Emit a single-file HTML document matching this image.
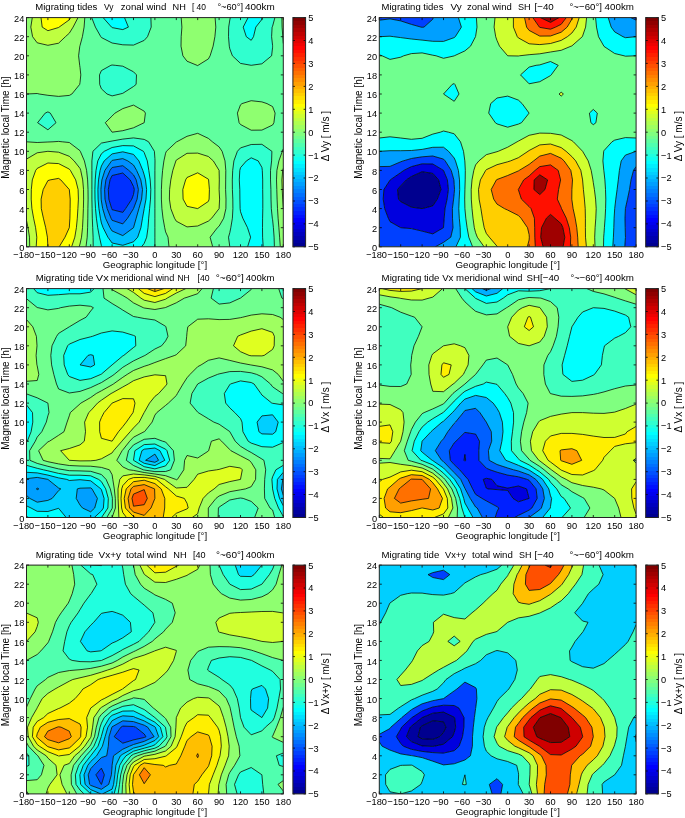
<!DOCTYPE html>
<html><head><meta charset="utf-8"><style>
html,body{margin:0;padding:0;background:#fff;}
svg{display:block;will-change:transform;}
</style></head><body>
<svg width="685" height="818" viewBox="0 0 685 818">
<defs><linearGradient id="jetg" x1="0" y1="0" x2="0" y2="1"><stop offset="0.0000" stop-color="#800000"/><stop offset="0.0156" stop-color="#800000"/><stop offset="0.0156" stop-color="#8f0000"/><stop offset="0.0312" stop-color="#8f0000"/><stop offset="0.0312" stop-color="#9f0000"/><stop offset="0.0469" stop-color="#9f0000"/><stop offset="0.0469" stop-color="#af0000"/><stop offset="0.0625" stop-color="#af0000"/><stop offset="0.0625" stop-color="#bf0000"/><stop offset="0.0781" stop-color="#bf0000"/><stop offset="0.0781" stop-color="#cf0000"/><stop offset="0.0938" stop-color="#cf0000"/><stop offset="0.0938" stop-color="#df0000"/><stop offset="0.1094" stop-color="#df0000"/><stop offset="0.1094" stop-color="#ef0000"/><stop offset="0.1250" stop-color="#ef0000"/><stop offset="0.1250" stop-color="#ff0000"/><stop offset="0.1406" stop-color="#ff0000"/><stop offset="0.1406" stop-color="#ff1000"/><stop offset="0.1562" stop-color="#ff1000"/><stop offset="0.1562" stop-color="#ff2000"/><stop offset="0.1719" stop-color="#ff2000"/><stop offset="0.1719" stop-color="#ff3000"/><stop offset="0.1875" stop-color="#ff3000"/><stop offset="0.1875" stop-color="#ff4000"/><stop offset="0.2031" stop-color="#ff4000"/><stop offset="0.2031" stop-color="#ff5000"/><stop offset="0.2188" stop-color="#ff5000"/><stop offset="0.2188" stop-color="#ff6000"/><stop offset="0.2344" stop-color="#ff6000"/><stop offset="0.2344" stop-color="#ff7000"/><stop offset="0.2500" stop-color="#ff7000"/><stop offset="0.2500" stop-color="#ff8000"/><stop offset="0.2656" stop-color="#ff8000"/><stop offset="0.2656" stop-color="#ff8f00"/><stop offset="0.2812" stop-color="#ff8f00"/><stop offset="0.2812" stop-color="#ff9f00"/><stop offset="0.2969" stop-color="#ff9f00"/><stop offset="0.2969" stop-color="#ffaf00"/><stop offset="0.3125" stop-color="#ffaf00"/><stop offset="0.3125" stop-color="#ffbf00"/><stop offset="0.3281" stop-color="#ffbf00"/><stop offset="0.3281" stop-color="#ffcf00"/><stop offset="0.3438" stop-color="#ffcf00"/><stop offset="0.3438" stop-color="#ffdf00"/><stop offset="0.3594" stop-color="#ffdf00"/><stop offset="0.3594" stop-color="#ffef00"/><stop offset="0.3750" stop-color="#ffef00"/><stop offset="0.3750" stop-color="#ffff00"/><stop offset="0.3906" stop-color="#ffff00"/><stop offset="0.3906" stop-color="#efff10"/><stop offset="0.4062" stop-color="#efff10"/><stop offset="0.4062" stop-color="#dfff20"/><stop offset="0.4219" stop-color="#dfff20"/><stop offset="0.4219" stop-color="#cfff30"/><stop offset="0.4375" stop-color="#cfff30"/><stop offset="0.4375" stop-color="#bfff40"/><stop offset="0.4531" stop-color="#bfff40"/><stop offset="0.4531" stop-color="#afff50"/><stop offset="0.4688" stop-color="#afff50"/><stop offset="0.4688" stop-color="#9fff60"/><stop offset="0.4844" stop-color="#9fff60"/><stop offset="0.4844" stop-color="#8fff70"/><stop offset="0.5000" stop-color="#8fff70"/><stop offset="0.5000" stop-color="#80ff80"/><stop offset="0.5156" stop-color="#80ff80"/><stop offset="0.5156" stop-color="#70ff8f"/><stop offset="0.5312" stop-color="#70ff8f"/><stop offset="0.5312" stop-color="#60ff9f"/><stop offset="0.5469" stop-color="#60ff9f"/><stop offset="0.5469" stop-color="#50ffaf"/><stop offset="0.5625" stop-color="#50ffaf"/><stop offset="0.5625" stop-color="#40ffbf"/><stop offset="0.5781" stop-color="#40ffbf"/><stop offset="0.5781" stop-color="#30ffcf"/><stop offset="0.5938" stop-color="#30ffcf"/><stop offset="0.5938" stop-color="#20ffdf"/><stop offset="0.6094" stop-color="#20ffdf"/><stop offset="0.6094" stop-color="#10ffef"/><stop offset="0.6250" stop-color="#10ffef"/><stop offset="0.6250" stop-color="#00ffff"/><stop offset="0.6406" stop-color="#00ffff"/><stop offset="0.6406" stop-color="#00efff"/><stop offset="0.6562" stop-color="#00efff"/><stop offset="0.6562" stop-color="#00dfff"/><stop offset="0.6719" stop-color="#00dfff"/><stop offset="0.6719" stop-color="#00cfff"/><stop offset="0.6875" stop-color="#00cfff"/><stop offset="0.6875" stop-color="#00bfff"/><stop offset="0.7031" stop-color="#00bfff"/><stop offset="0.7031" stop-color="#00afff"/><stop offset="0.7188" stop-color="#00afff"/><stop offset="0.7188" stop-color="#009fff"/><stop offset="0.7344" stop-color="#009fff"/><stop offset="0.7344" stop-color="#008fff"/><stop offset="0.7500" stop-color="#008fff"/><stop offset="0.7500" stop-color="#0080ff"/><stop offset="0.7656" stop-color="#0080ff"/><stop offset="0.7656" stop-color="#0070ff"/><stop offset="0.7812" stop-color="#0070ff"/><stop offset="0.7812" stop-color="#0060ff"/><stop offset="0.7969" stop-color="#0060ff"/><stop offset="0.7969" stop-color="#0050ff"/><stop offset="0.8125" stop-color="#0050ff"/><stop offset="0.8125" stop-color="#0040ff"/><stop offset="0.8281" stop-color="#0040ff"/><stop offset="0.8281" stop-color="#0030ff"/><stop offset="0.8438" stop-color="#0030ff"/><stop offset="0.8438" stop-color="#0020ff"/><stop offset="0.8594" stop-color="#0020ff"/><stop offset="0.8594" stop-color="#0010ff"/><stop offset="0.8750" stop-color="#0010ff"/><stop offset="0.8750" stop-color="#0000ff"/><stop offset="0.8906" stop-color="#0000ff"/><stop offset="0.8906" stop-color="#0000ef"/><stop offset="0.9062" stop-color="#0000ef"/><stop offset="0.9062" stop-color="#0000df"/><stop offset="0.9219" stop-color="#0000df"/><stop offset="0.9219" stop-color="#0000cf"/><stop offset="0.9375" stop-color="#0000cf"/><stop offset="0.9375" stop-color="#0000bf"/><stop offset="0.9531" stop-color="#0000bf"/><stop offset="0.9531" stop-color="#0000af"/><stop offset="0.9688" stop-color="#0000af"/><stop offset="0.9688" stop-color="#00009f"/><stop offset="0.9844" stop-color="#00009f"/><stop offset="0.9844" stop-color="#00008f"/><stop offset="1.0000" stop-color="#00008f"/></linearGradient></defs>
<clipPath id="cp0"><rect x="26.5" y="17.6" width="256.8" height="229.2"/></clipPath>
<g clip-path="url(#cp0)">
<rect x="26.5" y="17.6" width="256.8" height="229.2" fill="#60ff9f"/>
<path fill="#0030ff" d="M112.1 209.7L122.8 212.4L125.6 208.6L131.8 199.1L133.5 194.5L134.3 189.5L133.5 186.5L130.2 179.9L122.8 173L112.1 175.5L110 179.9L108.3 189.5L108.8 199.1L111.7 208.6Z"/>
<path fill="#0060ff" d="M112.1 220.3L122.8 223.9L127.6 218.2L133.5 208.6L133.5 208.6L137.1 199.1L138.4 189.5L136.2 179.9L133.5 174.9L128.8 170.4L122.8 165.7L112.1 167.5L110 170.4L105.9 179.9L104.6 189.5L105 199.1L107.2 208.6L111 218.2ZM111.7 208.6L108.8 199.1L108.3 189.5L110 179.9L112.1 175.5L122.8 173L130.2 179.9L133.5 186.5L134.3 189.5L133.5 194.5L131.8 199.1L125.6 208.6L122.8 212.4L112.1 209.7Z"/>
<path fill="#008fff" d="M112.1 231L122.8 235.6L133.5 227.7L133.5 227.7L136.2 218.2L138.9 208.6L141.6 199.1L142.5 189.5L140.8 179.9L136.6 170.4L133.5 165L127.8 160.9L122.8 158.6L112.1 160.4L111.6 160.9L104.9 170.4L101.9 179.9L101.4 184L100.9 189.5L101.2 199.1L101.4 201L102.7 208.6L105.5 218.2L110 227.7ZM111 218.2L107.2 208.6L105 199.1L104.6 189.5L105.9 179.9L110 170.4L112.1 167.5L122.8 165.7L128.8 170.4L133.5 174.9L136.2 179.9L138.4 189.5L137.1 199.1L133.5 208.6L133.5 208.6L127.6 218.2L122.8 223.9L112.1 220.3Z"/>
<path fill="#00bfff" d="M112.1 243L122.8 245.3L133.5 241.8L137.7 237.2L140.9 227.7L142.5 218.2L144.2 208.7L144.2 208.6L146 199.1L146.6 189.5L145.5 179.9L144.2 174.8L142.8 170.4L138.9 160.9L133.5 154.4L122.8 151.8L112.1 153.9L104.2 160.9L101.4 166L100.1 170.4L98.5 179.9L97.9 189.5L98.1 199.1L98.9 208.6L100.4 218.2L101.4 223L103.1 227.7L107.9 237.2ZM110 227.7L105.5 218.2L102.7 208.6L101.4 201L101.2 199.1L100.9 189.5L101.4 184L101.9 179.9L104.9 170.4L111.6 160.9L112.1 160.4L122.8 158.6L127.8 160.9L133.5 165L136.6 170.4L140.8 179.9L142.5 189.5L141.6 199.1L138.9 208.6L136.2 218.2L133.5 227.7L133.5 227.7L122.8 235.6L112.1 231Z"/>
<path fill="#00ffff" d="M101.4 245.7L102 246.8L112.1 246.8L122.8 246.8L133.5 246.8L141.5 246.8L144.2 243.4L146.7 237.2L148 227.7L148.7 218.2L149.6 208.6L150.5 199.1L150.8 189.5L150.2 179.9L148.8 170.4L147.3 160.9L144.2 152.6L143.4 151.3L133.5 145.9L122.8 145.6L112.1 147.5L104.3 151.3L101.4 153.8L97.8 160.9L96 170.4L95.2 179.9L94.9 189.5L95 199.1L95.5 208.6L96.4 218.2L97.7 227.7L99.5 237.2ZM107.9 237.2L103.1 227.7L101.4 223L100.4 218.2L98.9 208.6L98.1 199.1L97.9 189.5L98.5 179.9L100.1 170.4L101.4 166L104.2 160.9L112.1 153.9L122.8 151.8L133.5 154.4L138.9 160.9L142.8 170.4L144.2 174.8L145.5 179.9L146.6 189.5L146 199.1L144.2 208.6L144.2 208.7L142.5 218.2L140.9 227.7L137.7 237.2L133.5 241.8L122.8 245.3L112.1 243ZM251.2 246.8L261.9 246.8L263.2 246.8L262.6 237.2L262.5 227.7L262.6 218.2L262.8 208.6L262.8 199.1L262.7 189.5L262.7 179.9L262.3 170.4L261.9 167.4L258.2 160.9L251.2 157.8L246.4 160.9L240.5 167.7L239.8 170.4L239.3 179.9L239.8 189.5L239.9 199.1L240.1 208.6L240.5 211.7L242.8 218.2L247.5 227.7L250.6 237.2L247.6 246.8ZM251.2 40.3L253.5 36.7L255.8 27.1L261.9 19.4L262.6 17.6L261.9 17.6L251.2 17.6L248.1 17.6L243.2 27.1L246.3 36.7ZM112.1 27.6L122.8 29.6L128.4 27.1L124.5 17.6L122.8 17.6L112.1 17.6L103.1 17.6L111.5 27.1Z"/>
<path fill="#30ffcf" d="M101.4 246.8L102 246.8L101.4 245.7L99.5 237.2L97.7 227.7L96.4 218.2L95.5 208.6L95 199.1L94.9 189.5L95.2 179.9L96 170.4L97.8 160.9L101.4 153.8L104.3 151.3L112.1 147.5L122.8 145.6L133.5 145.9L143.4 151.3L144.2 152.6L147.3 160.9L148.8 170.4L150.2 179.9L150.8 189.5L150.5 199.1L149.6 208.6L148.7 218.2L148 227.7L146.7 237.2L144.2 243.4L141.5 246.8L144.2 246.8L154.9 246.8L154.9 246.8L154.9 237.2L154.9 227.7L154.9 227.7L154.9 218.2L154.9 208.6L154.9 208.6L154.9 199.1L154.9 189.5L154.9 189.5L154.9 179.9L154.9 170.4L154.9 170.4L155 160.9L154.9 158.4L154.4 151.3L148.6 141.8L144.2 139.4L133.5 137.9L122.8 139.1L112.1 141L107.9 141.8L101.4 143.1L92.9 151.3L91.9 160.9L91.9 170.4L91.9 179.9L91.9 189.5L91.9 199.1L92.1 208.6L92.3 218.2L92.7 227.7L93.1 237.2L93.2 246.8ZM229.8 246.8L240.5 246.8L247.6 246.8L250.6 237.2L247.5 227.7L242.8 218.2L240.5 211.7L240.1 208.6L239.9 199.1L239.8 189.5L239.3 179.9L239.8 170.4L240.5 167.7L246.4 160.9L251.2 157.8L258.2 160.9L261.9 167.4L262.3 170.4L262.7 179.9L262.7 189.5L262.8 199.1L262.8 208.6L262.6 218.2L262.5 227.7L262.6 237.2L263.2 246.8L272.6 246.8L274.4 246.8L274.1 237.2L273.4 227.7L272.6 219.7L272.3 218.2L271.3 208.6L271 199.1L270.9 189.5L270.5 179.9L270.5 170.4L271.6 160.9L271.9 151.3L261.9 144.3L251.2 144.5L240.5 147.9L237.4 151.3L233.9 160.9L232.7 170.4L232.3 179.9L232.4 189.5L232.8 199.1L232.9 208.6L232.4 218.2L230.8 227.7L229.8 232.7L228.5 237.2L229.8 246.8ZM47.9 129.8L56 122.7L50.3 113.1L47.9 111.9L45.2 113.1L37.6 122.7ZM112.1 95.9L120.1 94L122.8 93.3L133.5 86.5L136.1 84.4L136.5 74.9L133.5 71.8L122.8 66.2L115.2 65.3L112.1 65L110.9 65.3L101.4 70.6L99.5 74.9L99.7 84.4L101.4 88.8L107 94ZM240.5 63.4L251.2 65.3L261.9 63.8L271.6 55.8L272.6 47.2L272.6 46.2L272.6 45.7L271.6 36.7L272.1 27.1L272.6 26.2L274.9 17.6L272.6 17.6L262.6 17.6L261.9 19.4L255.8 27.1L253.5 36.7L251.2 40.3L246.3 36.7L243.2 27.1L248.1 17.6L240.5 17.6L230.3 17.6L229.8 20L228.7 27.1L228.5 36.7L229.3 46.2L229.8 48.8L232.4 55.8ZM101.4 37.5L112.1 43L122.8 44.8L133.5 45.1L144.2 40.4L147.5 36.7L151.2 27.1L150.9 17.6L144.2 17.6L133.5 17.6L124.5 17.6L128.4 27.1L122.8 29.6L112.1 27.6L111.5 27.1L103.1 17.6L101.4 17.6L91.7 17.6L95.4 27.1L100.8 36.7Z"/>
<path fill="#60ff9f" d="M90.7 246.8L93.2 246.8L93.1 237.2L92.7 227.7L92.3 218.2L92.1 208.6L91.9 199.1L91.9 189.5L91.9 179.9L91.9 170.4L91.9 160.9L92.9 151.3L101.4 143.1L107.9 141.8L112.1 141L122.8 139.1L133.5 137.9L144.2 139.4L148.6 141.8L154.4 151.3L154.9 158.4L155 160.9L154.9 170.4L154.9 170.4L154.9 179.9L154.9 189.5L154.9 189.5L154.9 199.1L154.9 208.6L154.9 208.6L154.9 218.2L154.9 227.7L154.9 227.7L154.9 237.2L154.9 246.8L165.6 246.8L169 246.8L168 237.2L165.6 231.9L164.7 227.7L163 218.2L161.9 208.6L161.4 199.1L161.4 189.5L161.8 179.9L162.6 170.4L163.9 160.9L165.6 153.2L166.4 151.3L176.3 142L176.8 141.8L187 136.3L197.7 133.3L208.4 138.4L212.4 141.8L219.1 146.9L222.1 151.3L225 160.9L225.8 170.4L225.7 179.9L225.6 189.5L226 199.1L225.9 208.6L223.7 218.2L219.1 226.2L217.4 227.7L210.1 237.2L212.7 246.8L219.1 246.8L229.8 246.8L228.5 237.2L229.8 232.7L230.8 227.7L232.4 218.2L232.9 208.6L232.8 199.1L232.4 189.5L232.3 179.9L232.7 170.4L233.9 160.9L237.4 151.3L240.5 147.9L251.2 144.5L261.9 144.3L271.9 151.3L271.6 160.9L270.5 170.4L270.5 179.9L270.9 189.5L271 199.1L271.3 208.6L272.3 218.2L272.6 219.7L273.4 227.7L274.1 237.2L274.4 246.8L280.3 246.8L279.6 237.2L278.9 227.7L278.1 218.2L277.5 208.6L277.1 199.1L276.8 189.5L276.5 179.9L276.9 170.4L278.9 160.9L282.3 151.3L283.3 148.8L283.3 141.8L283.3 132.2L283.3 122.7L283.3 113.1L283.3 103.6L283.3 94L283.3 84.4L283.3 74.9L283.3 65.3L283.3 55.8L283.3 46.2L283.3 43.5L282.8 36.7L282.1 27.1L281.9 17.6L274.9 17.6L272.6 26.2L272.1 27.1L271.6 36.7L272.6 45.7L272.6 46.2L272.6 47.2L271.6 55.8L261.9 63.8L251.2 65.3L240.5 63.4L232.4 55.8L229.8 48.8L229.3 46.2L228.5 36.7L228.7 27.1L229.8 20L230.3 17.6L229.8 17.6L219.1 17.6L215.1 17.6L215.8 27.1L214.9 36.7L213.1 46.2L210.1 55.8L208.4 58.9L198.1 65.3L197.7 65.6L197 65.3L187 61.2L182.9 55.8L181 46.2L181.2 36.7L181.9 27.1L181.2 17.6L176.3 17.6L165.6 17.6L154.9 17.6L150.9 17.6L151.2 27.1L147.5 36.7L144.2 40.4L133.5 45.1L122.8 44.8L112.1 43L101.4 37.5L100.8 36.7L95.4 27.1L91.7 17.6L90.7 17.6L84.8 17.6L84.1 27.1L82.4 36.7L80 45.6L79.8 46.3L78.6 55.8L79.7 65.3L80 67.4L80.8 74.9L80 82.6L79.7 84.4L71.9 94L69.3 95.4L58.6 96.4L47.9 95.3L39.2 94L37.2 93.5L26.5 94L26.5 94L26.5 103.6L26.5 113.1L26.5 122.7L26.5 132.2L26.5 141.8L26.5 141.8L37.2 142.5L47.9 142L53 141.8L58.6 141.4L62.2 141.8L69.3 142.5L80 150.7L80.3 151.3L84.4 160.9L86.6 170.4L87.6 179.9L88 189.5L88.1 199.1L87.9 208.6L87.8 218.2L87.6 227.7L87.2 237.2L86 246.8ZM112.1 132.2L105.3 122.7L112.1 116L115 113.1L122.8 108.6L133.5 105.1L144.2 111.2L145.4 113.1L144.2 122.7L144.2 122.7L133.5 127.8L122.8 130.7L112.1 132.2L112.1 132.2ZM37.6 122.7L45.2 113.1L47.9 111.9L50.3 113.1L56 122.7L47.9 129.8ZM239.1 122.7L237.4 113.1L240.5 104.8L242 103.5L251.2 100.7L261.9 101.9L267 103.6L272.6 106.6L275.1 113.1L273.9 122.7L272.6 125L261.9 130.1L251.2 130.2L240.5 124.5ZM107 94L101.4 88.8L99.7 84.4L99.5 74.9L101.4 70.6L110.9 65.3L112.1 65L115.2 65.3L122.8 66.2L133.5 71.8L136.5 74.9L136.1 84.4L133.5 86.5L122.8 93.3L120.1 94L112.1 95.9Z"/>
<path fill="#8fff70" d="M29.5 237.2L28 227.7L26.5 220.5L26.5 227.7L26.5 237.2L26.5 246.8L29.7 246.8ZM80 246.8L86 246.8L87.2 237.2L87.6 227.7L87.8 218.2L87.9 208.6L88.1 199.1L88 189.5L87.6 179.9L86.6 170.4L84.4 160.9L80.3 151.3L80 150.7L69.3 142.5L62.2 141.8L58.6 141.4L53 141.8L47.9 142L37.2 142.5L26.5 141.8L26.5 151.3L26.5 159.1L37.2 152.8L47.9 151.3L58.6 152.2L69.3 156.3L74.1 160.9L80 168.4L80.7 170.4L82.7 179.9L83.5 189.5L83.6 199.1L83.4 208.6L83 218.2L82.5 227.7L81.5 237.2L80 244L79.2 246.8ZM176.3 246.8L187 246.8L197.7 246.8L208.4 246.8L212.7 246.8L210.1 237.2L217.4 227.7L219.1 226.2L223.7 218.2L225.9 208.6L226 199.1L225.6 189.5L225.7 179.9L225.8 170.4L225 160.9L222.1 151.3L219.1 146.9L212.4 141.8L208.4 138.4L197.7 133.3L187 136.3L176.8 141.8L176.3 142L166.4 151.3L165.6 153.2L163.9 160.9L162.6 170.4L161.8 179.9L161.4 189.5L161.4 199.1L161.9 208.6L163 218.2L164.7 227.7L165.6 231.9L168 237.2L169 246.8ZM174.5 218.2L170.8 208.6L169.4 199.1L169.6 189.5L170.8 179.9L172.8 170.4L175.9 160.9L176.3 160.1L187 153.3L197.7 153.1L208.4 156.5L213.3 160.9L219.1 170.4L219.1 170.4L219.3 179.9L219.1 189.5L219.6 199.1L219.1 208.6L219.1 208.6L211.7 218.2L208.4 221.1L197.7 226L187 226.9L176.3 221.2ZM283.3 246.8L283.3 237.2L283.3 227.7L283.3 218.2L283.3 208.6L283.3 208.6L282.7 199.1L282.2 189.5L281.9 179.9L282.7 170.4L283.3 168.3L283.3 160.9L283.3 151.3L283.3 148.8L282.3 151.3L278.9 160.9L276.9 170.4L276.5 179.9L276.8 189.5L277.1 199.1L277.5 208.6L278.1 218.2L278.9 227.7L279.6 237.2L280.3 246.8ZM112.1 132.2L112.1 132.2L122.8 130.7L133.5 127.8L144.2 122.7L144.2 122.7L145.4 113.1L144.2 111.2L133.5 105.1L122.8 108.6L115 113.1L112.1 116L105.3 122.7L112.1 132.2ZM240.5 124.5L251.2 130.2L261.9 130.1L272.6 125L273.9 122.7L275.1 113.1L272.6 106.6L267 103.6L261.9 101.9L251.2 100.7L242 103.6L240.5 104.8L237.4 113.1L239.1 122.7ZM47.9 95.3L58.6 96.4L69.3 95.4L71.9 94L79.7 84.4L80 82.6L80.8 74.9L80 67.4L79.7 65.3L78.6 55.8L79.8 46.2L80 45.6L82.4 36.7L84.1 27.1L84.8 17.6L80 17.6L78 17.6L73.1 27.1L69.3 33.2L65.4 36.7L58.6 43.2L47.9 45.3L37.2 42.8L32.6 36.7L30.8 27.1L32.3 17.6L26.5 17.6L26.5 27.1L26.5 36.7L26.5 46.2L26.5 55.8L26.5 65.3L26.5 74.9L26.5 84.4L26.5 94L37.2 93.5L39.2 94ZM197.7 65.6L198.1 65.3L208.4 58.9L210.1 55.8L213.1 46.2L214.9 36.7L215.8 27.1L215.1 17.6L208.4 17.6L197.7 17.6L187 17.6L181.2 17.6L181.9 27.1L181.2 36.7L181 46.2L182.9 55.8L187 61.2L197 65.3ZM283.3 43.5L283.3 36.7L283.3 27.1L283.3 17.6L281.9 17.6L282.1 27.1L282.8 36.7Z"/>
<path fill="#bfff40" d="M36.8 237.2L35.6 227.7L33.6 218.2L31.9 208.6L31.2 199.1L31.3 189.5L32.3 179.9L35.7 170.4L37.2 168.4L47.9 163L58.6 163.6L69.3 169.1L70.4 170.4L75.7 179.9L78.1 189.5L78.4 199.1L77.9 208.6L77.3 218.2L76.4 227.7L74.8 237.2L71.6 246.8L79.2 246.8L80 244L81.5 237.2L82.5 227.7L83 218.2L83.4 208.6L83.6 199.1L83.5 189.5L82.7 179.9L80.7 170.4L80 168.4L74.1 160.9L69.3 156.3L58.6 152.2L47.9 151.3L37.2 152.8L26.5 159.1L26.5 160.9L26.5 170.4L26.5 179.9L26.5 189.5L26.5 199.1L26.5 208.6L26.5 218.2L26.5 220.5L28 227.7L29.5 237.2L29.7 246.8L36.2 246.8ZM176.3 221.2L187 226.9L197.7 226L208.4 221.1L211.7 218.2L219.1 208.6L219.1 208.6L219.6 199.1L219.1 189.5L219.3 179.9L219.1 170.4L219.1 170.4L213.3 160.9L208.4 156.5L197.7 153.1L187 153.3L176.3 160.1L175.9 160.9L172.8 170.4L170.8 179.9L169.6 189.5L169.4 199.1L170.8 208.6L174.5 218.2ZM197.7 208.6L187 206.3L183.1 199.1L182.8 189.5L185.6 179.9L187 177.5L197.7 172.8L208.4 179.2L208.6 179.9L209.4 189.5L209.1 199.1L208.4 201.4L197.7 208.6L197.7 208.6ZM283.3 208.6L283.3 208.6L283.3 199.1L283.3 189.5L283.3 179.9L283.3 170.4L283.3 168.3L282.7 170.4L281.9 179.9L282.2 189.5L282.7 199.1L283.3 208.6ZM37.2 42.8L47.9 45.3L58.6 43.2L65.4 36.7L69.3 33.2L73.1 27.1L78 17.6L70.7 17.6L69.3 19.8L59 27.1L58.6 27.5L47.9 30.7L42.2 27.1L41 17.6L37.2 17.6L32.3 17.6L30.8 27.1L32.6 36.7Z"/>
<path fill="#ffff00" d="M37.2 246.8L47.9 246.8L47.4 237.2L45.7 227.7L43.4 218.2L41.3 208.6L41.1 199.1L43.2 189.5L47.9 180.6L50.1 179.9L58.6 178.4L60.8 179.9L69.3 189.5L69.3 189.5L70.2 199.1L70.1 208.6L69.9 218.2L69.3 227.7L69.3 227.7L65 237.2L59.2 246.8L69.3 246.8L71.6 246.8L74.8 237.2L76.4 227.7L77.3 218.2L77.9 208.6L78.4 199.1L78.1 189.5L75.7 179.9L70.4 170.4L69.3 169.1L58.6 163.6L47.9 163L37.2 168.4L35.7 170.4L32.3 179.9L31.3 189.5L31.2 199.1L31.9 208.6L33.6 218.2L35.6 227.7L36.8 237.2L36.2 246.8ZM197.7 208.6L197.7 208.6L208.4 201.4L209.1 199.1L209.4 189.5L208.6 179.9L208.4 179.2L197.7 172.8L187 177.5L185.6 179.9L182.8 189.5L183.1 199.1L187 206.3L197.7 208.6ZM47.9 30.7L58.6 27.5L59 27.2L69.3 19.8L70.7 17.6L69.3 17.6L58.6 17.6L47.9 17.6L41 17.6L42.2 27.1Z"/>
<path fill="#ffcf00" d="M47.9 246.8L58.6 246.8L59.2 246.8L65 237.2L69.3 227.7L69.3 227.7L69.9 218.2L70.1 208.6L70.2 199.1L69.3 189.5L69.3 189.5L60.8 179.9L58.6 178.4L50.1 179.9L47.9 180.6L43.2 189.5L41.1 199.1L41.3 208.6L43.4 218.2L45.7 227.7L47.4 237.2L47.9 246.8Z"/>
<path fill="none" stroke="#000" stroke-width="0.75" stroke-linejoin="round" d="M112.1 209.7L111.7 208.6L108.8 199.1L108.3 189.5L110 179.9L112.1 175.5L122.8 173L130.2 179.9L133.5 186.5L134.3 189.5L133.5 194.5L131.8 199.1L125.6 208.6L122.8 212.4L112.1 209.7M112.1 220.3L111 218.2L107.2 208.6L105 199.1L104.6 189.5L105.9 179.9L110 170.4L112.1 167.5L122.8 165.7L128.8 170.4L133.5 174.9L136.2 179.9L138.4 189.5L137.1 199.1L133.5 208.6L133.5 208.6L127.6 218.2L122.8 223.9ZM112.1 231L110 227.7L105.5 218.2L102.7 208.6L101.4 201L101.2 199.1L100.9 189.5L101.4 184L101.9 179.9L104.9 170.4L111.6 160.9L112.1 160.4L122.8 158.6L127.8 160.9L133.5 165L136.6 170.4L140.8 179.9L142.5 189.5L141.6 199.1L138.9 208.6L136.2 218.2L133.5 227.7L133.5 227.7L122.8 235.6L112.1 231M112.1 243L107.9 237.2L103.1 227.7L101.4 223L100.4 218.2L98.9 208.6L98.1 199.1L97.9 189.5L98.5 179.9L100.1 170.4L101.4 166L104.2 160.9L112.1 153.9L122.8 151.8L133.5 154.4L138.9 160.9L142.8 170.4L144.2 174.8L145.5 179.9L146.6 189.5L146 199.1L144.2 208.6L144.2 208.7L142.5 218.2L140.9 227.7L137.7 237.2L133.5 241.8L122.8 245.3L112.1 243M102 246.8L101.4 245.7L99.5 237.2L97.7 227.7L96.4 218.2L95.5 208.6L95 199.1L94.9 189.5L95.2 179.9L96 170.4L97.8 160.9L101.4 153.8L104.3 151.3L112.1 147.5L122.8 145.6L133.5 145.9L143.4 151.3L144.2 152.6L147.3 160.9L148.8 170.4L150.2 179.9L150.8 189.5L150.5 199.1L149.6 208.6L148.7 218.2L148 227.7L146.7 237.2L144.2 243.4L141.5 246.8M247.6 246.8L250.6 237.2L247.5 227.7L242.8 218.2L240.5 211.7L240.1 208.6L239.9 199.1L239.8 189.5L239.3 179.9L239.8 170.4L240.5 167.7L246.4 160.9L251.2 157.8L258.2 160.9L261.9 167.4L262.3 170.4L262.7 179.9L262.7 189.5L262.8 199.1L262.8 208.6L262.6 218.2L262.5 227.7L262.6 237.2L263.2 246.8M124.5 17.6L128.4 27.1L122.8 29.6L112.1 27.6L111.5 27.1L103.1 17.6M262.6 17.6L261.9 19.4L255.8 27.1L253.5 36.7L251.2 40.3L246.3 36.7L243.2 27.1L248.1 17.6M93.2 246.8L93.1 237.2L92.7 227.7L92.3 218.2L92.1 208.6L91.9 199.1L91.9 189.5L91.9 179.9L91.9 170.4L91.9 160.9L92.9 151.3L101.4 143.1L107.9 141.8L112.1 141L122.8 139.1L133.5 137.9L144.2 139.4L148.6 141.8L154.4 151.3L154.9 158.4L155 160.9L154.9 170.4L154.9 170.4L154.9 179.9L154.9 189.5L154.9 189.5L154.9 199.1L154.9 208.6L154.9 208.6L154.9 218.2L154.9 227.7L154.9 227.7L154.9 237.2L154.9 246.8M229.8 246.8L228.5 237.2L229.8 232.7L230.8 227.7L232.4 218.2L232.9 208.6L232.8 199.1L232.4 189.5L232.3 179.9L232.7 170.4L233.9 160.9L237.4 151.3L240.5 147.9L251.2 144.5L261.9 144.3L271.9 151.3L271.6 160.9L270.5 170.4L270.5 179.9L270.9 189.5L271 199.1L271.3 208.6L272.3 218.2L272.6 219.7L273.4 227.7L274.1 237.2L274.4 246.8M150.9 17.6L151.2 27.1L147.5 36.7L144.2 40.4L133.5 45.1L122.8 44.8L112.1 43L101.4 37.5L100.8 36.7L95.4 27.1L91.7 17.6M274.9 17.6L272.6 26.2L272.1 27.1L271.6 36.7L272.6 45.7L272.6 46.2L272.6 47.2L271.6 55.8L261.9 63.8L251.2 65.3L240.5 63.4L232.4 55.8L229.8 48.8L229.3 46.2L228.5 36.7L228.7 27.1L229.8 20L230.3 17.6M47.9 129.8L37.6 122.7L45.2 113.1L47.9 111.9L50.3 113.1L56 122.7ZM112.1 95.9L107 94L101.4 88.8L99.7 84.4L99.5 74.9L101.4 70.6L110.9 65.3L112.1 65L115.2 65.3L122.8 66.2L133.5 71.8L136.5 74.9L136.1 84.4L133.5 86.5L122.8 93.3L120.1 94ZM86 246.8L87.2 237.2L87.6 227.7L87.8 218.2L87.9 208.6L88.1 199.1L88 189.5L87.6 179.9L86.6 170.4L84.4 160.9L80.3 151.3L80 150.7L69.3 142.5L62.2 141.8L58.6 141.4L53 141.8L47.9 142L37.2 142.5L26.5 141.8M212.7 246.8L210.1 237.2L217.4 227.7L219.1 226.2L223.7 218.2L225.9 208.6L226 199.1L225.6 189.5L225.7 179.9L225.8 170.4L225 160.9L222.1 151.3L219.1 146.9L212.4 141.8L208.4 138.4L197.7 133.3L187 136.3L176.8 141.8L176.3 142L166.4 151.3L165.6 153.2L163.9 160.9L162.6 170.4L161.8 179.9L161.4 189.5L161.4 199.1L161.9 208.6L163 218.2L164.7 227.7L165.6 231.9L168 237.2L169 246.8M283.3 148.8L282.3 151.3L278.9 160.9L276.9 170.4L276.5 179.9L276.8 189.5L277.1 199.1L277.5 208.6L278.1 218.2L278.9 227.7L279.6 237.2L280.3 246.8M26.5 94L37.2 93.5L39.2 94L47.9 95.3L58.6 96.4L69.3 95.4L71.9 94L79.7 84.4L80 82.6L80.8 74.9L80 67.4L79.7 65.3L78.6 55.8L79.8 46.2L80 45.6L82.4 36.7L84.1 27.1L84.8 17.6M181.2 17.6L181.9 27.1L181.2 36.7L181 46.2L182.9 55.8L187 61.2L197 65.3L197.7 65.6L198.1 65.3L208.4 58.9L210.1 55.8L213.1 46.2L214.9 36.7L215.8 27.1L215.1 17.6M281.9 17.6L282.1 27.1L282.8 36.7L283.3 43.5M112.1 132.2L112.1 132.2L122.8 130.7L133.5 127.8L144.2 122.7L144.2 122.7L145.4 113.1L144.2 111.2L133.5 105.1L122.8 108.6L115 113.1L112.1 116L105.3 122.7L112.1 132.2ZM240.5 124.5L251.2 130.2L261.9 130.1L272.6 125L273.9 122.7L275.1 113.1L272.6 106.6L267 103.6L261.9 101.9L251.2 100.7L242 103.6L240.5 104.8L237.4 113.1L239.1 122.7ZM79.2 246.8L80 244L81.5 237.2L82.5 227.7L83 218.2L83.4 208.6L83.6 199.1L83.5 189.5L82.7 179.9L80.7 170.4L80 168.4L74.1 160.9L69.3 156.3L58.6 152.2L47.9 151.3L37.2 152.8L26.5 159.1M26.5 220.5L28 227.7L29.5 237.2L29.7 246.8M283.3 168.3L282.7 170.4L281.9 179.9L282.2 189.5L282.7 199.1L283.3 208.6L283.3 208.6M32.3 17.6L30.8 27.1L32.6 36.7L37.2 42.8L47.9 45.3L58.6 43.2L65.4 36.7L69.3 33.2L73.1 27.1L78 17.6M176.3 221.2L187 226.9L197.7 226L208.4 221.1L211.7 218.2L219.1 208.6L219.1 208.6L219.6 199.1L219.1 189.5L219.3 179.9L219.1 170.4L219.1 170.4L213.3 160.9L208.4 156.5L197.7 153.1L187 153.3L176.3 160.1L175.9 160.9L172.8 170.4L170.8 179.9L169.6 189.5L169.4 199.1L170.8 208.6L174.5 218.2ZM71.6 246.8L74.8 237.2L76.4 227.7L77.3 218.2L77.9 208.6L78.4 199.1L78.1 189.5L75.7 179.9L70.4 170.4L69.3 169.1L58.6 163.6L47.9 163L37.2 168.4L35.7 170.4L32.3 179.9L31.3 189.5L31.2 199.1L31.9 208.6L33.6 218.2L35.6 227.7L36.8 237.2L36.2 246.8M41 17.6L42.2 27.1L47.9 30.7L58.6 27.5L59 27.2L69.3 19.8L70.7 17.6M197.7 208.6L197.7 208.6L208.4 201.4L209.1 199.1L209.4 189.5L208.6 179.9L208.4 179.2L197.7 172.8L187 177.5L185.6 179.9L182.8 189.5L183.1 199.1L187 206.3L197.7 208.6ZM59.2 246.8L65 237.2L69.3 227.7L69.3 227.7L69.9 218.2L70.1 208.6L70.2 199.1L69.3 189.5L69.3 189.5L60.8 179.9L58.6 178.4L50.1 179.9L47.9 180.6L43.2 189.5L41.1 199.1L41.3 208.6L43.4 218.2L45.7 227.7L47.4 237.2L47.9 246.8"/>
</g>
<path fill="none" stroke="#000" stroke-width="0.8" d="M26.5 17.6v2.5M26.5 246.8v-2.5M26.5 246.8h2.5M283.3 246.8h-2.5M47.9 17.6v2.5M47.9 246.8v-2.5M26.5 227.7h2.5M283.3 227.7h-2.5M69.3 17.6v2.5M69.3 246.8v-2.5M26.5 208.6h2.5M283.3 208.6h-2.5M90.7 17.6v2.5M90.7 246.8v-2.5M26.5 189.5h2.5M283.3 189.5h-2.5M112.1 17.6v2.5M112.1 246.8v-2.5M26.5 170.4h2.5M283.3 170.4h-2.5M133.5 17.6v2.5M133.5 246.8v-2.5M26.5 151.3h2.5M283.3 151.3h-2.5M154.9 17.6v2.5M154.9 246.8v-2.5M26.5 132.2h2.5M283.3 132.2h-2.5M176.3 17.6v2.5M176.3 246.8v-2.5M26.5 113.1h2.5M283.3 113.1h-2.5M197.7 17.6v2.5M197.7 246.8v-2.5M26.5 94h2.5M283.3 94h-2.5M219.1 17.6v2.5M219.1 246.8v-2.5M26.5 74.9h2.5M283.3 74.9h-2.5M240.5 17.6v2.5M240.5 246.8v-2.5M26.5 55.8h2.5M283.3 55.8h-2.5M261.9 17.6v2.5M261.9 246.8v-2.5M26.5 36.7h2.5M283.3 36.7h-2.5M283.3 17.6v2.5M283.3 246.8v-2.5M26.5 17.6h2.5M283.3 17.6h-2.5"/>
<rect x="26.5" y="17.6" width="256.8" height="229.2" fill="none" stroke="#222" stroke-width="1"/>
<g font-family="Liberation Sans, sans-serif" font-size="9.75" fill="#000"><text transform="translate(24.3 250.9) scale(0.95 1)" text-anchor="end">0</text><text transform="translate(24.3 231.8) scale(0.95 1)" text-anchor="end">2</text><text transform="translate(24.3 212.7) scale(0.95 1)" text-anchor="end">4</text><text transform="translate(24.3 193.6) scale(0.95 1)" text-anchor="end">6</text><text transform="translate(24.3 174.5) scale(0.95 1)" text-anchor="end">8</text><text transform="translate(24.3 155.4) scale(0.95 1)" text-anchor="end">10</text><text transform="translate(24.3 136.3) scale(0.95 1)" text-anchor="end">12</text><text transform="translate(24.3 117.2) scale(0.95 1)" text-anchor="end">14</text><text transform="translate(24.3 98.1) scale(0.95 1)" text-anchor="end">16</text><text transform="translate(24.3 79) scale(0.95 1)" text-anchor="end">18</text><text transform="translate(24.3 59.9) scale(0.95 1)" text-anchor="end">20</text><text transform="translate(24.3 40.8) scale(0.95 1)" text-anchor="end">22</text><text transform="translate(24.3 21.7) scale(0.95 1)" text-anchor="end">24</text><text transform="translate(23.8 258.3) scale(0.95 1)" text-anchor="middle">−180</text><text transform="translate(45.2 258.3) scale(0.95 1)" text-anchor="middle">−150</text><text transform="translate(66.6 258.3) scale(0.95 1)" text-anchor="middle">−120</text><text transform="translate(88 258.3) scale(0.95 1)" text-anchor="middle">−90</text><text transform="translate(109.4 258.3) scale(0.95 1)" text-anchor="middle">−60</text><text transform="translate(130.8 258.3) scale(0.95 1)" text-anchor="middle">−30</text><text transform="translate(154.9 258.3) scale(0.95 1)" text-anchor="middle">0</text><text transform="translate(176.3 258.3) scale(0.95 1)" text-anchor="middle">30</text><text transform="translate(197.7 258.3) scale(0.95 1)" text-anchor="middle">60</text><text transform="translate(219.1 258.3) scale(0.95 1)" text-anchor="middle">90</text><text transform="translate(240.5 258.3) scale(0.95 1)" text-anchor="middle">120</text><text transform="translate(261.9 258.3) scale(0.95 1)" text-anchor="middle">150</text><text transform="translate(283.3 258.3) scale(0.95 1)" text-anchor="middle">180</text></g>
<text font-family="Liberation Sans, sans-serif" font-size="9.75" fill="#000" x="102.7" y="268" textLength="104.4" lengthAdjust="spacingAndGlyphs">Geographic longitude [°]</text>
<text font-family="Liberation Sans, sans-serif" font-size="10" fill="#000" transform="translate(9.1 127.6) rotate(-90)" text-anchor="middle">Magnetic local Time [h]</text>
<g font-family="Liberation Sans, sans-serif" font-size="9.7" fill="#000"><text x="35.3" y="10.3" textLength="62.1" lengthAdjust="spacingAndGlyphs">Migrating tides</text><text x="104" y="10.3" textLength="9.5" lengthAdjust="spacingAndGlyphs">Vy</text><text x="120.7" y="10.3" textLength="45.6" lengthAdjust="spacingAndGlyphs">zonal wind</text><text x="172.5" y="10.3" textLength="13.3" lengthAdjust="spacingAndGlyphs">NH</text><text x="191.9" y="10.3" textLength="14.1" lengthAdjust="spacingAndGlyphs">[ 40</text><text x="217.4" y="10.3" textLength="25.6" lengthAdjust="spacingAndGlyphs">°~60°]</text><text x="245" y="10.3" textLength="29.7" lengthAdjust="spacingAndGlyphs">400km</text></g>
<rect x="292.9" y="17.6" width="12.7" height="229.2" fill="url(#jetg)"/>
<path fill="none" stroke="#000" stroke-width="0.8" d="M292.9 246.8h2M305.6 246.8h-2M292.9 223.9h2M305.6 223.9h-2M292.9 201h2M305.6 201h-2M292.9 178h2M305.6 178h-2M292.9 155.1h2M305.6 155.1h-2M292.9 132.2h2M305.6 132.2h-2M292.9 109.3h2M305.6 109.3h-2M292.9 86.4h2M305.6 86.4h-2M292.9 63.4h2M305.6 63.4h-2M292.9 40.5h2M305.6 40.5h-2M292.9 17.6h2M305.6 17.6h-2"/>
<rect x="292.9" y="17.6" width="12.7" height="229.2" fill="none" stroke="#222" stroke-width="1"/>
<g font-family="Liberation Sans, sans-serif" font-size="9.75" fill="#000"><text transform="translate(308.2 250.2) scale(0.95 1)">−5</text><text transform="translate(308.2 227.3) scale(0.95 1)">−4</text><text transform="translate(308.2 204.4) scale(0.95 1)">−3</text><text transform="translate(308.2 181.4) scale(0.95 1)">−2</text><text transform="translate(308.2 158.5) scale(0.95 1)">−1</text><text transform="translate(308.2 135.6) scale(0.95 1)">0</text><text transform="translate(308.2 112.7) scale(0.95 1)">1</text><text transform="translate(308.2 89.8) scale(0.95 1)">2</text><text transform="translate(308.2 66.8) scale(0.95 1)">3</text><text transform="translate(308.2 43.9) scale(0.95 1)">4</text><text transform="translate(308.2 21) scale(0.95 1)">5</text></g>
<text font-family="Liberation Sans, sans-serif" font-size="10" fill="#000" transform="translate(329.3 136.1) rotate(-90)" text-anchor="middle">Δ Vy [ m/s ]</text>
<clipPath id="cp1"><rect x="379.3" y="17.6" width="256.8" height="229.2"/></clipPath>
<g clip-path="url(#cp1)">
<rect x="379.3" y="17.6" width="256.8" height="229.2" fill="#70ff8f"/>
<path fill="#00008f" d="M422.1 208.6L422.1 208.6L432.8 205.9L437.3 199.1L441 189.5L438.6 179.9L432.8 173.4L422.1 171.7L411.4 176.5L406.3 179.9L400.7 185.9L397.5 189.5L398.5 199.1L400.7 201.7L411.4 207.2L422.1 208.6Z"/>
<path fill="#0000df" d="M400.7 227.7L411.4 228.6L422.1 231.1L432.8 233.9L443.5 227.7L443.5 227.7L444.2 218.2L445 208.6L447.1 199.1L448.4 189.5L447.4 179.9L443.5 170.4L443.5 170.4L432.8 164L422.1 163.8L411.4 166.6L403.9 170.4L400.7 172.6L390.2 179.9L390 180.1L383.9 189.5L383.2 199.1L384.7 208.6L388.3 218.2L390 221.7L400.7 227.7ZM422.1 208.6L411.4 207.2L400.7 201.7L398.5 199.1L397.5 189.5L400.7 185.9L406.3 179.9L411.4 176.5L422.1 171.7L432.8 173.4L438.6 179.9L441 189.5L437.3 199.1L432.8 205.9L422.1 208.6L422.1 208.6Z"/>
<path fill="#0040ff" d="M390 246.8L400.7 246.8L411.4 246.8L422.1 246.8L432.8 246.8L435.3 246.8L443.5 242.4L450.8 237.2L453 227.7L452.5 218.2L452.4 208.6L453.6 199.1L454.2 193.5L454.5 189.5L454.2 184.3L453.9 179.9L451.2 170.4L445.2 160.9L443.5 159.1L432.8 156L422.1 156.8L411.4 158.5L403.2 160.9L400.7 161.8L390 166.4L379.3 166.6L379.3 170.4L379.3 179.9L379.3 189.5L379.3 199.1L379.3 208.6L379.3 218.2L379.3 227.7L379.3 237.2L379.3 246.8ZM400.7 227.7L390 221.7L388.3 218.2L384.7 208.6L383.2 199.1L383.9 189.5L390 180.1L390.2 179.9L400.7 172.6L403.9 170.4L411.4 166.6L422.1 163.8L432.8 164L443.5 170.4L443.5 170.4L447.4 179.9L448.4 189.5L447.1 199.1L445 208.6L444.2 218.2L443.5 227.7L443.5 227.7L432.8 233.9L422.1 231.1L411.4 228.6L400.7 227.7ZM625.4 246.8L636.1 246.8L636.1 237.2L636.1 227.7L636.1 218.2L636.1 208.6L636.1 199.1L636.1 189.5L636.1 179.9L636.1 170.4L636.1 166.5L633.5 170.4L631 179.9L629.5 189.5L627.5 199.1L625.4 208.6L625.4 208.6L625 218.2L625.2 227.7L625.4 236L625.5 237.2L625.4 237.7L624.8 246.8ZM422.1 27.3L424 27.1L432.8 19.2L433.2 17.6L432.8 17.6L422.1 17.6L411.4 17.6L400.7 17.6L390 17.6L379.3 17.6L379.3 20.2L390 18.9L400.7 20.9L411.4 24.4L421 27.1ZM636.1 20.1L636.1 17.6L630.8 17.6Z"/>
<path fill="#009fff" d="M443.5 246.8L454.2 246.8L455.9 246.8L460.4 237.2L460.2 227.7L459.3 218.2L458.8 208.6L459.2 199.1L459.7 189.5L459.5 179.9L458.4 170.4L455.5 160.9L454.2 158L448.6 151.3L443.5 147.2L432.8 147.3L422.1 149.4L411.4 150.5L400.7 150.7L390 150.7L379.3 151.3L379.3 151.3L379.3 160.9L379.3 166.6L390 166.4L400.7 161.8L403.2 160.9L411.4 158.5L422.1 156.8L432.8 156L443.5 159.1L445.2 160.9L451.2 170.4L453.9 179.9L454.2 184.3L454.5 189.5L454.2 193.5L453.6 199.1L452.4 208.6L452.5 218.2L453 227.7L450.8 237.2L443.5 242.4L435.3 246.8ZM614.7 246.8L624.8 246.8L625.4 237.7L625.5 237.2L625.4 236L625.2 227.7L625 218.2L625.4 208.6L625.4 208.6L627.5 199.1L629.5 189.5L631 179.9L633.5 170.4L636.1 166.5L636.1 160.9L636.1 151.3L625.4 155.1L621.2 160.9L619.4 170.4L618.3 179.9L617.1 189.5L615.8 199.1L614.7 208.6L614.7 208.6L614.1 218.2L613.8 227.7L613.4 237.2L612.8 246.8ZM379.3 36.7L390 36.2L393.7 36.7L400.7 37.6L411.4 39L422.1 40.1L432.8 41.3L443.5 41.4L454.2 37.6L455.3 36.7L461.4 27.1L458.4 17.6L454.2 17.6L443.5 17.6L433.2 17.6L432.8 19.2L424 27.1L422.1 27.3L421 27.1L411.4 24.4L400.7 20.9L390 18.9L379.3 20.2L379.3 27.1L379.3 36.7L379.3 36.7ZM625.4 37.7L636.1 36.7L636.1 36.7L636.1 27.1L636.1 20.1L630.8 17.6L625.4 17.6L614.7 17.6L608.2 17.6L611.2 27.1L614.7 31.9L623 36.7Z"/>
<path fill="#00ffff" d="M464.9 246.8L472.6 246.8L468.8 237.2L467.1 227.7L465.8 218.2L464.9 208.6L464.9 208.6L464.7 199.1L464.9 189.5L464.9 189.5L465.2 179.9L465.3 170.4L464.9 162L464.8 160.9L463.5 151.3L460.5 141.8L454.2 133.8L448.5 132.2L443.5 131L440.3 132.2L432.8 134.1L422.1 138.3L411.4 139.3L400.7 138L390 136.8L379.3 138L379.3 141.8L379.3 151.3L379.3 151.3L379.3 151.3L390 150.7L400.7 150.7L411.4 150.5L422.1 149.4L432.8 147.3L443.5 147.2L448.6 151.3L454.2 158L455.5 160.9L458.4 170.4L459.5 179.9L459.7 189.5L459.2 199.1L458.8 208.6L459.3 218.2L460.2 227.7L460.4 237.2L455.9 246.8ZM604 246.8L612.8 246.8L613.4 237.2L613.8 227.7L614.1 218.2L614.7 208.6L614.7 208.6L615.8 199.1L617.1 189.5L618.3 179.9L619.4 170.4L621.2 160.9L625.4 155.1L636.1 151.3L636.1 151.3L636.1 141.8L636.1 138L625.4 137.6L614.7 140.1L612 141.8L604 150.6L603.7 151.3L602.9 160.9L603.8 170.4L604 171.9L604.9 179.9L605.5 189.5L605.8 199.1L605.6 208.6L605.1 218.2L604.4 227.7L604 233.3L603.7 237.2L603.5 246.8ZM497 123.9L507.7 127.2L518.4 124.1L521.5 122.7L529.1 113.1L529.1 113.1L529.1 113.1L522.1 103.6L518.4 100.1L507.7 96.1L497 98L490.7 103.6L488.7 113.1L495.3 122.7ZM593.3 124.7L595.9 122.7L597.3 113.1L593.3 109.4L589.4 113.1L590.9 122.7ZM443.5 94L454.2 101.3L459 94L454.9 84.4L454.2 83.6L452.2 84.4L443.5 94L443.5 94ZM529.1 83.8L539.8 81.7L550.5 75.6L551.2 74.9L558.2 65.3L550.5 61.5L539.8 64.9L536.1 65.3L529.1 67.1L520.5 74.9ZM390 59.4L400.7 57.2L403.7 55.8L411.4 53.6L422.1 52.9L432.8 55.2L436.1 55.8L443.5 58.3L454.2 55.9L454.3 55.8L464.9 50.9L470.5 46.2L475.5 36.7L475.6 36.3L477 27.1L476.4 17.6L475.6 17.6L464.9 17.6L458.4 17.6L461.4 27.1L455.3 36.7L454.2 37.6L443.5 41.4L432.8 41.3L422.1 40.1L411.4 39L400.7 37.6L393.7 36.7L390 36.2L379.3 36.7L379.3 36.7L379.3 46.2L379.3 54.8L382.1 55.8ZM625.4 56.2L636.1 55.8L636.1 55.8L636.1 46.2L636.1 36.7L625.4 37.7L623 36.7L614.7 31.9L611.2 27.1L608.2 17.6L604 17.6L595.6 17.6L596.5 27.1L598.5 36.7L603.9 46.2L604 46.4L614.7 53.5L624.1 55.8Z"/>
<path fill="#70ff8f" d="M475.6 246.8L484.1 246.8L477.3 237.2L475.6 232.7L474.3 227.7L473 218.2L472 208.6L471.3 199.1L471.2 189.5L472 179.9L473.8 170.4L475.6 164.9L478.9 160.9L486.3 154.7L497 151.7L498.2 151.3L507.7 147.2L517.1 141.8L518.4 141.1L529.1 135.3L539.8 133.1L550.5 133.3L561.2 135L571.9 140.6L573.4 141.8L582.6 151.3L582.6 151.3L588.2 160.9L591.2 170.4L592.9 179.9L593.3 182.7L594.4 189.5L595.6 199.1L596.2 208.6L595.8 218.2L595.1 227.7L594.7 237.2L595 246.8L603.5 246.8L603.7 237.2L604 233.3L604.4 227.7L605.1 218.2L605.6 208.6L605.8 199.1L605.5 189.5L604.9 179.9L604 171.9L603.8 170.4L602.9 160.9L603.7 151.3L604 150.6L612 141.8L614.7 140.1L625.4 137.6L636.1 138L636.1 132.2L636.1 122.7L636.1 113.1L636.1 103.6L636.1 94L636.1 84.4L636.1 74.9L636.1 65.3L636.1 55.8L625.4 56.2L624.1 55.8L614.7 53.5L604 46.4L603.9 46.2L598.5 36.7L596.5 27.1L595.6 17.6L593.3 17.6L586.6 17.6L585.6 27.1L582.6 36L582.3 36.7L571.9 45.9L571 46.2L561.2 50.3L550.5 52L539.8 53.8L529.1 54.7L519.4 55.8L518.4 56L507.7 55.8L507.7 55.8L499.5 46.2L497 40.5L495.7 36.7L494.1 27.1L495 17.6L486.3 17.6L476.4 17.6L477 27.1L475.6 36.3L475.5 36.7L470.5 46.2L464.9 50.9L454.3 55.8L454.2 55.9L443.5 58.3L436.1 55.8L432.8 55.2L422.1 52.9L411.4 53.6L403.7 55.8L400.7 57.2L390 59.4L382.1 55.8L379.3 54.8L379.3 55.8L379.3 65.3L379.3 74.9L379.3 84.4L379.3 94L379.3 103.6L379.3 113.1L379.3 122.7L379.3 132.2L379.3 138L390 136.8L400.7 138L411.4 139.3L422.1 138.3L432.8 134.1L440.3 132.2L443.5 131L448.5 132.2L454.2 133.8L460.5 141.8L463.5 151.3L464.8 160.8L464.9 162L465.3 170.4L465.2 179.9L464.9 189.5L464.9 189.5L464.7 199.1L464.9 208.6L464.9 208.6L465.8 218.2L467.1 227.7L468.8 237.2L472.6 246.8ZM495.3 122.7L488.7 113.1L490.7 103.6L497 98L507.7 96.1L518.4 100.1L522.1 103.6L529.1 113.1L529.1 113.1L529.1 113.1L521.5 122.7L518.4 124.1L507.7 127.2L497 123.9ZM590.9 122.7L589.4 113.1L593.3 109.4L597.3 113.1L595.9 122.7L593.3 124.7ZM443.5 94L443.5 94L452.2 84.4L454.2 83.6L454.9 84.4L459 94L454.2 101.3L443.5 94ZM559 94L561.2 92.2L563.4 94L561.2 96.1ZM520.5 74.9L529.1 67.1L536.1 65.3L539.8 64.9L550.5 61.5L558.2 65.3L551.2 74.9L550.5 75.6L539.8 81.7L529.1 83.8Z"/>
<path fill="#cfff30" d="M486.3 246.8L497 246.8L497.6 246.8L497 246.2L489.3 237.2L486.3 233.4L484.2 227.7L482.4 218.2L480.9 208.6L479.1 199.1L478.5 189.5L480.4 179.9L485.7 170.4L486.3 169.7L497 164.7L507.7 161.8L510.5 160.9L518.4 157.7L528 151.3L529.1 150.5L539.8 144.9L550.5 144L561.2 147.6L566.1 151.3L571.9 156.6L575.7 160.9L580.8 170.4L582.6 179.9L582.6 179.9L583.4 189.5L584.4 199.1L585.2 208.6L585.4 218.2L585.4 227.7L585.5 237.2L586.4 246.8L593.3 246.8L595 246.8L594.7 237.2L595.1 227.7L595.8 218.2L596.2 208.6L595.6 199.1L594.4 189.5L593.3 182.7L592.9 179.9L591.2 170.4L588.2 160.9L582.6 151.3L582.6 151.3L573.4 141.8L571.9 140.6L561.2 135L550.5 133.3L539.8 133.1L529.1 135.3L518.4 141.1L517.1 141.8L507.7 147.2L498.2 151.3L497 151.7L486.3 154.7L478.9 160.9L475.6 164.9L473.8 170.4L472 179.9L471.2 189.5L471.3 199.1L472 208.6L473 218.2L474.3 227.7L475.6 232.7L477.3 237.2L484.1 246.8ZM561.2 96.1L563.4 94L561.2 92.2L559 94ZM518.4 56L519.4 55.8L529.1 54.7L539.8 53.8L550.5 52L561.2 50.3L571 46.2L571.9 45.9L582.3 36.7L582.6 36L585.6 27.1L586.6 17.6L582.6 17.6L579.2 17.6L576.2 27.1L571.9 33L567.4 36.7L561.2 40.4L550.5 43.5L539.8 44.6L529.1 43.8L518.4 37.9L517.3 36.7L513.4 27.1L513.4 17.6L507.7 17.6L497 17.6L495 17.6L494.1 27.1L495.7 36.7L497 40.5L499.5 46.2L507.7 55.8L507.7 55.8Z"/>
<path fill="#ffcf00" d="M497 246.2L497.6 246.8L507.7 246.8L518.4 246.8L527.3 246.8L529.1 240L529.3 237.2L529.1 234.5L527.5 227.7L521 218.2L518.4 215.5L507.7 210.1L504.4 208.6L497 204.1L493.7 199.1L491.2 189.5L496.4 179.9L497 179.5L507.7 175.5L518.4 170.9L519.2 170.4L529.1 164.4L533.6 160.9L539.8 156.1L550.5 153.4L561.2 158.2L564.1 160.9L570.8 170.4L571.9 176.4L572.5 179.9L571.9 189.5L571.9 189.5L571.8 199.1L571.9 199.9L573.1 208.6L575.2 218.2L576.8 227.7L577.7 237.2L578.2 246.8L582.6 246.8L586.4 246.8L585.5 237.2L585.4 227.7L585.4 218.2L585.2 208.6L584.4 199.1L583.4 189.5L582.6 180L582.6 179.9L580.8 170.4L575.7 160.9L571.9 156.6L566.1 151.3L561.2 147.6L550.5 144L539.8 144.9L529.1 150.5L528 151.3L518.4 157.7L510.5 160.9L507.7 161.8L497 164.7L486.3 169.7L485.7 170.4L480.4 179.9L478.5 189.5L479.1 199.1L480.9 208.6L482.4 218.2L484.2 227.7L486.3 233.4L489.3 237.2ZM518.4 37.9L529.1 43.8L539.8 44.6L550.5 43.5L561.2 40.4L567.4 36.7L571.9 33L576.2 27.1L579.2 17.6L572.6 17.6L571.9 19.1L567.2 27.1L561.2 32.2L550.5 36L539.8 36.1L529.1 30.4L526.6 27.1L524.5 17.6L518.4 17.6L513.4 17.6L513.4 27.1L517.3 36.7Z"/>
<path fill="#ff7000" d="M529.1 246.8L535.3 246.8L534.8 237.2L534.7 227.7L534.4 218.2L531 208.6L529.1 206.6L521.4 199.1L518.4 189.8L518.3 189.5L518.4 189.4L523.7 179.9L529.1 176L535.1 170.4L539.8 166.6L550.5 164.9L558.2 170.4L560.6 179.9L558.6 189.5L557.3 199.1L561.2 207.5L561.5 208.6L566.3 218.2L569.3 227.7L570.7 237.2L570.4 246.8L571.9 246.8L578.2 246.8L577.7 237.2L576.8 227.7L575.2 218.2L573.1 208.6L571.9 199.9L571.8 199.1L571.9 189.5L571.9 189.5L572.5 179.9L571.9 176.4L570.8 170.4L564.1 160.9L561.2 158.2L550.5 153.4L539.8 156.1L533.6 160.9L529.1 164.4L519.2 170.4L518.4 170.9L507.7 175.5L497 179.5L496.4 179.9L491.2 189.5L493.7 199.1L497 204.1L504.4 208.6L507.7 210.1L518.4 215.5L521 218.2L527.5 227.7L529.1 234.5L529.3 237.2L529.1 240L527.3 246.8ZM529.1 30.4L539.8 36.1L550.5 36L561.2 32.2L567.2 27.1L571.9 19.1L572.6 17.6L571.9 17.6L566.3 17.6L561.2 24.3L555.6 27.1L550.5 29.2L539.8 27.4L539.4 27.1L532.8 17.6L529.1 17.6L524.5 17.6L526.6 27.1Z"/>
<path fill="#ff1000" d="M539.8 246.8L543.1 246.8L540.7 237.2L541.5 227.7L546.4 218.2L550.5 214.4L554.9 218.2L561.2 223.8L562.9 227.7L564.8 237.2L563.1 246.8L570.4 246.8L570.7 237.2L569.3 227.7L566.3 218.2L561.5 208.6L561.2 207.5L557.3 199.1L558.6 189.5L560.6 179.9L558.2 170.4L550.5 164.9L539.8 166.6L535.1 170.4L529.1 176L523.7 179.9L518.4 189.4L518.3 189.5L518.4 189.8L521.4 199.1L529.1 206.6L531 208.6L534.4 218.2L534.7 227.7L534.8 237.2L535.3 246.8ZM533.9 189.5L534.2 179.9L539.8 174.8L547.6 179.9L545 189.5L539.8 194.6ZM539.8 27.4L550.5 29.2L555.6 27.1L561.2 24.3L566.3 17.6L561.2 17.6L559.1 17.6L550.5 22.4L540.3 17.6L539.8 17.6L532.8 17.6L539.4 27.1Z"/>
<path fill="#9f0000" d="M550.5 246.8L561.2 246.8L563.1 246.8L564.8 237.2L562.9 227.7L561.2 223.8L554.9 218.2L550.5 214.4L546.4 218.2L541.5 227.7L540.7 237.2L543.1 246.8ZM539.8 194.6L545 189.5L547.6 179.9L539.8 174.8L534.2 179.9L533.9 189.5ZM550.5 22.4L559.1 17.6L550.5 17.6L540.3 17.6Z"/>
<path fill="none" stroke="#000" stroke-width="0.75" stroke-linejoin="round" d="M422.1 208.6L422.1 208.6L411.4 207.2L400.7 201.7L398.5 199.1L397.5 189.5L400.7 185.9L406.3 179.9L411.4 176.5L422.1 171.7L432.8 173.4L438.6 179.9L441 189.5L437.3 199.1L432.8 205.9L422.1 208.6ZM400.7 227.7L400.7 227.7L390 221.7L388.3 218.2L384.7 208.6L383.2 199.1L383.9 189.5L390 180.1L390.2 179.9L400.7 172.6L403.9 170.4L411.4 166.6L422.1 163.8L432.8 164L443.5 170.4L443.5 170.4L447.4 179.9L448.4 189.5L447.1 199.1L445 208.6L444.2 218.2L443.5 227.7L443.5 227.7L432.8 233.9L422.1 231.1L411.4 228.6ZM624.8 246.8L625.4 237.7L625.5 237.2L625.4 236L625.2 227.7L625 218.2L625.4 208.6L625.4 208.6L627.5 199.1L629.5 189.5L631 179.9L633.5 170.4L636.1 166.5M379.3 166.6L390 166.4L400.7 161.8L403.2 160.9L411.4 158.5L422.1 156.8L432.8 156L443.5 159.1L445.2 160.9L451.2 170.4L453.9 179.9L454.2 184.3L454.5 189.5L454.2 193.5L453.6 199.1L452.4 208.6L452.5 218.2L453 227.7L450.8 237.2L443.5 242.4L435.3 246.8M433.2 17.6L432.8 19.2L424 27.1L422.1 27.3L421 27.1L411.4 24.4L400.7 20.9L390 18.9L379.3 20.2M636.1 20.1L630.8 17.6M612.8 246.8L613.4 237.2L613.8 227.7L614.1 218.2L614.7 208.6L614.7 208.6L615.8 199.1L617.1 189.5L618.3 179.9L619.4 170.4L621.2 160.9L625.4 155.1L636.1 151.3M379.3 151.3L379.3 151.3L390 150.7L400.7 150.7L411.4 150.5L422.1 149.4L432.8 147.3L443.5 147.2L448.6 151.3L454.2 158L455.5 160.9L458.4 170.4L459.5 179.9L459.7 189.5L459.2 199.1L458.8 208.6L459.3 218.2L460.2 227.7L460.4 237.2L455.9 246.8M636.1 36.7L625.4 37.7L623 36.7L614.7 31.9L611.2 27.1L608.2 17.6M458.4 17.6L461.4 27.1L455.3 36.7L454.2 37.6L443.5 41.4L432.8 41.3L422.1 40.1L411.4 39L400.7 37.6L393.7 36.7L390 36.2L379.3 36.7L379.3 36.7M603.5 246.8L603.7 237.2L604 233.3L604.4 227.7L605.1 218.2L605.6 208.6L605.8 199.1L605.5 189.5L604.9 179.9L604 171.9L603.8 170.4L602.9 160.9L603.7 151.3L604 150.6L612 141.8L614.7 140.1L625.4 137.6L636.1 138M379.3 138L390 136.8L400.7 138L411.4 139.3L422.1 138.3L432.8 134.1L440.3 132.2L443.5 131L448.5 132.2L454.2 133.8L460.5 141.8L463.5 151.3L464.8 160.8L464.9 162L465.3 170.4L465.2 179.9L464.9 189.5L464.9 189.5L464.7 199.1L464.9 208.6L464.9 208.6L465.8 218.2L467.1 227.7L468.8 237.2L472.6 246.8M636.1 55.8L625.4 56.2L624.1 55.8L614.7 53.5L604 46.4L603.9 46.2L598.5 36.7L596.5 27.1L595.6 17.6M476.4 17.6L477 27.1L475.6 36.3L475.5 36.7L470.5 46.2L464.9 50.9L454.3 55.8L454.2 55.9L443.5 58.3L436.1 55.8L432.8 55.2L422.1 52.9L411.4 53.6L403.7 55.8L400.7 57.2L390 59.4L382.1 55.8L379.3 54.8M497 123.9L495.3 122.7L488.7 113.1L490.7 103.6L497 98L507.7 96.1L518.4 100.1L522.1 103.6L529.1 113.1L529.1 113.1L529.1 113.1L521.5 122.7L518.4 124.1L507.7 127.2ZM593.3 124.7L590.9 122.7L589.4 113.1L593.3 109.4L597.3 113.1L595.9 122.7L593.3 124.7M443.5 94L443.5 94L443.5 94L452.2 84.4L454.2 83.6L454.9 84.4L459 94L454.2 101.3ZM529.1 83.8L520.5 74.9L529.1 67.1L536.1 65.3L539.8 64.9L550.5 61.5L558.2 65.3L551.2 74.9L550.5 75.6L539.8 81.7ZM595 246.8L594.7 237.2L595.1 227.7L595.8 218.2L596.2 208.6L595.6 199.1L594.4 189.5L593.3 182.7L592.9 179.9L591.2 170.4L588.2 160.9L582.6 151.3L582.6 151.3L573.4 141.8L571.9 140.6L561.2 135L550.5 133.3L539.8 133.1L529.1 135.3L518.4 141.1L517.1 141.8L507.7 147.2L498.2 151.3L497 151.7L486.3 154.7L478.9 160.9L475.6 164.9L473.8 170.4L472 179.9L471.2 189.5L471.3 199.1L472 208.6L473 218.2L474.3 227.7L475.6 232.7L477.3 237.2L484.1 246.8M495 17.6L494.1 27.1L495.7 36.7L497 40.5L499.5 46.2L507.7 55.8L507.7 55.8L518.4 56L519.4 55.8L529.1 54.7L539.8 53.8L550.5 52L561.2 50.3L571 46.2L571.9 45.9L582.3 36.7L582.6 36L585.6 27.1L586.6 17.6M561.2 96.1L563.4 94L561.2 92.2L559 94ZM586.4 246.8L585.5 237.2L585.4 227.7L585.4 218.2L585.2 208.6L584.4 199.1L583.4 189.5L582.6 180L582.6 179.9L580.8 170.4L575.7 160.9L571.9 156.6L566.1 151.3L561.2 147.6L550.5 144L539.8 144.9L529.1 150.5L528 151.3L518.4 157.7L510.5 160.9L507.7 161.8L497 164.7L486.3 169.7L485.7 170.4L480.4 179.9L478.5 189.5L479.1 199.1L480.9 208.6L482.4 218.2L484.2 227.7L486.3 233.4L489.3 237.2L497 246.2L497.6 246.8M513.4 17.6L513.4 27.1L517.3 36.7L518.4 37.9L529.1 43.8L539.8 44.6L550.5 43.5L561.2 40.4L567.4 36.7L571.9 33L576.2 27.1L579.2 17.6M578.2 246.8L577.7 237.2L576.8 227.7L575.2 218.2L573.1 208.6L571.9 199.9L571.8 199.1L571.9 189.5L571.9 189.5L572.5 179.9L571.9 176.4L570.8 170.4L564.1 160.9L561.2 158.2L550.5 153.4L539.8 156.1L533.6 160.9L529.1 164.4L519.2 170.4L518.4 170.9L507.7 175.5L497 179.5L496.4 179.9L491.2 189.5L493.7 199.1L497 204.1L504.4 208.6L507.7 210.1L518.4 215.5L521 218.2L527.5 227.7L529.1 234.5L529.3 237.2L529.1 240L527.3 246.8M524.5 17.6L526.6 27.1L529.1 30.4L539.8 36.1L550.5 36L561.2 32.2L567.2 27.1L571.9 19.1L572.6 17.6M570.4 246.8L570.7 237.2L569.3 227.7L566.3 218.2L561.5 208.6L561.2 207.5L557.3 199.1L558.6 189.5L560.6 179.9L558.2 170.4L550.5 164.9L539.8 166.6L535.1 170.4L529.1 176L523.7 179.9L518.4 189.4L518.3 189.5L518.4 189.8L521.4 199.1L529.1 206.6L531 208.6L534.4 218.2L534.7 227.7L534.8 237.2L535.3 246.8M532.8 17.6L539.4 27.1L539.8 27.4L550.5 29.2L555.6 27.1L561.2 24.3L566.3 17.6M563.1 246.8L564.8 237.2L562.9 227.7L561.2 223.8L554.9 218.2L550.5 214.4L546.4 218.2L541.5 227.7L540.7 237.2L543.1 246.8M540.3 17.6L550.5 22.4L559.1 17.6M539.8 194.6L545 189.5L547.6 179.9L539.8 174.8L534.2 179.9L533.9 189.5Z"/>
</g>
<path fill="none" stroke="#000" stroke-width="0.8" d="M379.3 17.6v2.5M379.3 246.8v-2.5M379.3 246.8h2.5M636.1 246.8h-2.5M400.7 17.6v2.5M400.7 246.8v-2.5M379.3 227.7h2.5M636.1 227.7h-2.5M422.1 17.6v2.5M422.1 246.8v-2.5M379.3 208.6h2.5M636.1 208.6h-2.5M443.5 17.6v2.5M443.5 246.8v-2.5M379.3 189.5h2.5M636.1 189.5h-2.5M464.9 17.6v2.5M464.9 246.8v-2.5M379.3 170.4h2.5M636.1 170.4h-2.5M486.3 17.6v2.5M486.3 246.8v-2.5M379.3 151.3h2.5M636.1 151.3h-2.5M507.7 17.6v2.5M507.7 246.8v-2.5M379.3 132.2h2.5M636.1 132.2h-2.5M529.1 17.6v2.5M529.1 246.8v-2.5M379.3 113.1h2.5M636.1 113.1h-2.5M550.5 17.6v2.5M550.5 246.8v-2.5M379.3 94h2.5M636.1 94h-2.5M571.9 17.6v2.5M571.9 246.8v-2.5M379.3 74.9h2.5M636.1 74.9h-2.5M593.3 17.6v2.5M593.3 246.8v-2.5M379.3 55.8h2.5M636.1 55.8h-2.5M614.7 17.6v2.5M614.7 246.8v-2.5M379.3 36.7h2.5M636.1 36.7h-2.5M636.1 17.6v2.5M636.1 246.8v-2.5M379.3 17.6h2.5M636.1 17.6h-2.5"/>
<rect x="379.3" y="17.6" width="256.8" height="229.2" fill="none" stroke="#222" stroke-width="1"/>
<g font-family="Liberation Sans, sans-serif" font-size="9.75" fill="#000"><text transform="translate(377.1 250.9) scale(0.95 1)" text-anchor="end">0</text><text transform="translate(377.1 231.8) scale(0.95 1)" text-anchor="end">2</text><text transform="translate(377.1 212.7) scale(0.95 1)" text-anchor="end">4</text><text transform="translate(377.1 193.6) scale(0.95 1)" text-anchor="end">6</text><text transform="translate(377.1 174.5) scale(0.95 1)" text-anchor="end">8</text><text transform="translate(377.1 155.4) scale(0.95 1)" text-anchor="end">10</text><text transform="translate(377.1 136.3) scale(0.95 1)" text-anchor="end">12</text><text transform="translate(377.1 117.2) scale(0.95 1)" text-anchor="end">14</text><text transform="translate(377.1 98.1) scale(0.95 1)" text-anchor="end">16</text><text transform="translate(377.1 79) scale(0.95 1)" text-anchor="end">18</text><text transform="translate(377.1 59.9) scale(0.95 1)" text-anchor="end">20</text><text transform="translate(377.1 40.8) scale(0.95 1)" text-anchor="end">22</text><text transform="translate(377.1 21.7) scale(0.95 1)" text-anchor="end">24</text><text transform="translate(376.6 258.3) scale(0.95 1)" text-anchor="middle">−180</text><text transform="translate(398 258.3) scale(0.95 1)" text-anchor="middle">−150</text><text transform="translate(419.4 258.3) scale(0.95 1)" text-anchor="middle">−120</text><text transform="translate(440.8 258.3) scale(0.95 1)" text-anchor="middle">−90</text><text transform="translate(462.2 258.3) scale(0.95 1)" text-anchor="middle">−60</text><text transform="translate(483.6 258.3) scale(0.95 1)" text-anchor="middle">−30</text><text transform="translate(507.7 258.3) scale(0.95 1)" text-anchor="middle">0</text><text transform="translate(529.1 258.3) scale(0.95 1)" text-anchor="middle">30</text><text transform="translate(550.5 258.3) scale(0.95 1)" text-anchor="middle">60</text><text transform="translate(571.9 258.3) scale(0.95 1)" text-anchor="middle">90</text><text transform="translate(593.3 258.3) scale(0.95 1)" text-anchor="middle">120</text><text transform="translate(614.7 258.3) scale(0.95 1)" text-anchor="middle">150</text><text transform="translate(636.1 258.3) scale(0.95 1)" text-anchor="middle">180</text></g>
<text font-family="Liberation Sans, sans-serif" font-size="9.75" fill="#000" x="455.5" y="268" textLength="104.4" lengthAdjust="spacingAndGlyphs">Geographic longitude [°]</text>
<text font-family="Liberation Sans, sans-serif" font-size="10" fill="#000" transform="translate(361.9 127.6) rotate(-90)" text-anchor="middle">Magnetic local Time [h]</text>
<g font-family="Liberation Sans, sans-serif" font-size="9.7" fill="#000"><text x="381.6" y="10.3" textLength="61.8" lengthAdjust="spacingAndGlyphs">Migrating tides</text><text x="450.5" y="10.3" textLength="11.2" lengthAdjust="spacingAndGlyphs">Vy</text><text x="466.9" y="10.3" textLength="44.9" lengthAdjust="spacingAndGlyphs">zonal wind</text><text x="518" y="10.3" textLength="12.7" lengthAdjust="spacingAndGlyphs">SH</text><text x="534.5" y="10.3" textLength="19.3" lengthAdjust="spacingAndGlyphs">[−40</text><text x="569.5" y="10.3" textLength="32.5" lengthAdjust="spacingAndGlyphs">°~−60°]</text><text x="604.6" y="10.3" textLength="29.3" lengthAdjust="spacingAndGlyphs">400km</text></g>
<rect x="645.7" y="17.6" width="12.7" height="229.2" fill="url(#jetg)"/>
<path fill="none" stroke="#000" stroke-width="0.8" d="M645.7 246.8h2M658.4 246.8h-2M645.7 223.9h2M658.4 223.9h-2M645.7 201h2M658.4 201h-2M645.7 178h2M658.4 178h-2M645.7 155.1h2M658.4 155.1h-2M645.7 132.2h2M658.4 132.2h-2M645.7 109.3h2M658.4 109.3h-2M645.7 86.4h2M658.4 86.4h-2M645.7 63.4h2M658.4 63.4h-2M645.7 40.5h2M658.4 40.5h-2M645.7 17.6h2M658.4 17.6h-2"/>
<rect x="645.7" y="17.6" width="12.7" height="229.2" fill="none" stroke="#222" stroke-width="1"/>
<g font-family="Liberation Sans, sans-serif" font-size="9.75" fill="#000"><text transform="translate(661 250.2) scale(0.95 1)">−5</text><text transform="translate(661 227.3) scale(0.95 1)">−4</text><text transform="translate(661 204.4) scale(0.95 1)">−3</text><text transform="translate(661 181.4) scale(0.95 1)">−2</text><text transform="translate(661 158.5) scale(0.95 1)">−1</text><text transform="translate(661 135.6) scale(0.95 1)">0</text><text transform="translate(661 112.7) scale(0.95 1)">1</text><text transform="translate(661 89.8) scale(0.95 1)">2</text><text transform="translate(661 66.8) scale(0.95 1)">3</text><text transform="translate(661 43.9) scale(0.95 1)">4</text><text transform="translate(661 21) scale(0.95 1)">5</text></g>
<text font-family="Liberation Sans, sans-serif" font-size="10" fill="#000" transform="translate(682.1 136.1) rotate(-90)" text-anchor="middle">Δ Vy [ m/s ]</text>
<clipPath id="cp2"><rect x="26.5" y="288.6" width="256.8" height="228.9"/></clipPath>
<g clip-path="url(#cp2)">
<rect x="26.5" y="288.6" width="256.8" height="228.9" fill="#70ff8f"/>
<path fill="#0070ff" d="M37.2 489.7L38.8 488.9L37.2 488.1L36.3 488.9Z"/>
<path fill="#009fff" d="M90.7 511.8L94.7 508L97.4 498.4L92 488.9L90.7 487.9L80 488.2L77.3 488.9L76.2 498.4L80 505L82.5 508ZM37.2 502.2L47.9 500.4L52.2 498.4L58.6 490.6L60.8 488.9L58.6 488L47.9 479.4L47.9 479.4L37.2 477.4L26.5 478.7L26.5 479.4L26.5 488.9L26.5 495.4L29.8 498.4ZM36.3 488.9L37.2 488.1L38.8 488.9L37.2 489.7ZM283.3 495.4L283.3 488.9L283.3 479.4L283.3 478.7L282.8 479.4L281.4 488.9ZM154.9 462.3L158.6 460.3L154.9 454.1L145.6 460.3Z"/>
<path fill="#00cfff" d="M37.2 511.3L47.9 511.5L58.6 508.3L66.2 517.5L69.3 517.5L80 517.5L90.7 517.5L94.3 517.5L101.4 510.9L103.4 508L104.1 498.4L101.4 489.6L100.9 488.9L90.7 480.8L80 479.7L69.3 480.5L66.8 479.4L58.6 477.9L47.9 475.1L37.2 472.9L26.5 472.3L26.5 478.7L37.2 477.4L47.9 479.4L47.9 479.4L58.6 488L60.8 488.9L58.6 490.6L52.2 498.4L47.9 500.4L37.2 502.2L29.8 498.4L26.5 495.4L26.5 498.4L26.5 505.8L31 508ZM82.5 508L80 505L76.2 498.4L77.3 488.9L80 488.2L90.7 487.9L92 488.9L97.4 498.4L94.7 508L90.7 511.8ZM283.3 505.8L283.3 498.4L283.3 495.4L281.4 488.9L282.8 479.4L283.3 478.7L283.3 472.3L277.4 479.4L277 488.9L279.5 498.4ZM144.2 463.3L154.9 465.6L164.8 460.3L159.9 450.7L154.9 448L144.2 449.2L141.9 450.7L139.1 460.3ZM145.6 460.3L154.9 454.1L158.6 460.3L154.9 462.3ZM261.9 433.9L272.6 434.2L275.7 431.7L278.2 422.1L272.6 414.8L261.9 415.9L257.1 422.1L258.9 431.7ZM90.7 367L94.6 364.9L93.2 355.4L90.7 354.7L88 355.4L80.1 364.9Z"/>
<path fill="#00ffff" d="M37.2 517.5L47.9 517.5L58.6 517.5L66.2 517.5L58.6 508.3L47.9 511.5L37.2 511.3L31 508L26.5 505.8L26.5 508L26.5 516.4L28.7 517.5ZM101.4 517.5L101.5 517.5L107.9 508L108.3 498.4L105.7 488.9L101.4 481.6L98.6 479.4L90.7 475.8L80 475.2L69.3 475.2L58.6 473.4L47.9 470.8L43.4 469.8L37.2 468.3L26.5 465.3L26.5 469.8L26.5 472.3L37.2 472.9L47.9 475.1L58.6 477.9L66.8 479.4L69.3 480.5L80 479.7L90.7 480.8L100.9 488.9L101.4 489.6L104.1 498.4L103.4 508L101.4 510.9L94.3 517.5ZM283.3 516.4L283.3 508L283.3 505.8L279.5 498.4L277 488.9L277.4 479.4L283.3 472.3L283.3 469.8L283.3 465.3L275.9 469.8L272.6 476.8L271.9 479.4L272.6 488.9L272.6 489L274.7 498.4L278.5 508ZM133.5 460.3L144.2 466.7L154.9 468.9L165.6 465.9L169.7 460.3L167 450.7L165.6 449.2L154.9 444L144.2 444.6L134.9 450.7L133.5 460.3L133.5 460.3ZM139.1 460.3L141.9 450.7L144.2 449.2L154.9 448L159.9 450.7L164.8 460.3L154.9 465.6L144.2 463.3ZM27.3 441.2L31.1 431.7L32.8 422.1L32.5 412.6L26.5 404.9L26.5 412.6L26.5 422.1L26.5 431.7L26.5 441.2L26.5 442.5ZM251.2 443.1L261.9 446.7L272.6 447.2L283.3 442.5L283.3 441.2L283.3 431.7L283.3 422.1L283.3 412.6L283.3 404.9L272.6 403.3L271.8 403.1L261.9 395L260.9 393.5L254.1 384L251.2 382.5L240.5 380.9L230.4 384L229.8 384.6L224.3 393.5L225.7 403.1L229.8 407.9L234.8 412.6L240.5 418.6L242 422.1L242.9 431.7L248.2 441.2ZM258.9 431.7L257.1 422.1L261.9 415.9L272.6 414.8L278.2 422.1L275.7 431.7L272.6 434.2L261.9 433.9ZM69.3 376.5L80 380.4L90.7 378.7L100.8 374.4L101.4 374.1L112.1 364.9L112.1 364.9L122.8 355.9L123.8 355.4L133.5 347.5L135.8 345.8L135.4 336.3L133.5 335.4L122.8 332.1L112.1 330.9L101.4 333L92.5 336.3L90.7 336.8L80 339.5L69.3 344.1L67.6 345.8L63.7 355.4L64.2 364.9L67.7 374.4ZM80.1 364.9L88 355.4L90.7 354.7L93.2 355.4L94.6 364.9L90.7 367ZM37.2 292.7L47.9 295.3L58.6 294.7L69.3 293.8L80 293.8L90.7 292.1L94.2 288.6L90.7 288.6L80 288.6L69.3 288.6L58.6 288.6L47.9 288.6L37.2 288.6L33.6 288.6Z"/>
<path fill="#40ffbf" d="M26.5 516.4L26.5 517.5L28.7 517.5ZM112.1 508.5L112.3 508L112.4 498.4L112.1 496.5L110.3 488.9L106.1 479.4L101.4 474.5L90.7 471.3L80 470.9L69.3 470.7L64.1 469.8L58.6 468.9L47.9 466.3L37.2 463.4L29.9 460.3L29.6 450.7L35.3 441.2L37.2 437.1L41.8 431.7L46.3 422.1L47.9 415.8L49 412.6L47.9 403.1L47.9 403.1L37.2 397.8L26.5 393.9L26.5 403.1L26.5 404.9L32.5 412.6L32.8 422.1L31.1 431.7L27.3 441.2L26.5 442.5L26.5 450.7L26.5 460.3L26.5 465.3L37.2 468.3L43.4 469.8L47.9 470.8L58.6 473.4L69.3 475.2L80 475.2L90.7 475.8L98.6 479.4L101.4 481.6L105.7 488.9L108.3 498.4L107.9 508L101.5 517.5L106.8 517.5ZM219.1 517.5L229.8 517.5L240.5 517.5L251.2 517.5L254.6 517.5L258.2 508L251.2 501.4L243.2 498.4L240.5 498L237.8 498.4L229.8 500L219.1 507.1L218.4 508L218.1 517.5ZM272.6 510L274.7 517.5L283.3 517.5L283.3 516.4L278.5 508L274.7 498.4L272.6 489L272.6 488.9L271.9 479.4L272.6 476.8L275.9 469.8L283.3 465.3L283.3 460.3L283.3 450.7L283.3 442.5L272.6 447.2L261.9 446.7L251.2 443.1L248.2 441.2L242.9 431.7L242 422.1L240.5 418.6L234.8 412.6L229.8 407.9L225.7 403.1L224.3 393.5L229.8 384.6L230.4 384L240.5 380.9L251.2 382.5L254.1 384L260.9 393.5L261.9 395L271.8 403.1L272.6 403.3L283.3 404.9L283.3 403.1L283.3 393.9L282.4 393.5L272.6 386.8L270.5 384L261.9 376.8L256.7 374.4L251.2 372.8L240.5 371.4L229.8 371.6L219.1 373.9L217.5 374.4L208.4 378.1L197.7 384L197.7 384L191.9 393.5L190.1 403.1L197.7 412.2L198.2 412.6L208.4 418.8L213.8 422.1L219.1 424.2L229.8 431.6L229.8 431.7L235.2 441.2L240.5 446.3L247.8 450.7L251.2 452.5L261.9 459L263.9 460.3L265.7 469.8L264.7 479.4L264.4 488.9L264.7 498.4L270 508ZM144.2 470L154.9 471.6L165.6 471.5L170.7 469.8L174.4 460.3L173.4 450.7L165.6 442L162.6 441.2L154.9 438.3L144.2 439.3L140.6 441.2L133.5 444.9L128.5 450.7L126.3 460.3L133.5 465.5L143.3 469.8ZM133.5 460.3L133.5 460.3L134.9 450.7L144.2 444.6L154.9 444L165.6 449.2L167 450.7L169.7 460.3L165.6 465.9L154.9 468.9L144.2 466.7L133.5 460.3ZM58.6 389L69.3 393L80 391.4L90.7 387.6L98.3 384L101.4 382.6L112.1 375.9L114.2 374.4L122.8 367.3L126.8 364.9L133.5 360.9L144.2 355.8L145.1 355.4L154.9 349L161.6 345.8L165.6 340.9L168 336.3L165.9 326.8L165.6 326.3L154.9 320L144.2 318.5L137.4 317.2L133.5 316.5L122.8 310.1L119.1 307.7L112.1 303.5L104 298.1L103 288.6L101.4 288.6L94.2 288.6L90.7 292.1L80 293.8L69.3 293.8L58.6 294.7L47.9 295.3L37.2 292.7L33.6 288.6L26.5 288.6L26.5 298.1L26.5 298.7L37.2 307.5L38.1 307.7L47.9 309.9L58.6 308.4L60.5 307.7L69.3 306.1L80 305.2L90.7 306.3L93.4 307.7L90.7 311L86.1 317.2L80 320.4L69.3 326.8L69.3 326.8L58.6 333.4L56.6 336.3L52 345.8L50.8 355.4L51.6 364.9L53.8 374.4L56.5 384ZM67.7 374.4L64.2 364.9L63.7 355.4L67.6 345.8L69.3 344.1L80 339.5L90.7 336.8L92.5 336.3L101.4 333L112.1 330.9L122.8 332.1L133.5 335.4L135.4 336.3L135.8 345.8L133.5 347.5L123.8 355.4L122.8 355.9L112.1 364.9L112.1 364.9L101.4 374.1L100.8 374.4L90.7 378.7L80 380.4L69.3 376.5ZM219.1 304.1L229.8 302.9L240.3 298.1L240.5 298.1L251.2 289.5L251.6 288.6L251.2 288.6L240.5 288.6L229.8 288.6L219.1 288.6L213.4 288.6L211.1 298.1ZM283.3 298.7L283.3 298.1L283.3 288.6L278.7 288.6L281.9 298.1Z"/>
<path fill="#70ff8f" d="M112.1 517.5L112.1 517.5L115.4 508L115.3 498.4L114.3 488.9L112.8 479.4L112.1 474.7L109.4 469.8L101.4 467.4L90.7 466.2L80 466L69.3 465.5L58.6 463.9L47.9 461.7L43.1 460.3L38.6 450.7L47.9 441.9L49.5 441.2L58.6 435.3L64 431.7L67.1 422.1L69.3 415.8L70.3 412.6L80 403.9L80.9 403.1L90.7 397.5L96.3 393.5L101.4 390.8L112.1 384.8L113.4 384L122.8 377.3L127.2 374.4L133.5 370.5L144.2 366.3L148.7 364.9L154.9 362.5L165.6 358.6L174.8 355.4L176.3 354.7L185.7 345.8L186.7 336.3L187 332.4L187.8 326.8L197.7 319.2L208.4 318.8L219.1 319.6L229.8 319.4L240.5 317.7L242.7 317.2L251.2 315.1L261.9 313.8L272.6 314.5L280.1 317.2L283.3 319.6L283.3 317.2L283.3 307.7L283.3 298.7L281.9 298.1L278.7 288.6L272.6 288.6L261.9 288.6L251.6 288.6L251.2 289.5L240.5 298.1L240.3 298.1L229.8 302.9L219.1 304.1L211.1 298.1L213.4 288.6L208.4 288.6L202.1 288.6L197.7 293.7L187 297.3L184.4 298.1L176.3 302.8L165.6 307.5L164.8 307.7L154.9 309.5L144.2 308L143.3 307.7L133.5 302.9L127.2 298.1L122.8 295.5L112.1 289.7L111.3 288.6L103 288.6L104 298.1L112.1 303.5L119.1 307.7L122.8 310.1L133.5 316.5L137.4 317.2L144.2 318.5L154.9 320L165.6 326.3L165.9 326.8L168 336.3L165.6 340.9L161.6 345.8L154.9 349L145.1 355.4L144.2 355.8L133.5 360.9L126.8 364.9L122.8 367.3L114.2 374.4L112.1 375.9L101.4 382.6L98.3 384L90.7 387.6L80 391.4L69.3 393L58.6 389L56.5 384L53.8 374.4L51.6 364.9L50.8 355.4L52 345.8L56.6 336.3L58.6 333.4L69.3 326.8L69.3 326.8L80 320.4L86.1 317.2L90.7 311L93.4 307.7L90.7 306.3L80 305.2L69.3 306.1L60.5 307.7L58.6 308.4L47.9 309.9L38.1 307.7L37.2 307.5L26.5 298.7L26.5 307.7L26.5 317.2L26.5 319.6L32.8 326.8L36.4 336.3L37 345.8L36.1 355.4L36.9 364.9L37.2 365.8L38.8 374.4L37.2 380.5L26.5 381.3L26.5 384L26.5 393.5L26.5 393.9L37.2 397.8L47.9 403.1L47.9 403.1L49 412.6L47.9 415.8L46.3 422.1L41.8 431.7L37.2 437.1L35.3 441.2L29.6 450.7L29.9 460.3L37.2 463.4L47.9 466.3L58.6 468.9L64.1 469.8L69.3 470.7L80 470.9L90.7 471.3L101.4 474.5L106.1 479.4L110.3 488.9L112.1 496.5L112.4 498.4L112.3 508L112.1 508.5L106.8 517.5ZM208.4 517.5L218.1 517.5L218.4 508L219.1 507.1L229.8 500L237.8 498.4L240.5 498L243.2 498.4L251.2 501.4L258.2 508L254.6 517.5L261.9 517.5L272.6 517.5L274.7 517.5L272.6 510L270 508L264.7 498.4L264.4 488.9L264.7 479.4L265.7 469.8L263.9 460.3L261.9 459L251.2 452.5L247.8 450.7L240.5 446.3L235.2 441.2L229.8 431.7L229.8 431.6L219.1 424.2L213.8 422.1L208.4 418.8L198.2 412.6L197.7 412.2L190.1 403.1L191.9 393.5L197.7 384L197.7 384L208.4 378.1L217.5 374.4L219.1 373.9L229.8 371.6L240.5 371.4L251.2 372.8L256.7 374.4L261.9 376.8L270.5 384L272.6 386.8L282.4 393.5L283.3 393.9L283.3 393.5L283.3 384L283.3 381.3L278.2 374.4L272.6 369.9L261.9 366.8L251.2 365L250.6 364.9L240.5 363L229.8 360.4L219.1 357.9L208.4 360.3L201.1 364.9L197.7 366.7L190 374.4L187 377.8L183 384L177.4 393.5L176.3 395.5L168.4 403.1L165.6 405.4L156.8 412.6L154.9 415.1L152.1 422.1L144.5 431.7L144.2 431.7L133.5 437.2L129.7 441.2L122.8 449.9L122.1 450.7L116.8 460.3L122.8 466.9L128.9 469.8L133.5 470.4L144.2 472.5L154.9 474L165.6 475.7L175.7 479.4L176.3 479.8L177.4 479.4L183.8 469.8L184.6 460.3L187 455.5L197.7 458L208.4 451L208.6 450.7L211.4 441.2L219.1 438.8L221.6 441.2L229.8 449.6L230.9 450.7L240.5 455.8L249.1 460.3L251.2 462.3L255.8 469.8L255.6 479.4L251.2 486.7L245.5 488.9L240.5 489.8L229.8 491.7L219.1 496L216 498.4L208.4 507.9L208.3 508L208.3 517.5ZM143.3 469.8L133.5 465.5L126.3 460.3L128.5 450.7L133.5 444.9L140.6 441.2L144.2 439.3L154.9 438.3L162.6 441.2L165.6 442L173.4 450.7L174.4 460.3L170.7 469.8L165.6 471.5L154.9 471.6L144.2 470Z"/>
<path fill="#9fff60" d="M118.5 508L118.1 498.4L118 488.9L119.8 479.4L122.8 475.9L133.5 474L144.2 474.9L154.9 476.4L164.5 479.4L165.6 480.3L176.3 488L187 487.3L194.1 479.4L197.7 474.2L208.4 471L216.7 469.8L219.1 469.4L229.8 466.3L240.5 468L242.3 469.8L240.5 479.3L240.5 479.4L229.8 481.6L219.1 484.5L214.1 488.9L208.4 492.9L203.1 498.4L199.1 508L197.7 513.7L192.2 517.5L197.7 517.5L208.3 517.5L208.3 508L208.4 507.9L216 498.4L219.1 496L229.8 491.7L240.5 489.8L245.5 488.9L251.2 486.7L255.6 479.4L255.8 469.8L251.2 462.3L249.1 460.3L240.5 455.8L230.9 450.7L229.8 449.6L221.6 441.2L219.1 438.8L211.4 441.2L208.6 450.7L208.4 451L197.7 458L187 455.5L184.6 460.3L183.8 469.8L177.4 479.4L176.3 479.8L175.7 479.4L165.6 475.7L154.9 474L144.2 472.5L133.5 470.4L128.9 469.8L122.8 466.9L116.8 460.3L122.1 450.7L122.8 449.9L129.7 441.2L133.5 437.2L144.2 431.7L144.5 431.7L152.1 422.1L154.9 415.1L156.8 412.6L165.6 405.4L168.4 403.1L176.3 395.5L177.4 393.5L183 384L187 377.8L190 374.4L197.7 366.7L201.1 364.9L208.4 360.3L219.1 357.9L229.8 360.4L240.5 363L250.6 364.9L251.2 365L261.9 366.8L272.6 369.9L278.2 374.4L283.3 381.3L283.3 374.4L283.3 364.9L283.3 355.4L283.3 345.8L283.3 336.3L283.3 326.8L283.3 319.6L280.1 317.2L272.6 314.5L261.9 313.8L251.2 315.1L242.7 317.2L240.5 317.7L229.8 319.4L219.1 319.6L208.4 318.8L197.7 319.2L187.8 326.8L187 332.4L186.7 336.3L185.7 345.8L176.3 354.7L174.8 355.4L165.6 358.6L154.9 362.5L148.7 364.9L144.2 366.3L133.5 370.5L127.2 374.4L122.8 377.3L113.4 384L112.1 384.8L101.4 390.8L96.3 393.5L90.7 397.5L80.9 403.1L80 403.9L70.3 412.6L69.3 415.8L67.1 422.1L64 431.7L58.6 435.3L49.5 441.2L47.9 441.9L38.6 450.7L43.1 460.3L47.9 461.7L58.6 463.9L69.3 465.5L80 466L90.7 466.2L101.4 467.4L109.4 469.8L112.1 474.7L112.8 479.4L114.3 488.9L115.3 498.4L115.4 508L112.1 517.5L118.9 517.5ZM69.3 460.3L69.3 460.3L60.6 450.7L69.3 448.5L80 444.9L84.3 441.2L85.5 431.7L84.6 422.1L88.7 412.6L90.7 410.7L97.5 403.1L101.4 400.2L111.1 393.5L112.1 393L122.8 387L128.2 384L133.5 380.7L144.2 376.9L154.9 374.8L165.6 375.7L167 384L165.6 385.8L158.7 393.5L154.9 396.4L149.5 403.1L144.2 412.5L144.1 412.6L139.2 422.1L133.5 427.9L130.2 431.7L122.8 440.1L121.9 441.2L113.6 450.7L112.1 452.9L101.4 458.8L95.9 460.3L90.7 460.8L80 460.9ZM249.1 355.4L240.5 351.7L233.5 345.8L237.7 336.3L240.5 335L251.2 331.1L261.9 328.7L272.6 332.4L274.4 336.3L274.2 345.8L272.6 349.4L264.2 355.4L261.9 355.9L251.2 355.8ZM37.2 380.5L38.8 374.4L37.2 365.8L36.9 364.9L36.1 355.4L37 345.8L36.4 336.3L32.8 326.8L26.5 319.6L26.5 326.8L26.5 336.3L26.5 345.8L26.5 355.4L26.5 364.9L26.5 374.4L26.5 381.3ZM144.2 308L154.9 309.5L164.8 307.7L165.6 307.5L176.3 302.8L184.4 298.1L187 297.3L197.7 293.7L202.1 288.6L197.7 288.6L187 288.6L185.8 288.6L176.3 293L167.2 298.1L165.6 299.2L154.9 302.5L144.2 300.2L140.9 298.1L133.5 292.4L127.1 288.6L122.8 288.6L112.1 288.6L111.3 288.6L112.1 289.7L122.8 295.5L127.2 298.1L133.5 302.9L143.3 307.7Z"/>
<path fill="#dfff20" d="M122.8 517.5L126.5 517.5L122.8 512.6L121.6 508L121 498.4L121.7 488.9L122.8 485.6L128.5 479.4L133.5 477.6L144.2 477.4L154.9 478.9L156.5 479.4L165.6 486.8L168.4 488.9L176.3 496L184.3 498.4L187 503.2L188.2 508L187 508.9L176.3 513.3L171.7 517.5L176.3 517.5L187 517.5L192.2 517.5L197.7 513.7L199.1 508L203.1 498.4L208.4 492.9L214.1 488.9L219.1 484.5L229.8 481.6L240.5 479.4L240.5 479.3L242.3 469.8L240.5 468L229.8 466.3L219.1 469.4L216.7 469.8L208.4 471L197.7 474.2L194.1 479.4L187 487.3L176.3 488L165.6 480.3L164.5 479.4L154.9 476.4L144.2 474.9L133.5 474L122.8 475.9L119.8 479.4L118 488.9L118.1 498.4L118.5 508L118.9 517.5ZM80 460.9L90.7 460.8L95.9 460.3L101.4 458.8L112.1 452.9L113.6 450.7L121.9 441.2L122.8 440.1L130.2 431.7L133.5 427.9L139.2 422.1L144.1 412.6L144.2 412.5L149.5 403.1L154.9 396.4L158.7 393.5L165.6 385.8L167 384L165.6 375.7L154.9 374.8L144.2 376.9L133.5 380.7L128.2 384L122.8 387L112.1 393L111.1 393.5L101.4 400.2L97.5 403.1L90.7 410.7L88.7 412.6L84.6 422.1L85.5 431.7L84.3 441.2L80 444.9L69.3 448.5L60.6 450.7L69.3 460.3L69.3 460.3ZM99.7 431.7L99.6 422.1L101.4 417.6L104 412.6L112.1 403.1L112.1 403.1L122.8 398.6L133.5 398.8L135 403.1L133.5 410.7L133 412.6L126.3 422.1L122.8 426.6L118.5 431.7L112.1 441.2L101.4 438.3ZM251.2 355.8L261.9 355.9L264.2 355.4L272.6 349.4L274.2 345.8L274.4 336.3L272.6 332.4L261.9 328.7L251.2 331.1L240.5 335L237.7 336.3L233.5 345.8L240.5 351.7L249.1 355.4ZM144.2 300.2L154.9 302.5L165.6 299.2L167.2 298.1L176.3 293L185.8 288.6L176.3 288.6L172.9 288.6L165.6 293.4L154.9 296.6L144.2 293.4L138.3 288.6L133.5 288.6L127.1 288.6L133.5 292.4L140.9 298.1Z"/>
<path fill="#ffef00" d="M122.8 512.6L126.5 517.5L133.5 517.5L135.7 517.5L133.5 516.6L125.4 508L124.2 498.4L126.2 488.9L133.5 481.7L144.2 480.2L154.9 483.6L161.2 488.9L164.8 498.4L164.7 508L163.2 517.5L165.6 517.5L171.7 517.5L176.3 513.3L187 508.9L188.2 508L187 503.2L184.3 498.4L176.3 496L168.4 488.9L165.6 486.8L156.5 479.4L154.9 478.9L144.2 477.4L133.5 477.6L128.5 479.4L122.8 485.6L121.7 488.9L121 498.4L121.6 508ZM101.4 438.3L112.1 441.2L118.5 431.7L122.8 426.6L126.3 422.1L133 412.6L133.5 410.7L135 403.1L133.5 398.8L122.8 398.6L112.1 403.1L112.1 403.1L104 412.6L101.4 417.6L99.6 422.1L99.7 431.7ZM144.2 293.4L154.9 296.6L165.6 293.4L172.9 288.6L165.6 288.6L163.8 288.6L154.9 291.6L147.4 288.6L144.2 288.6L138.3 288.6Z"/>
<path fill="#ffbf00" d="M133.5 516.6L135.7 517.5L144.2 517.5L154.9 517.5L163.2 517.5L164.7 508L164.8 498.4L161.2 488.9L154.9 483.6L144.2 480.2L133.5 481.7L126.2 488.9L124.2 498.4L125.4 508ZM129.6 508L128.1 498.4L131 488.9L133.5 486.4L144.2 484.6L154.6 488.9L154.9 498.4L154.9 498.4L154.9 498.4L151 508L144.2 515.4L133.5 512.1ZM154.9 291.6L163.8 288.6L154.9 288.6L147.4 288.6Z"/>
<path fill="#ff8f00" d="M133.5 512.1L144.2 515.4L151 508L154.9 498.4L154.9 498.4L154.9 498.4L154.6 488.9L144.2 484.6L133.5 486.4L131 488.9L128.1 498.4L129.6 508ZM132 498.4L133.5 494.1L144.2 489.6L147.3 498.4L144.2 504.7L133.5 506.2Z"/>
<path fill="#ff5000" d="M133.5 506.2L144.2 504.7L147.3 498.4L144.2 489.6L133.5 494.1L132 498.4Z"/>
<path fill="none" stroke="#000" stroke-width="0.75" stroke-linejoin="round" d="M37.2 489.7L36.3 488.9L37.2 488.1L38.8 488.9ZM283.3 495.4L281.4 488.9L282.8 479.4L283.3 478.7M26.5 478.7L37.2 477.4L47.9 479.4L47.9 479.4L58.6 488L60.8 488.9L58.6 490.6L52.2 498.4L47.9 500.4L37.2 502.2L29.8 498.4L26.5 495.4M90.7 511.8L82.5 508L80 505L76.2 498.4L77.3 488.9L80 488.2L90.7 487.9L92 488.9L97.4 498.4L94.7 508ZM154.9 462.3L145.6 460.3L154.9 454.1L158.6 460.3ZM66.2 517.5L58.6 508.3L47.9 511.5L37.2 511.3L31 508L26.5 505.8M283.3 505.8L279.5 498.4L277 488.9L277.4 479.4L283.3 472.3M26.5 472.3L37.2 472.9L47.9 475.1L58.6 477.9L66.8 479.4L69.3 480.5L80 479.7L90.7 480.8L100.9 488.9L101.4 489.6L104.1 498.4L103.4 508L101.4 510.9L94.3 517.5M144.2 463.3L139.1 460.3L141.9 450.7L144.2 449.2L154.9 448L159.9 450.7L164.8 460.3L154.9 465.6ZM261.9 433.9L258.9 431.7L257.1 422.1L261.9 415.9L272.6 414.8L278.2 422.1L275.7 431.7L272.6 434.2ZM90.7 367L80.1 364.9L88 355.4L90.7 354.7L93.2 355.4L94.6 364.9L90.7 367M28.7 517.5L26.5 516.4M283.3 516.4L278.5 508L274.7 498.4L272.6 489L272.6 488.9L271.9 479.4L272.6 476.8L275.9 469.8L283.3 465.3M26.5 465.3L37.2 468.3L43.4 469.8L47.9 470.8L58.6 473.4L69.3 475.2L80 475.2L90.7 475.8L98.6 479.4L101.4 481.6L105.7 488.9L108.3 498.4L107.9 508L101.5 517.5M283.3 442.5L272.6 447.2L261.9 446.7L251.2 443.1L248.2 441.2L242.9 431.7L242 422.1L240.5 418.6L234.8 412.6L229.8 407.9L225.7 403.1L224.3 393.5L229.8 384.6L230.4 384L240.5 380.9L251.2 382.5L254.1 384L260.9 393.5L261.9 395L271.8 403.1L272.6 403.3L283.3 404.9M26.5 404.9L32.5 412.6L32.8 422.1L31.1 431.7L27.3 441.2L26.5 442.5M94.2 288.6L90.7 292.1L80 293.8L69.3 293.8L58.6 294.7L47.9 295.3L37.2 292.7L33.6 288.6M133.5 460.3L133.5 460.3L133.5 460.3L134.9 450.7L144.2 444.6L154.9 444L165.6 449.2L167 450.7L169.7 460.3L165.6 465.9L154.9 468.9L144.2 466.7ZM69.3 376.5L67.7 374.4L64.2 364.9L63.7 355.4L67.6 345.8L69.3 344.1L80 339.5L90.7 336.8L92.5 336.3L101.4 333L112.1 330.9L122.8 332.1L133.5 335.4L135.4 336.3L135.8 345.8L133.5 347.5L123.8 355.4L122.8 355.9L112.1 364.9L112.1 364.9L101.4 374.1L100.8 374.4L90.7 378.7L80 380.4L69.3 376.5M218.1 517.5L218.4 508L219.1 507.1L229.8 500L237.8 498.4L240.5 498L243.2 498.4L251.2 501.4L258.2 508L254.6 517.5M274.7 517.5L272.6 510L270 508L264.7 498.4L264.4 488.9L264.7 479.4L265.7 469.8L263.9 460.3L261.9 459L251.2 452.5L247.8 450.7L240.5 446.3L235.2 441.2L229.8 431.7L229.8 431.6L219.1 424.2L213.8 422.1L208.4 418.8L198.2 412.6L197.7 412.2L190.1 403.1L191.9 393.5L197.7 384L197.7 384L208.4 378.1L217.5 374.4L219.1 373.9L229.8 371.6L240.5 371.4L251.2 372.8L256.7 374.4L261.9 376.8L270.5 384L272.6 386.8L282.4 393.5L283.3 393.9M26.5 393.9L37.2 397.8L47.9 403.1L47.9 403.1L49 412.6L47.9 415.8L46.3 422.1L41.8 431.7L37.2 437.1L35.3 441.2L29.6 450.7L29.9 460.3L37.2 463.4L47.9 466.3L58.6 468.9L64.1 469.8L69.3 470.7L80 470.9L90.7 471.3L101.4 474.5L106.1 479.4L110.3 488.9L112.1 496.5L112.4 498.4L112.3 508L112.1 508.5L106.8 517.5M283.3 298.7L281.9 298.1L278.7 288.6M103 288.6L104 298.1L112.1 303.5L119.1 307.7L122.8 310.1L133.5 316.5L137.4 317.2L144.2 318.5L154.9 320L165.6 326.3L165.9 326.8L168 336.3L165.6 340.9L161.6 345.8L154.9 349L145.1 355.4L144.2 355.8L133.5 360.9L126.8 364.9L122.8 367.3L114.2 374.4L112.1 375.9L101.4 382.6L98.3 384L90.7 387.6L80 391.4L69.3 393L58.6 389L56.5 384L53.8 374.4L51.6 364.9L50.8 355.4L52 345.8L56.6 336.3L58.6 333.4L69.3 326.8L69.3 326.8L80 320.4L86.1 317.2L90.7 311L93.4 307.7L90.7 306.3L80 305.2L69.3 306.1L60.5 307.7L58.6 308.4L47.9 309.9L38.1 307.7L37.2 307.5L26.5 298.7M251.6 288.6L251.2 289.5L240.5 298.1L240.3 298.1L229.8 302.9L219.1 304.1L211.1 298.1L213.4 288.6M144.2 470L143.3 469.8L133.5 465.5L126.3 460.3L128.5 450.7L133.5 444.9L140.6 441.2L144.2 439.3L154.9 438.3L162.6 441.2L165.6 442L173.4 450.7L174.4 460.3L170.7 469.8L165.6 471.5L154.9 471.6ZM208.3 517.5L208.3 508L208.4 507.9L216 498.4L219.1 496L229.8 491.7L240.5 489.8L245.5 488.9L251.2 486.7L255.6 479.4L255.8 469.8L251.2 462.3L249.1 460.3L240.5 455.8L230.9 450.7L229.8 449.6L221.6 441.2L219.1 438.8L211.4 441.2L208.6 450.7L208.4 451L197.7 458L187 455.5L184.6 460.3L183.8 469.8L177.4 479.4L176.3 479.8L175.7 479.4L165.6 475.7L154.9 474L144.2 472.5L133.5 470.4L128.9 469.8L122.8 466.9L116.8 460.3L122.1 450.7L122.8 449.9L129.7 441.2L133.5 437.2L144.2 431.7L144.5 431.7L152.1 422.1L154.9 415.1L156.8 412.6L165.6 405.4L168.4 403.1L176.3 395.5L177.4 393.5L183 384L187 377.8L190 374.4L197.7 366.7L201.1 364.9L208.4 360.3L219.1 357.9L229.8 360.4L240.5 363L250.6 364.9L251.2 365L261.9 366.8L272.6 369.9L278.2 374.4L283.3 381.3M26.5 381.3L37.2 380.5L38.8 374.4L37.2 365.8L36.9 364.9L36.1 355.4L37 345.8L36.4 336.3L32.8 326.8L26.5 319.6M283.3 319.6L280.1 317.2L272.6 314.5L261.9 313.8L251.2 315.1L242.7 317.2L240.5 317.7L229.8 319.4L219.1 319.6L208.4 318.8L197.7 319.2L187.8 326.8L187 332.4L186.7 336.3L185.7 345.8L176.3 354.7L174.8 355.4L165.6 358.6L154.9 362.5L148.7 364.9L144.2 366.3L133.5 370.5L127.2 374.4L122.8 377.3L113.4 384L112.1 384.8L101.4 390.8L96.3 393.5L90.7 397.5L80.9 403.1L80 403.9L70.3 412.6L69.3 415.8L67.1 422.1L64 431.7L58.6 435.3L49.5 441.2L47.9 441.9L38.6 450.7L43.1 460.3L47.9 461.7L58.6 463.9L69.3 465.5L80 466L90.7 466.2L101.4 467.4L109.4 469.8L112.1 474.7L112.8 479.4L114.3 488.9L115.3 498.4L115.4 508L112.1 517.5M111.3 288.6L112.1 289.7L122.8 295.5L127.2 298.1L133.5 302.9L143.3 307.7L144.2 308L154.9 309.5L164.8 307.7L165.6 307.5L176.3 302.8L184.4 298.1L187 297.3L197.7 293.7L202.1 288.6M192.2 517.5L197.7 513.7L199.1 508L203.1 498.4L208.4 492.9L214.1 488.9L219.1 484.5L229.8 481.6L240.5 479.4L240.5 479.3L242.3 469.8L240.5 468L229.8 466.3L219.1 469.4L216.7 469.8L208.4 471L197.7 474.2L194.1 479.4L187 487.3L176.3 488L165.6 480.3L164.5 479.4L154.9 476.4L144.2 474.9L133.5 474L122.8 475.9L119.8 479.4L118 488.9L118.1 498.4L118.5 508L118.9 517.5M127.1 288.6L133.5 292.4L140.9 298.1L144.2 300.2L154.9 302.5L165.6 299.2L167.2 298.1L176.3 293L185.8 288.6M80 460.9L90.7 460.8L95.9 460.3L101.4 458.8L112.1 452.9L113.6 450.7L121.9 441.2L122.8 440.1L130.2 431.7L133.5 427.9L139.2 422.1L144.1 412.6L144.2 412.5L149.5 403.1L154.9 396.4L158.7 393.5L165.6 385.8L167 384L165.6 375.7L154.9 374.8L144.2 376.9L133.5 380.7L128.2 384L122.8 387L112.1 393L111.1 393.5L101.4 400.2L97.5 403.1L90.7 410.7L88.7 412.6L84.6 422.1L85.5 431.7L84.3 441.2L80 444.9L69.3 448.5L60.6 450.7L69.3 460.3L69.3 460.3ZM251.2 355.8L261.9 355.9L264.2 355.4L272.6 349.4L274.2 345.8L274.4 336.3L272.6 332.4L261.9 328.7L251.2 331.1L240.5 335L237.7 336.3L233.5 345.8L240.5 351.7L249.1 355.4ZM171.7 517.5L176.3 513.3L187 508.9L188.2 508L187 503.2L184.3 498.4L176.3 496L168.4 488.9L165.6 486.8L156.5 479.4L154.9 478.9L144.2 477.4L133.5 477.6L128.5 479.4L122.8 485.6L121.7 488.9L121 498.4L121.6 508L122.8 512.6L126.5 517.5M138.3 288.6L144.2 293.4L154.9 296.6L165.6 293.4L172.9 288.6M101.4 438.3L112.1 441.2L118.5 431.7L122.8 426.6L126.3 422.1L133 412.6L133.5 410.7L135 403.1L133.5 398.8L122.8 398.6L112.1 403.1L112.1 403.1L104 412.6L101.4 417.6L99.6 422.1L99.7 431.7ZM163.2 517.5L164.7 508L164.8 498.4L161.2 488.9L154.9 483.6L144.2 480.2L133.5 481.7L126.2 488.9L124.2 498.4L125.4 508L133.5 516.6L135.7 517.5M147.4 288.6L154.9 291.6L163.8 288.6M133.5 512.1L144.2 515.4L151 508L154.9 498.4L154.9 498.4L154.9 498.4L154.6 488.9L144.2 484.6L133.5 486.4L131 488.9L128.1 498.4L129.6 508ZM133.5 506.2L144.2 504.7L147.3 498.4L144.2 489.6L133.5 494.1L132 498.4Z"/>
</g>
<path fill="none" stroke="#000" stroke-width="0.8" d="M26.5 288.6v2.5M26.5 517.5v-2.5M26.5 517.5h2.5M283.3 517.5h-2.5M47.9 288.6v2.5M47.9 517.5v-2.5M26.5 498.4h2.5M283.3 498.4h-2.5M69.3 288.6v2.5M69.3 517.5v-2.5M26.5 479.4h2.5M283.3 479.4h-2.5M90.7 288.6v2.5M90.7 517.5v-2.5M26.5 460.3h2.5M283.3 460.3h-2.5M112.1 288.6v2.5M112.1 517.5v-2.5M26.5 441.2h2.5M283.3 441.2h-2.5M133.5 288.6v2.5M133.5 517.5v-2.5M26.5 422.1h2.5M283.3 422.1h-2.5M154.9 288.6v2.5M154.9 517.5v-2.5M26.5 403.1h2.5M283.3 403.1h-2.5M176.3 288.6v2.5M176.3 517.5v-2.5M26.5 384h2.5M283.3 384h-2.5M197.7 288.6v2.5M197.7 517.5v-2.5M26.5 364.9h2.5M283.3 364.9h-2.5M219.1 288.6v2.5M219.1 517.5v-2.5M26.5 345.8h2.5M283.3 345.8h-2.5M240.5 288.6v2.5M240.5 517.5v-2.5M26.5 326.8h2.5M283.3 326.8h-2.5M261.9 288.6v2.5M261.9 517.5v-2.5M26.5 307.7h2.5M283.3 307.7h-2.5M283.3 288.6v2.5M283.3 517.5v-2.5M26.5 288.6h2.5M283.3 288.6h-2.5"/>
<rect x="26.5" y="288.6" width="256.8" height="228.9" fill="none" stroke="#222" stroke-width="1"/>
<g font-family="Liberation Sans, sans-serif" font-size="9.75" fill="#000"><text transform="translate(24.3 521.6) scale(0.95 1)" text-anchor="end">0</text><text transform="translate(24.3 502.5) scale(0.95 1)" text-anchor="end">2</text><text transform="translate(24.3 483.5) scale(0.95 1)" text-anchor="end">4</text><text transform="translate(24.3 464.4) scale(0.95 1)" text-anchor="end">6</text><text transform="translate(24.3 445.3) scale(0.95 1)" text-anchor="end">8</text><text transform="translate(24.3 426.2) scale(0.95 1)" text-anchor="end">10</text><text transform="translate(24.3 407.2) scale(0.95 1)" text-anchor="end">12</text><text transform="translate(24.3 388.1) scale(0.95 1)" text-anchor="end">14</text><text transform="translate(24.3 369) scale(0.95 1)" text-anchor="end">16</text><text transform="translate(24.3 349.9) scale(0.95 1)" text-anchor="end">18</text><text transform="translate(24.3 330.9) scale(0.95 1)" text-anchor="end">20</text><text transform="translate(24.3 311.8) scale(0.95 1)" text-anchor="end">22</text><text transform="translate(24.3 292.7) scale(0.95 1)" text-anchor="end">24</text><text transform="translate(23.8 529) scale(0.95 1)" text-anchor="middle">−180</text><text transform="translate(45.2 529) scale(0.95 1)" text-anchor="middle">−150</text><text transform="translate(66.6 529) scale(0.95 1)" text-anchor="middle">−120</text><text transform="translate(88 529) scale(0.95 1)" text-anchor="middle">−90</text><text transform="translate(109.4 529) scale(0.95 1)" text-anchor="middle">−60</text><text transform="translate(130.8 529) scale(0.95 1)" text-anchor="middle">−30</text><text transform="translate(154.9 529) scale(0.95 1)" text-anchor="middle">0</text><text transform="translate(176.3 529) scale(0.95 1)" text-anchor="middle">30</text><text transform="translate(197.7 529) scale(0.95 1)" text-anchor="middle">60</text><text transform="translate(219.1 529) scale(0.95 1)" text-anchor="middle">90</text><text transform="translate(240.5 529) scale(0.95 1)" text-anchor="middle">120</text><text transform="translate(261.9 529) scale(0.95 1)" text-anchor="middle">150</text><text transform="translate(283.3 529) scale(0.95 1)" text-anchor="middle">180</text></g>
<text font-family="Liberation Sans, sans-serif" font-size="9.75" fill="#000" x="102.7" y="538.7" textLength="104.4" lengthAdjust="spacingAndGlyphs">Geographic longitude [°]</text>
<text font-family="Liberation Sans, sans-serif" font-size="10" fill="#000" transform="translate(9.1 398.6) rotate(-90)" text-anchor="middle">Magnetic local Time [h]</text>
<g font-family="Liberation Sans, sans-serif" font-size="9.7" fill="#000"><text x="35.7" y="281.3" textLength="57.7" lengthAdjust="spacingAndGlyphs">Migrating tide</text><text x="95.8" y="281.3" textLength="12.9" lengthAdjust="spacingAndGlyphs">Vx</text><text x="110.7" y="281.3" textLength="63.6" lengthAdjust="spacingAndGlyphs">meridional wind</text><text x="177.4" y="281.3" textLength="12.2" lengthAdjust="spacingAndGlyphs">NH</text><text x="197.5" y="281.3" textLength="12" lengthAdjust="spacingAndGlyphs">[40</text><text x="215.8" y="281.3" textLength="28" lengthAdjust="spacingAndGlyphs">°~60°]</text><text x="245.8" y="281.3" textLength="28.6" lengthAdjust="spacingAndGlyphs">400km</text></g>
<rect x="292.9" y="288.6" width="12.7" height="228.9" fill="url(#jetg)"/>
<path fill="none" stroke="#000" stroke-width="0.8" d="M292.9 517.5h2M305.6 517.5h-2M292.9 494.6h2M305.6 494.6h-2M292.9 471.7h2M305.6 471.7h-2M292.9 448.8h2M305.6 448.8h-2M292.9 425.9h2M305.6 425.9h-2M292.9 403.1h2M305.6 403.1h-2M292.9 380.2h2M305.6 380.2h-2M292.9 357.3h2M305.6 357.3h-2M292.9 334.4h2M305.6 334.4h-2M292.9 311.5h2M305.6 311.5h-2M292.9 288.6h2M305.6 288.6h-2"/>
<rect x="292.9" y="288.6" width="12.7" height="228.9" fill="none" stroke="#222" stroke-width="1"/>
<g font-family="Liberation Sans, sans-serif" font-size="9.75" fill="#000"><text transform="translate(308.2 520.9) scale(0.95 1)">−5</text><text transform="translate(308.2 498) scale(0.95 1)">−4</text><text transform="translate(308.2 475.1) scale(0.95 1)">−3</text><text transform="translate(308.2 452.2) scale(0.95 1)">−2</text><text transform="translate(308.2 429.3) scale(0.95 1)">−1</text><text transform="translate(308.2 406.4) scale(0.95 1)">0</text><text transform="translate(308.2 383.6) scale(0.95 1)">1</text><text transform="translate(308.2 360.7) scale(0.95 1)">2</text><text transform="translate(308.2 337.8) scale(0.95 1)">3</text><text transform="translate(308.2 314.9) scale(0.95 1)">4</text><text transform="translate(308.2 292) scale(0.95 1)">5</text></g>
<text font-family="Liberation Sans, sans-serif" font-size="10" fill="#000" transform="translate(329.3 407.1) rotate(-90)" text-anchor="middle">Δ Vx [ m/s ]</text>
<clipPath id="cp3"><rect x="379.3" y="288.6" width="256.8" height="228.9"/></clipPath>
<g clip-path="url(#cp3)">
<rect x="379.3" y="288.6" width="256.8" height="228.9" fill="#80ff80"/>
<path fill="#0000df" d="M518.4 501.8L529.1 498.4L529.1 498.4L529.1 498.4L526.6 488.9L518.4 486L507.7 488.1L497 485.8L491.9 479.4L486.3 478.3L483.2 479.4L486.3 488.2L488 488.9L497 489.6L507.7 490.4L513 498.4ZM464.9 461.2L465.7 460.3L464.9 454.4L464 460.3Z"/>
<path fill="#0020ff" d="M497 517.5L507.7 517.5L514.5 517.5L518.4 515.4L529.1 510.1L531.9 508L537.2 498.4L536.1 488.9L529.1 480.3L527.2 479.4L518.4 476.8L507.7 475.1L497 472.2L490 469.8L486.3 468.2L478.9 460.3L478.8 450.7L479.5 441.2L475.6 434.1L464.9 432.4L456 441.2L454.2 442.9L449.3 450.7L450.3 460.3L454.2 464.6L459.7 469.8L464.9 475.9L468 479.4L472.6 488.9L475.6 494.4L482 498.4L486.3 500.9L497 506.6L498.9 508L497 511.7L495.2 517.5ZM513 498.4L507.7 490.4L497 489.6L488 488.9L486.3 488.2L483.2 479.4L486.3 478.3L491.9 479.4L497 485.8L507.7 488.1L518.4 486L526.6 488.9L529.1 498.4L529.1 498.4L529.1 498.4L518.4 501.8ZM464 460.3L464.9 454.4L465.7 460.3L464.9 461.2Z"/>
<path fill="#0060ff" d="M486.3 517.5L495.2 517.5L497 511.7L498.9 508L497 506.6L486.3 500.9L482 498.4L475.6 494.4L472.6 488.9L468 479.4L464.9 475.9L459.7 469.8L454.2 464.6L450.3 460.3L449.3 450.7L454.2 442.9L456 441.2L464.9 432.4L475.6 434.1L479.5 441.2L478.8 450.7L478.9 460.3L486.3 468.2L490 469.8L497 472.2L507.7 475.1L518.4 476.8L527.2 479.4L529.1 480.3L536.1 488.9L537.2 498.4L531.9 508L529.1 510.1L518.4 515.4L514.5 517.5L518.4 517.5L529.1 517.5L529.1 517.5L539.8 509.7L541.4 508L544.4 498.4L542.8 488.9L539.8 484.3L535.8 479.4L529.1 474.9L518.4 471L513.6 469.8L507.7 468L497 464.5L489.2 460.3L488.4 450.7L491.7 441.2L491.3 431.7L486.3 422.1L486.3 422.1L479.9 412.6L475.6 408.3L464.9 410.5L463.3 412.6L455.5 422.1L454.2 423.4L447.8 431.7L443.5 438.8L441.2 441.2L435.3 450.7L441.6 460.3L443.5 461.6L451.4 469.8L454.2 472.6L460.7 479.4L464.9 488.3L465.2 488.9L470.2 498.4L475.6 507L477.2 508L482.4 517.5ZM486.3 290.3L490.8 288.6L486.3 288.6L482.3 288.6Z"/>
<path fill="#00afff" d="M475.6 517.5L482.4 517.5L477.2 508L475.6 507L470.2 498.4L465.2 488.9L464.9 488.3L460.7 479.4L454.2 472.6L451.4 469.8L443.5 461.6L441.6 460.3L435.3 450.7L441.2 441.2L443.5 438.8L447.8 431.7L454.2 423.4L455.5 422.1L463.3 412.6L464.9 410.5L475.6 408.3L479.9 412.6L486.3 422.1L486.3 422.1L491.3 431.7L491.7 441.2L488.4 450.7L489.2 460.3L497 464.5L507.7 468L513.6 469.8L518.4 471L529.1 474.9L535.8 479.4L539.8 484.3L542.8 488.9L544.4 498.4L541.4 508L539.8 509.7L529.1 517.5L539.8 517.5L542.6 517.5L550.3 508L550.5 506.4L551.6 498.4L550.5 495.9L548.8 488.9L542.6 479.4L539.8 477L529.1 470L528.6 469.8L518.4 465.3L507.7 461L505.8 460.3L499.8 450.7L501.9 441.2L503 431.7L502.4 422.1L499.4 412.6L497 408.4L493.2 403.1L486.3 397.5L475.6 395.4L464.9 399.1L460.7 403.1L454.2 410.7L452.4 412.6L443.5 421.2L442 422.1L432.8 430L431 431.7L422.1 441.2L422.1 441.2L420.7 450.7L422.1 452.1L432.1 460.3L432.8 460.6L443.5 468L445.3 469.8L454.2 478.9L454.6 479.4L460.6 488.9L463.7 498.4L464.9 503L467.7 508L473 517.5ZM475.6 291.8L486.3 296L497 293.3L502.8 288.6L497 288.6L490.8 288.6L486.3 290.3L482.3 288.6L475.6 288.6L472 288.6Z"/>
<path fill="#00ffff" d="M464.9 517.5L464.9 517.5L473 517.5L467.7 508L464.9 503L463.7 498.4L460.6 488.9L454.6 479.4L454.2 478.9L445.3 469.8L443.5 468L432.8 460.6L432.1 460.3L422.1 452.1L420.7 450.7L422.1 441.2L422.1 441.2L431 431.7L432.8 430L442 422.1L443.5 421.2L452.4 412.6L454.2 410.7L460.7 403.1L464.9 399.1L475.6 395.4L486.3 397.5L493.2 403.1L497 408.4L499.4 412.6L502.4 422.1L503 431.7L501.9 441.2L499.8 450.7L505.8 460.3L507.7 461L518.4 465.3L528.6 469.8L529.1 470L539.8 477L542.6 479.4L548.8 488.9L550.5 495.9L551.6 498.4L550.5 506.4L550.3 508L542.6 517.5L550.5 517.5L561.2 517.5L562 517.5L570.5 508L564.1 498.4L561.2 496.4L556.7 488.9L550.5 482.2L548.7 479.4L539.8 471.9L536.6 469.8L529.1 464.9L519.8 460.3L518.4 458.7L511.5 450.7L511.3 441.2L512.5 431.7L513.6 422.1L513.5 412.6L510.8 403.1L507.7 397.7L504.7 393.5L497 384.4L495.5 384L486.3 382.1L483.3 384L475.6 386.3L464.9 391.3L462.2 393.5L454.2 401.1L452.4 403.1L443.5 412.3L443 412.6L432.8 418.7L427.7 422.1L422.1 427.1L419 431.7L414.3 441.2L412.1 450.7L420.9 460.3L422.1 460.6L432.8 464.9L439.4 469.8L443.5 473.2L449.7 479.4L454.2 485.9L456.1 488.9L459.7 498.4L461.9 508ZM571.9 381.4L582.6 380.2L593.3 375.2L594.5 374.4L601.4 364.9L602.4 355.4L604 347.8L604.5 345.8L614.7 338.1L618.7 336.3L625.4 332.7L630.8 326.8L628.6 317.2L625.4 315L614.7 311.1L604 308.4L593.3 307.7L593.3 307.7L593.3 307.7L582.6 312L578 317.2L571.9 326.8L571.9 326.8L569.5 336.3L567.2 345.8L564.6 355.4L562.1 364.9L562.9 374.4ZM475.6 298.4L486.3 303.4L497 302L503.3 298.1L507.7 294.8L518.4 290.8L529.1 291.2L539.8 290.7L550.5 288.6L550.5 288.6L550.5 288.6L539.8 288.6L529.1 288.6L518.4 288.6L507.7 288.6L502.8 288.6L497 293.3L486.3 296L475.6 291.8L472 288.6L464.9 288.6L475.4 298.1Z"/>
<path fill="#40ffbf" d="M464.9 517.5L464.9 517.5L464.9 517.5L461.9 508L459.7 498.4L456.1 488.9L454.2 485.9L449.7 479.4L443.5 473.2L439.4 469.8L432.8 464.9L422.1 460.6L420.9 460.3L412.1 450.7L414.3 441.2L419 431.7L422.1 427.1L427.7 422.1L432.8 418.7L443 412.6L443.5 412.3L452.4 403.1L454.2 401.1L462.2 393.5L464.9 391.3L475.6 386.3L483.3 384L486.3 382.1L495.5 384L497 384.4L504.7 393.5L507.7 397.7L510.8 403.1L513.5 412.6L513.6 422.1L512.5 431.7L511.3 441.2L511.5 450.7L518.4 458.7L519.8 460.3L529.1 464.9L536.6 469.8L539.8 471.9L548.7 479.4L550.5 482.2L556.7 488.9L561.2 496.4L564.1 498.4L570.5 508L562 517.5L571.9 517.5L582.6 517.5L584.1 517.5L589.9 508L584.2 498.4L582.6 497.5L571.9 491.7L568.2 488.9L561.2 484.8L556.1 479.4L550.5 475.2L544.1 469.8L539.8 466.5L530 460.3L529.1 459.2L521.6 450.7L520.4 441.2L521.6 431.7L523.8 422.1L526.6 412.6L528.1 403.1L523.1 393.5L518.4 387.9L516.1 384L512.5 374.4L507.7 364.9L507.7 364.9L497 358L486.3 360.1L482.9 364.9L475.6 374.4L475.6 374.4L464.9 384L464.9 384L454.2 392.4L452.9 393.5L444.3 403.1L443.5 403.9L432.8 408.9L424.1 412.6L422.1 413.7L415.4 422.1L411.4 429.6L410.7 431.7L407.3 441.2L404.3 450.7L408.2 460.3L411.4 461.2L422.1 464.3L432.8 469.2L433.6 469.8L443.5 477.9L444.9 479.4L451.8 488.9L454.2 494.7L455.7 498.4L457.5 508L457.2 517.5ZM550.5 393.6L561.2 396.2L571.9 396.4L582.6 395.9L593.3 394.4L597.7 393.5L604 391.9L614.7 388.7L625.4 386L636.1 385L636.1 384L636.1 374.4L636.1 364.9L636.1 355.4L636.1 345.8L636.1 336.3L636.1 326.8L636.1 317.2L636.1 307.7L636.1 304.2L625.4 300.9L616.9 298.1L614.7 297.3L604 293.9L593.3 291.4L586.9 288.6L582.6 288.6L571.9 288.6L561.2 288.6L550.5 288.6L550.5 288.6L539.8 290.7L529.1 291.2L518.4 290.8L507.7 294.8L503.3 298.1L497 302L486.3 303.4L475.6 298.4L475.4 298.1L464.9 288.6L464.9 288.6L455.7 288.6L461.8 298.1L464.9 301.8L471.3 307.7L475.6 311.3L486.3 314.9L497 313.9L506.6 307.7L507.7 307.1L518.4 299.8L525.4 298.1L529.1 297.5L539.8 298L540.9 298.1L550.5 301.6L557.2 307.7L558.8 317.2L558.1 326.8L556.4 336.3L553.1 345.8L550.5 351.7L547.8 355.4L543.9 364.9L543.8 374.4L545.4 384L550.3 393.5ZM562.9 374.4L562.1 364.9L564.6 355.4L567.2 345.8L569.5 336.3L571.9 326.8L571.9 326.8L578 317.2L582.6 312L593.3 307.7L593.3 307.7L593.3 307.7L604 308.4L614.7 311.1L625.4 315L628.6 317.2L630.8 326.8L625.4 332.7L618.7 336.3L614.7 338.1L604.5 345.8L604 347.8L602.4 355.4L601.4 364.9L594.5 374.4L593.3 375.2L582.6 380.2L571.9 381.4ZM390 386.4L400.7 386.5L406.7 384L411.2 374.4L410.7 364.9L411.4 359.7L411.7 355.4L414 345.8L418.4 336.3L422.1 326.8L414.6 317.2L411.4 316.1L400.7 312.2L391.7 307.7L390 307.2L379.3 304.2L379.3 307.7L379.3 317.2L379.3 326.8L379.3 336.3L379.3 345.8L379.3 355.4L379.3 364.9L379.3 374.4L379.3 384L379.3 385Z"/>
<path fill="#80ff80" d="M454.2 517.5L457.2 517.5L457.5 508L455.7 498.4L454.2 494.7L451.8 488.9L444.9 479.4L443.5 477.9L433.6 469.8L432.8 469.2L422.1 464.3L411.4 461.2L408.2 460.3L404.3 450.7L407.3 441.2L410.7 431.7L411.4 429.6L415.4 422.1L422.1 413.7L424.1 412.6L432.8 408.9L443.5 403.9L444.3 403.1L452.9 393.5L454.2 392.4L464.9 384L464.9 384L475.6 374.4L475.6 374.4L482.9 364.9L486.3 360.1L497 358L507.7 364.9L507.7 364.9L512.5 374.4L516.1 384L518.4 387.9L523.1 393.5L528.1 403.1L526.6 412.6L523.8 422.1L521.6 431.7L520.4 441.2L521.6 450.7L529.1 459.2L530 460.3L539.8 466.5L544.1 469.8L550.5 475.2L556.1 479.4L561.2 484.8L568.2 488.9L571.9 491.7L582.6 497.5L584.2 498.4L589.9 508L584.1 517.5L593.3 517.5L604 517.5L614.7 517.5L621 517.5L618.7 508L614.7 498.4L614.7 498.4L604 490L601.1 488.9L593.3 487.2L582.6 485.5L571.9 482.7L566.2 479.4L561.2 476.9L551.4 469.8L550.5 469.1L539.8 460.9L538.8 460.3L531.5 450.7L530.4 441.2L532.7 431.7L538.5 422.1L539.8 420.7L550.5 416.4L561.2 414.1L571.9 412.6L582.6 412.6L593.3 413.2L604 413.4L611 412.6L614.7 412.1L625.4 408.5L636.1 404.1L636.1 403.1L636.1 393.5L636.1 385L625.4 386L614.7 388.7L604 391.9L597.7 393.5L593.3 394.4L582.6 395.9L571.9 396.4L561.2 396.2L550.5 393.6L550.3 393.5L545.4 384L543.8 374.4L543.9 364.9L547.8 355.4L550.5 351.7L553.1 345.8L556.4 336.3L558.1 326.8L558.8 317.2L557.2 307.7L550.5 301.6L540.9 298.1L539.8 298L529.1 297.5L525.4 298.1L518.4 299.8L507.7 307.1L506.6 307.7L497 313.9L486.3 314.9L475.6 311.3L471.3 307.7L464.9 301.8L461.8 298.1L455.7 288.6L454.2 288.6L443.5 288.6L442.6 288.6L432.8 297.1L429.1 298.1L422.1 300.1L411.4 300L400.7 298.4L399.5 298.1L390 296.8L379.3 294.8L379.3 298.1L379.3 304.2L390 307.2L391.7 307.7L400.7 312.2L411.4 316.1L414.6 317.2L422.1 326.8L418.4 336.3L414 345.8L411.7 355.4L411.4 359.7L410.7 364.9L411.2 374.4L406.7 384L400.7 386.5L390 386.4L379.3 385L379.3 393.5L379.3 403.1L379.3 404.1L390 404.5L400.7 409.7L403 412.6L404.1 422.1L403 431.7L400.7 441.2L400.7 441.2L395 450.7L390 458.8L379.3 458.4L379.3 460.3L379.3 463.2L390 462.5L400.7 464.3L411.4 465.7L422.1 468L426.1 469.8L432.8 473.2L440.2 479.4L443.5 483.4L447.6 488.9L451.5 498.4L452.9 508L448.3 517.5ZM430.7 384L429 374.4L428.8 364.9L431.8 355.4L432.8 353.8L443.5 345.8L443.5 345.8L454.2 343.8L460.5 345.8L464.9 347.7L468.9 355.4L468.1 364.9L464.9 371.3L463.4 374.4L454.2 383.3L453.1 384L443.5 391.7L432.8 391.3ZM529.1 345.8L518.4 343.4L509.6 336.3L507.7 326.8L511.7 317.2L518.4 310.1L522.4 307.7L529.1 305.3L539.8 307.5L540 307.7L546.6 317.2L547.3 326.8L544.2 336.3L539.8 342L529.1 345.8L529.1 345.8ZM636.1 463.2L636.1 460.3L636.1 458.4L633.3 460.3ZM625.4 300.9L636.1 304.2L636.1 298.1L636.1 294.8L625.4 289L624.7 288.6L614.7 288.6L604 288.6L593.3 288.6L586.9 288.6L593.3 291.4L604 293.9L614.7 297.3L616.9 298.1Z"/>
<path fill="#cfff30" d="M379.3 514.2L379.3 517.5L383.6 517.5ZM443.5 517.5L448.3 517.5L452.9 508L451.5 498.4L447.6 488.9L443.5 483.4L440.2 479.4L432.8 473.2L426.1 469.8L422.1 468L411.4 465.7L400.7 464.3L390 462.5L379.3 463.2L379.3 469.8L379.3 479.4L379.3 481.8L382.6 479.4L390 477.1L400.7 471.9L411.4 470.2L422.1 471.7L432.8 477.2L435.4 479.4L443.3 488.9L443.5 489.2L447.3 498.4L447.8 508L443.5 513.9L434.4 517.5ZM625.4 517.5L636.1 517.5L636.1 514.2L633.9 508L631.8 498.4L631.6 488.9L636.1 481.8L636.1 479.4L636.1 469.8L636.1 463.2L633.3 460.3L636.1 458.4L636.1 450.7L636.1 442.6L625.4 443.8L614.7 446.4L610.4 450.7L604 457.3L602.7 460.3L594.9 469.8L593.3 470.7L582.6 475L571.9 474.5L561.2 470.1L560.8 469.8L550.5 462L548.1 460.3L542.7 450.7L545.4 441.2L550.5 436L561.2 433.4L571.9 433.4L582.6 434.4L593.3 436.1L604 437.5L614.7 437.4L625.4 434L627.1 431.7L636.1 426.4L636.1 422.1L636.1 412.6L636.1 404.1L625.4 408.5L614.7 412.1L611 412.6L604 413.4L593.3 413.2L582.6 412.6L571.9 412.6L561.2 414.1L550.5 416.4L539.8 420.7L538.5 422.1L532.7 431.7L530.4 441.2L531.5 450.7L538.8 460.3L539.8 460.9L550.5 469.1L551.4 469.8L561.2 476.9L566.2 479.4L571.9 482.7L582.6 485.5L593.3 487.2L601.1 488.9L604 490L614.7 498.4L614.7 498.4L618.7 508L621 517.5ZM390 458.8L395 450.7L400.7 441.2L400.7 441.2L403 431.7L404.1 422.1L403 412.6L400.7 409.7L390 404.5L379.3 404.1L379.3 412.6L379.3 422.1L379.3 426.4L390 424.9L392.8 431.7L391.4 441.2L390 443.3L379.3 442.6L379.3 450.7L379.3 458.4ZM432.8 391.3L443.5 391.7L453.1 384L454.2 383.3L463.4 374.4L464.9 371.3L468.1 364.9L468.9 355.4L464.9 347.7L460.5 345.8L454.2 343.8L443.5 345.8L443.5 345.8L432.8 353.8L431.8 355.4L428.8 364.9L429 374.4L430.7 384ZM441 374.4L441.9 364.9L443.5 362.8L451.2 364.9L449 374.4L443.5 377.3ZM529.1 345.8L529.1 345.8L539.8 342L544.2 336.3L547.3 326.8L546.6 317.2L540 307.7L539.8 307.5L529.1 305.3L522.4 307.7L518.4 310.1L511.7 317.2L507.7 326.8L509.6 336.3L518.4 343.4L529.1 345.8ZM524.3 326.8L527.9 317.2L529.1 316.5L530.5 317.2L533.5 326.8L529.1 330.5ZM400.7 298.4L411.4 300L422.1 300.1L429.1 298.1L432.8 297.1L442.6 288.6L432.8 288.6L422.1 288.6L422.1 288.6L411.4 291.1L400.7 291.4L390 290.4L382.1 288.6L379.3 288.6L379.3 294.8L390 296.8L399.5 298.1ZM625.4 289L636.1 294.8L636.1 288.6L625.4 288.6L624.7 288.6Z"/>
<path fill="#ffef00" d="M390 517.5L400.7 517.5L411.4 517.5L422.1 517.5L432.8 517.5L434.4 517.5L443.5 513.9L447.8 508L447.3 498.4L443.5 489.2L443.3 488.9L435.4 479.4L432.8 477.2L422.1 471.7L411.4 470.2L400.7 471.9L390 477.1L382.6 479.4L379.3 481.8L379.3 488.9L379.3 498.4L379.3 508L379.3 514.2L383.6 517.5ZM385.6 508L384.1 498.4L387.6 488.9L390 486.9L398.5 479.4L400.7 478.1L411.4 474.7L422.1 475.5L429.4 479.4L432.8 482.8L437.5 488.9L442.5 498.4L439.2 508L432.8 510L422.5 508L422.1 507.9L421.7 508L411.4 510.6L400.7 512.7L390 511.8ZM636.1 514.2L636.1 508L636.1 498.4L636.1 488.9L636.1 481.8L631.6 488.9L631.8 498.4L633.9 508ZM561.2 470.1L571.9 474.5L582.6 475L593.3 470.7L594.9 469.8L602.7 460.3L604 457.3L610.4 450.7L614.7 446.4L625.4 443.8L636.1 442.6L636.1 441.2L636.1 431.7L636.1 426.4L627.1 431.7L625.4 434L614.7 437.4L604 437.5L593.3 436.1L582.6 434.4L571.9 433.4L561.2 433.4L550.5 436L545.4 441.2L542.7 450.7L548.1 460.3L550.5 462L560.8 469.8ZM560.7 460.3L560 450.7L561.2 449.9L571.9 448.7L576.9 450.7L581.7 460.3L571.9 464.3L561.2 460.7ZM390 443.3L391.4 441.2L392.8 431.7L390 424.9L379.3 426.4L379.3 431.7L379.3 441.2L379.3 442.6ZM443.5 377.3L449 374.4L451.2 364.9L443.5 362.8L441.9 364.9L441 374.4ZM529.1 330.5L533.5 326.8L530.5 317.2L529.1 316.5L527.9 317.2L524.3 326.8ZM390 290.4L400.7 291.4L411.4 291.1L422.1 288.6L422.1 288.6L422.1 288.6L411.4 288.6L400.7 288.6L390 288.6L382.1 288.6Z"/>
<path fill="#ff9f00" d="M390 511.8L400.7 512.7L411.4 510.6L421.7 508L422.1 507.9L422.5 508L432.8 510L439.2 508L442.5 498.4L437.5 488.9L432.8 482.8L429.4 479.4L422.1 475.5L411.4 474.7L400.7 478.1L398.5 479.4L390 486.9L387.6 488.9L384.1 498.4L385.6 508ZM394.4 498.4L399.1 488.9L400.7 487.5L410.7 479.4L411.4 479.1L422.1 479.4L422.1 479.4L430.6 488.9L428.5 498.4L422.1 499.3L411.4 500.9L400.7 503.1ZM561.2 460.7L571.9 464.3L581.7 460.3L576.9 450.7L571.9 448.7L561.2 449.9L560 450.7L560.7 460.3Z"/>
<path fill="#ff7000" d="M400.7 503.1L411.4 500.9L422.1 499.3L428.5 498.4L430.6 488.9L422.1 479.4L422.1 479.4L411.4 479.1L410.7 479.4L400.7 487.5L399.1 488.9L394.4 498.4Z"/>
<path fill="none" stroke="#000" stroke-width="0.75" stroke-linejoin="round" d="M518.4 501.8L513 498.4L507.7 490.4L497 489.6L488 488.9L486.3 488.2L483.2 479.4L486.3 478.3L491.9 479.4L497 485.8L507.7 488.1L518.4 486L526.6 488.9L529.1 498.4L529.1 498.4L529.1 498.4L518.4 501.8M464.9 461.2L464 460.3L464.9 454.4L465.7 460.3ZM495.2 517.5L497 511.7L498.9 508L497 506.6L486.3 500.9L482 498.4L475.6 494.4L472.6 488.9L468 479.4L464.9 475.9L459.7 469.8L454.2 464.6L450.3 460.3L449.3 450.7L454.2 442.9L456 441.2L464.9 432.4L475.6 434.1L479.5 441.2L478.8 450.7L478.9 460.3L486.3 468.2L490 469.8L497 472.2L507.7 475.1L518.4 476.8L527.2 479.4L529.1 480.3L536.1 488.9L537.2 498.4L531.9 508L529.1 510.1L518.4 515.4L514.5 517.5M482.4 517.5L477.2 508L475.6 507L470.2 498.4L465.2 488.9L464.9 488.3L460.7 479.4L454.2 472.6L451.4 469.8L443.5 461.6L441.6 460.3L435.3 450.7L441.2 441.2L443.5 438.8L447.8 431.7L454.2 423.4L455.5 422.1L463.3 412.6L464.9 410.5L475.6 408.3L479.9 412.6L486.3 422.1L486.3 422.1L491.3 431.7L491.7 441.2L488.4 450.7L489.2 460.3L497 464.5L507.7 468L513.6 469.8L518.4 471L529.1 474.9L535.8 479.4L539.8 484.3L542.8 488.9L544.4 498.4L541.4 508L539.8 509.7L529.1 517.5M490.8 288.6L486.3 290.3L482.3 288.6M473 517.5L467.7 508L464.9 503L463.7 498.4L460.6 488.9L454.6 479.4L454.2 478.9L445.3 469.8L443.5 468L432.8 460.6L432.1 460.3L422.1 452.1L420.7 450.7L422.1 441.2L422.1 441.2L431 431.7L432.8 430L442 422.1L443.5 421.2L452.4 412.6L454.2 410.7L460.7 403.1L464.9 399.1L475.6 395.4L486.3 397.5L493.2 403.1L497 408.4L499.4 412.6L502.4 422.1L503 431.7L501.9 441.2L499.8 450.7L505.8 460.3L507.7 461L518.4 465.3L528.6 469.8L529.1 470L539.8 477L542.6 479.4L548.8 488.9L550.5 495.9L551.6 498.4L550.5 506.4L550.3 508L542.6 517.5M502.8 288.6L497 293.3L486.3 296L475.6 291.8L472 288.6M464.9 517.5L464.9 517.5L461.9 508L459.7 498.4L456.1 488.9L454.2 485.9L449.7 479.4L443.5 473.2L439.4 469.8L432.8 464.9L422.1 460.6L420.9 460.3L412.1 450.7L414.3 441.2L419 431.7L422.1 427.1L427.7 422.1L432.8 418.7L443 412.6L443.5 412.3L452.4 403.1L454.2 401.1L462.2 393.5L464.9 391.3L475.6 386.3L483.3 384L486.3 382.1L495.5 384L497 384.4L504.7 393.5L507.7 397.7L510.8 403.1L513.5 412.6L513.6 422.1L512.5 431.7L511.3 441.2L511.5 450.7L518.4 458.7L519.8 460.3L529.1 464.9L536.6 469.8L539.8 471.9L548.7 479.4L550.5 482.2L556.7 488.9L561.2 496.4L564.1 498.4L570.5 508L562 517.5M550.5 288.6L550.5 288.6L539.8 290.7L529.1 291.2L518.4 290.8L507.7 294.8L503.3 298.1L497 302L486.3 303.4L475.6 298.4L475.4 298.1L464.9 288.6M571.9 381.4L562.9 374.4L562.1 364.9L564.6 355.4L567.2 345.8L569.5 336.3L571.9 326.8L571.9 326.8L578 317.2L582.6 312L593.3 307.7L593.3 307.7L593.3 307.7L604 308.4L614.7 311.1L625.4 315L628.6 317.2L630.8 326.8L625.4 332.7L618.7 336.3L614.7 338.1L604.5 345.8L604 347.8L602.4 355.4L601.4 364.9L594.5 374.4L593.3 375.2L582.6 380.2ZM457.2 517.5L457.5 508L455.7 498.4L454.2 494.7L451.8 488.9L444.9 479.4L443.5 477.9L433.6 469.8L432.8 469.2L422.1 464.3L411.4 461.2L408.2 460.3L404.3 450.7L407.3 441.2L410.7 431.7L411.4 429.6L415.4 422.1L422.1 413.7L424.1 412.6L432.8 408.9L443.5 403.9L444.3 403.1L452.9 393.5L454.2 392.4L464.9 384L464.9 384L475.6 374.4L475.6 374.4L482.9 364.9L486.3 360.1L497 358L507.7 364.9L507.7 364.9L512.5 374.4L516.1 384L518.4 387.9L523.1 393.5L528.1 403.1L526.6 412.6L523.8 422.1L521.6 431.7L520.4 441.2L521.6 450.7L529.1 459.2L530 460.3L539.8 466.5L544.1 469.8L550.5 475.2L556.1 479.4L561.2 484.8L568.2 488.9L571.9 491.7L582.6 497.5L584.2 498.4L589.9 508L584.1 517.5M636.1 385L625.4 386L614.7 388.7L604 391.9L597.7 393.5L593.3 394.4L582.6 395.9L571.9 396.4L561.2 396.2L550.5 393.6L550.3 393.5L545.4 384L543.8 374.4L543.9 364.9L547.8 355.4L550.5 351.7L553.1 345.8L556.4 336.3L558.1 326.8L558.8 317.2L557.2 307.7L550.5 301.6L540.9 298.1L539.8 298L529.1 297.5L525.4 298.1L518.4 299.8L507.7 307.1L506.6 307.7L497 313.9L486.3 314.9L475.6 311.3L471.3 307.7L464.9 301.8L461.8 298.1L455.7 288.6M379.3 304.2L390 307.2L391.7 307.7L400.7 312.2L411.4 316.1L414.6 317.2L422.1 326.8L418.4 336.3L414 345.8L411.7 355.4L411.4 359.7L410.7 364.9L411.2 374.4L406.7 384L400.7 386.5L390 386.4L379.3 385M586.9 288.6L593.3 291.4L604 293.9L614.7 297.3L616.9 298.1L625.4 300.9L636.1 304.2M448.3 517.5L452.9 508L451.5 498.4L447.6 488.9L443.5 483.4L440.2 479.4L432.8 473.2L426.1 469.8L422.1 468L411.4 465.7L400.7 464.3L390 462.5L379.3 463.2M636.1 463.2L633.3 460.3L636.1 458.4M379.3 458.4L390 458.8L395 450.7L400.7 441.2L400.7 441.2L403 431.7L404.1 422.1L403 412.6L400.7 409.7L390 404.5L379.3 404.1M636.1 404.1L625.4 408.5L614.7 412.1L611 412.6L604 413.4L593.3 413.2L582.6 412.6L571.9 412.6L561.2 414.1L550.5 416.4L539.8 420.7L538.5 422.1L532.7 431.7L530.4 441.2L531.5 450.7L538.8 460.3L539.8 460.9L550.5 469.1L551.4 469.8L561.2 476.9L566.2 479.4L571.9 482.7L582.6 485.5L593.3 487.2L601.1 488.9L604 490L614.7 498.4L614.7 498.4L618.7 508L621 517.5M379.3 294.8L390 296.8L399.5 298.1L400.7 298.4L411.4 300L422.1 300.1L429.1 298.1L432.8 297.1L442.6 288.6M624.7 288.6L625.4 289L636.1 294.8M432.8 391.3L443.5 391.7L453.1 384L454.2 383.3L463.4 374.4L464.9 371.3L468.1 364.9L468.9 355.4L464.9 347.7L460.5 345.8L454.2 343.8L443.5 345.8L443.5 345.8L432.8 353.8L431.8 355.4L428.8 364.9L429 374.4L430.7 384ZM529.1 345.8L529.1 345.8L539.8 342L544.2 336.3L547.3 326.8L546.6 317.2L540 307.7L539.8 307.5L529.1 305.3L522.4 307.7L518.4 310.1L511.7 317.2L507.7 326.8L509.6 336.3L518.4 343.4L529.1 345.8ZM379.3 514.2L383.6 517.5M434.4 517.5L443.5 513.9L447.8 508L447.3 498.4L443.5 489.2L443.3 488.9L435.4 479.4L432.8 477.2L422.1 471.7L411.4 470.2L400.7 471.9L390 477.1L382.6 479.4L379.3 481.8M636.1 481.8L631.6 488.9L631.8 498.4L633.9 508L636.1 514.2M379.3 442.6L390 443.3L391.4 441.2L392.8 431.7L390 424.9L379.3 426.4M636.1 426.4L627.1 431.7L625.4 434L614.7 437.4L604 437.5L593.3 436.1L582.6 434.4L571.9 433.4L561.2 433.4L550.5 436L545.4 441.2L542.7 450.7L548.1 460.3L550.5 462L560.8 469.8L561.2 470.1L571.9 474.5L582.6 475L593.3 470.7L594.9 469.8L602.7 460.3L604 457.3L610.4 450.7L614.7 446.4L625.4 443.8L636.1 442.6M382.1 288.6L390 290.4L400.7 291.4L411.4 291.1L422.1 288.6L422.1 288.6M443.5 377.3L449 374.4L451.2 364.9L443.5 362.8L441.9 364.9L441 374.4ZM529.1 330.5L533.5 326.8L530.5 317.2L529.1 316.5L527.9 317.2L524.3 326.8ZM390 511.8L400.7 512.7L411.4 510.6L421.7 508L422.1 507.9L422.5 508L432.8 510L439.2 508L442.5 498.4L437.5 488.9L432.8 482.8L429.4 479.4L422.1 475.5L411.4 474.7L400.7 478.1L398.5 479.4L390 486.9L387.6 488.9L384.1 498.4L385.6 508ZM561.2 460.7L571.9 464.3L581.7 460.3L576.9 450.7L571.9 448.7L561.2 449.9L560 450.7L560.7 460.3ZM400.7 503.1L411.4 500.9L422.1 499.3L428.5 498.4L430.6 488.9L422.1 479.4L422.1 479.4L411.4 479.1L410.7 479.4L400.7 487.5L399.1 488.9L394.4 498.4Z"/>
</g>
<path fill="none" stroke="#000" stroke-width="0.8" d="M379.3 288.6v2.5M379.3 517.5v-2.5M379.3 517.5h2.5M636.1 517.5h-2.5M400.7 288.6v2.5M400.7 517.5v-2.5M379.3 498.4h2.5M636.1 498.4h-2.5M422.1 288.6v2.5M422.1 517.5v-2.5M379.3 479.4h2.5M636.1 479.4h-2.5M443.5 288.6v2.5M443.5 517.5v-2.5M379.3 460.3h2.5M636.1 460.3h-2.5M464.9 288.6v2.5M464.9 517.5v-2.5M379.3 441.2h2.5M636.1 441.2h-2.5M486.3 288.6v2.5M486.3 517.5v-2.5M379.3 422.1h2.5M636.1 422.1h-2.5M507.7 288.6v2.5M507.7 517.5v-2.5M379.3 403.1h2.5M636.1 403.1h-2.5M529.1 288.6v2.5M529.1 517.5v-2.5M379.3 384h2.5M636.1 384h-2.5M550.5 288.6v2.5M550.5 517.5v-2.5M379.3 364.9h2.5M636.1 364.9h-2.5M571.9 288.6v2.5M571.9 517.5v-2.5M379.3 345.8h2.5M636.1 345.8h-2.5M593.3 288.6v2.5M593.3 517.5v-2.5M379.3 326.8h2.5M636.1 326.8h-2.5M614.7 288.6v2.5M614.7 517.5v-2.5M379.3 307.7h2.5M636.1 307.7h-2.5M636.1 288.6v2.5M636.1 517.5v-2.5M379.3 288.6h2.5M636.1 288.6h-2.5"/>
<rect x="379.3" y="288.6" width="256.8" height="228.9" fill="none" stroke="#222" stroke-width="1"/>
<g font-family="Liberation Sans, sans-serif" font-size="9.75" fill="#000"><text transform="translate(377.1 521.6) scale(0.95 1)" text-anchor="end">0</text><text transform="translate(377.1 502.5) scale(0.95 1)" text-anchor="end">2</text><text transform="translate(377.1 483.5) scale(0.95 1)" text-anchor="end">4</text><text transform="translate(377.1 464.4) scale(0.95 1)" text-anchor="end">6</text><text transform="translate(377.1 445.3) scale(0.95 1)" text-anchor="end">8</text><text transform="translate(377.1 426.2) scale(0.95 1)" text-anchor="end">10</text><text transform="translate(377.1 407.2) scale(0.95 1)" text-anchor="end">12</text><text transform="translate(377.1 388.1) scale(0.95 1)" text-anchor="end">14</text><text transform="translate(377.1 369) scale(0.95 1)" text-anchor="end">16</text><text transform="translate(377.1 349.9) scale(0.95 1)" text-anchor="end">18</text><text transform="translate(377.1 330.9) scale(0.95 1)" text-anchor="end">20</text><text transform="translate(377.1 311.8) scale(0.95 1)" text-anchor="end">22</text><text transform="translate(377.1 292.7) scale(0.95 1)" text-anchor="end">24</text><text transform="translate(376.6 529) scale(0.95 1)" text-anchor="middle">−180</text><text transform="translate(398 529) scale(0.95 1)" text-anchor="middle">−150</text><text transform="translate(419.4 529) scale(0.95 1)" text-anchor="middle">−120</text><text transform="translate(440.8 529) scale(0.95 1)" text-anchor="middle">−90</text><text transform="translate(462.2 529) scale(0.95 1)" text-anchor="middle">−60</text><text transform="translate(483.6 529) scale(0.95 1)" text-anchor="middle">−30</text><text transform="translate(507.7 529) scale(0.95 1)" text-anchor="middle">0</text><text transform="translate(529.1 529) scale(0.95 1)" text-anchor="middle">30</text><text transform="translate(550.5 529) scale(0.95 1)" text-anchor="middle">60</text><text transform="translate(571.9 529) scale(0.95 1)" text-anchor="middle">90</text><text transform="translate(593.3 529) scale(0.95 1)" text-anchor="middle">120</text><text transform="translate(614.7 529) scale(0.95 1)" text-anchor="middle">150</text><text transform="translate(636.1 529) scale(0.95 1)" text-anchor="middle">180</text></g>
<text font-family="Liberation Sans, sans-serif" font-size="9.75" fill="#000" x="455.5" y="538.7" textLength="104.4" lengthAdjust="spacingAndGlyphs">Geographic longitude [°]</text>
<text font-family="Liberation Sans, sans-serif" font-size="10" fill="#000" transform="translate(361.9 398.6) rotate(-90)" text-anchor="middle">Magnetic local Time [h]</text>
<g font-family="Liberation Sans, sans-serif" font-size="9.7" fill="#000"><text x="381.6" y="281.3" textLength="119" lengthAdjust="spacingAndGlyphs">Migrating tide Vx meridional</text><text x="503.5" y="281.3" textLength="19" lengthAdjust="spacingAndGlyphs">wind</text><text x="526.5" y="281.3" textLength="32.8" lengthAdjust="spacingAndGlyphs">SH[−40</text><text x="570.5" y="281.3" textLength="31.7" lengthAdjust="spacingAndGlyphs">°~−60°]</text><text x="604.6" y="281.3" textLength="29.3" lengthAdjust="spacingAndGlyphs">400km</text></g>
<rect x="645.7" y="288.6" width="12.7" height="228.9" fill="url(#jetg)"/>
<path fill="none" stroke="#000" stroke-width="0.8" d="M645.7 517.5h2M658.4 517.5h-2M645.7 494.6h2M658.4 494.6h-2M645.7 471.7h2M658.4 471.7h-2M645.7 448.8h2M658.4 448.8h-2M645.7 425.9h2M658.4 425.9h-2M645.7 403.1h2M658.4 403.1h-2M645.7 380.2h2M658.4 380.2h-2M645.7 357.3h2M658.4 357.3h-2M645.7 334.4h2M658.4 334.4h-2M645.7 311.5h2M658.4 311.5h-2M645.7 288.6h2M658.4 288.6h-2"/>
<rect x="645.7" y="288.6" width="12.7" height="228.9" fill="none" stroke="#222" stroke-width="1"/>
<g font-family="Liberation Sans, sans-serif" font-size="9.75" fill="#000"><text transform="translate(661 520.9) scale(0.95 1)">−5</text><text transform="translate(661 498) scale(0.95 1)">−4</text><text transform="translate(661 475.1) scale(0.95 1)">−3</text><text transform="translate(661 452.2) scale(0.95 1)">−2</text><text transform="translate(661 429.3) scale(0.95 1)">−1</text><text transform="translate(661 406.4) scale(0.95 1)">0</text><text transform="translate(661 383.6) scale(0.95 1)">1</text><text transform="translate(661 360.7) scale(0.95 1)">2</text><text transform="translate(661 337.8) scale(0.95 1)">3</text><text transform="translate(661 314.9) scale(0.95 1)">4</text><text transform="translate(661 292) scale(0.95 1)">5</text></g>
<text font-family="Liberation Sans, sans-serif" font-size="10" fill="#000" transform="translate(682.1 407.1) rotate(-90)" text-anchor="middle">Δ Vx [ m/s ]</text>
<clipPath id="cp4"><rect x="26.5" y="565.1" width="256.8" height="228.8"/></clipPath>
<g clip-path="url(#cp4)">
<rect x="26.5" y="565.1" width="256.8" height="228.8" fill="#8fff70"/>
<path fill="#0040ff" d="M101.4 784.5L101.5 784.4L104.4 774.8L101.4 768.1L95.9 774.8L101.2 784.4ZM122.8 743.2L133.5 739.9L144.2 737.5L146 736.7L144.2 734L135.6 727.2L133.5 726.5L122.8 726.1L120.9 727.2L114.2 736.7Z"/>
<path fill="#0070ff" d="M90.7 785.4L101.4 789.3L108.7 784.4L111.4 774.8L112.1 766L112.1 765.3L113.5 755.8L122.8 749.2L129.5 746.2L133.5 744.5L144.2 741.4L154.1 736.7L147.7 727.2L144.2 725.2L133.5 721.6L122.8 720.8L112.1 726.8L111.9 727.2L109 736.7L108.3 746.2L106.7 755.8L101.4 757.6L93.8 765.3L90.7 768.7L88.2 774.8L89.6 784.4ZM101.2 784.4L95.9 774.8L101.4 768.1L104.4 774.8L101.5 784.4L101.4 784.5ZM114.2 736.7L120.9 727.2L122.8 726.1L133.5 726.5L135.6 727.2L144.2 734L146 736.7L144.2 737.5L133.5 739.9L122.8 743.2Z"/>
<path fill="#00afff" d="M90.7 789.6L100.8 793.9L101.4 793.9L102.5 793.9L112.1 789.2L113.6 784.4L114.8 774.8L115.9 765.3L120.4 755.8L122.8 754.1L133.5 748.1L141.1 746.2L144.2 745.2L154.9 740.5L158.7 736.7L155.3 727.2L154.9 726.8L144.2 720.9L135.7 717.6L133.5 716.5L122.8 715.8L118 717.6L112.1 720.7L107.9 727.2L105.1 736.7L102.4 746.2L101.4 747.9L96.6 755.8L90.7 761.5L87.8 765.3L84 774.8L85.1 784.4ZM89.6 784.4L88.2 774.8L90.7 768.7L93.8 765.3L101.4 757.6L106.7 755.8L108.3 746.2L109 736.7L111.9 727.2L112.1 726.8L122.8 720.8L133.5 721.6L144.2 725.2L147.7 727.2L154.1 736.7L144.2 741.4L133.5 744.5L129.5 746.2L122.8 749.2L113.5 755.8L112.1 765.3L112.1 766L111.4 774.8L108.7 784.4L101.4 789.3L90.7 785.4Z"/>
<path fill="#00dfff" d="M90.7 793.9L100.8 793.9L90.7 789.6L85.1 784.4L84 774.8L87.8 765.3L90.7 761.5L96.6 755.8L101.4 747.9L102.4 746.2L105.1 736.7L107.9 727.2L112.1 720.7L118 717.6L122.8 715.8L133.5 716.5L135.7 717.6L144.2 720.9L154.9 726.8L155.3 727.2L158.7 736.7L154.9 740.5L144.2 745.2L141.1 746.2L133.5 748.1L122.8 754.1L120.4 755.8L115.9 765.3L114.8 774.8L113.6 784.4L112.1 789.2L102.5 793.9L112.1 793.9L114.1 793.9L116.6 784.4L117.7 774.8L119.7 765.3L122.8 760L126 755.8L133.5 751.2L144.2 748.2L151.5 746.2L154.9 744.8L162.9 736.7L160.4 727.2L154.9 722.2L146.3 717.6L144.2 716.1L133.5 710.9L122.8 711.1L112.1 715.3L109.5 717.6L103.9 727.2L101.4 736.2L101.3 736.7L98 746.2L90.7 755.8L90.7 755.8L83.3 765.3L80 774.3L79.8 774.8L80 776.9L80.6 784.4L90.7 793.9ZM261.9 717.6L261.9 717.6L267.6 708.1L268.6 698.6L265.5 689L261.9 685.4L252.3 689L251.2 691.1L250.5 698.6L250.7 708.1L251.2 710.1L261.9 717.6ZM90.7 651.9L100.3 650.9L101.4 650.6L112.1 643.1L116.2 641.4L122.8 637.8L131.3 631.8L130.4 622.3L122.8 615.2L116.5 612.8L112.1 611.4L104 612.8L101.4 613.4L93.7 622.3L90.7 625.2L84.9 631.8L80.4 641.4L87.1 650.9ZM240.5 576.3L251.2 576.6L254.1 574.6L261.9 565.1L261.9 565.1L261.9 565.1L251.2 565.1L240.5 565.1L235.2 565.1L238.5 574.6ZM90.7 565.1L101.4 565.6L102.1 565.1L101.4 565.1L90.7 565.1L90.7 565.1Z"/>
<path fill="#20ffdf" d="M80 790L84 793.9L90.7 793.9L80.6 784.4L80 776.9L79.8 774.8L80 774.3L83.3 765.3L90.7 755.8L90.7 755.8L98 746.2L101.3 736.7L101.4 736.2L103.9 727.2L109.5 717.6L112.1 715.3L122.8 711.1L133.5 710.9L144.2 716.1L146.3 717.6L154.9 722.2L160.4 727.2L162.9 736.7L154.9 744.8L151.5 746.2L144.2 748.2L133.5 751.2L126 755.8L122.8 760L119.7 765.3L117.7 774.8L116.6 784.4L114.1 793.9L118.1 793.9L119.5 784.4L120.7 774.8L122.8 767.1L123.4 765.3L131 755.8L133.5 754.2L144.2 750.8L154.9 748.2L159 746.2L165.6 739.1L167 736.7L165.6 727.9L165.5 727.2L154.9 717.6L154.9 717.6L144.2 709.5L141 708.1L133.5 704.7L122.8 706.3L118.6 708.1L112.1 710.7L104.2 717.6L101.4 723.2L100 727.2L97.9 736.7L93.9 746.2L90.7 750.5L85.9 755.8L80 763.6L78.7 765.3L75.4 774.8L76 784.4ZM240.5 793.9L251.2 793.9L261.9 793.9L263.8 793.9L262.7 784.4L261.9 774.8L261.9 774.8L251.2 767.5L240.5 772L238.5 774.8L234.5 784.4L237.1 793.9ZM29 765.3L28.8 755.8L26.5 753L26.5 755.8L26.5 765.3L26.5 766.5ZM283.3 766.5L283.3 765.3L283.3 755.8L283.3 753L276.4 755.8L279.2 765.3ZM251.2 734.8L261.9 730.9L265.4 727.2L272.6 720.9L274.3 717.6L277 708.1L278.8 698.6L280.5 689L280.1 679.5L272.6 671.4L270.3 670L261.9 665.9L251.6 660.4L251.2 660.3L240.5 657.4L229.8 656.7L219.1 658L211.4 660.4L208.4 667.1L207.6 670L208.4 670.7L219.1 677.3L221.9 679.5L229.8 685L233.1 689L237.3 698.6L239.2 708.1L240.5 717.6L240.5 717.6L244 727.2ZM261.9 717.6L251.2 710.1L250.7 708.1L250.5 698.6L251.2 691.1L252.3 689L261.9 685.4L265.5 689L268.6 698.6L267.6 708.1L261.9 717.6L261.9 717.6ZM80 661.6L90.7 661.8L101.4 660.5L101.6 660.4L112.1 655.6L120.6 650.9L122.8 649.5L133.5 644.3L139 641.4L144.2 636.2L148.7 631.8L154.9 622.3L154.9 622.3L154.9 622.3L152.9 612.8L144.2 605.1L141.9 603.2L133.5 596.2L130.7 593.7L125.4 584.2L123.7 574.6L122.8 568.2L122.1 565.1L112.1 565.1L102.1 565.1L101.4 565.6L90.7 565.1L90.7 565.1L80.8 565.1L90.7 573.9L92.7 574.6L96.9 584.2L91.1 593.7L90.7 594L83.9 603.2L80 609.6L78.1 612.8L71.2 622.3L69.3 625.8L66.9 631.8L64.7 641.4L63 650.9L69.3 659.1L72.1 660.4ZM87.1 650.9L80.4 641.4L84.9 631.8L90.7 625.2L93.7 622.3L101.4 613.4L104 612.8L112.1 611.4L116.5 612.8L122.8 615.2L130.4 622.3L131.3 631.8L122.8 637.8L116.2 641.4L112.1 643.1L101.4 650.6L100.3 650.9L90.7 651.9ZM229.8 584.2L240.5 589.6L251.2 589.1L261.9 584.2L261.9 584.2L269.4 574.6L272.6 569.2L274.2 565.1L272.6 565.1L261.9 565.1L261.9 565.1L254.1 574.6L251.2 576.6L240.5 576.3L238.5 574.6L235.2 565.1L229.8 565.1L219.1 565.1L219.1 565.1L219.1 565.1L223.2 574.6L229.8 584.2Z"/>
<path fill="#50ffaf" d="M26.5 791L26.5 793.9L28.3 793.9ZM80 793.9L84 793.9L80 790L76 784.4L75.4 774.8L78.7 765.3L80 763.6L85.9 755.8L90.7 750.5L93.9 746.2L97.9 736.7L100 727.2L101.4 723.2L104.2 717.6L112.1 710.7L118.6 708.1L122.8 706.3L133.5 704.7L141 708.1L144.2 709.5L154.9 717.6L154.9 717.6L165.5 727.2L165.6 727.9L167 736.7L165.6 739.1L159 746.2L154.9 748.2L144.2 750.8L133.5 754.2L131 755.8L123.4 765.3L122.8 767.1L120.7 774.8L119.5 784.4L118.1 793.9L122.1 793.9L122.5 784.4L122.8 781.9L123.7 774.8L127 765.3L133.5 757.8L137.4 755.8L144.2 753.5L154.9 751.2L165.3 746.2L165.6 745.9L171 736.7L170.7 727.2L165.6 718.5L164.7 717.6L154.9 709.2L153.4 708.1L144.2 699.4L139.7 698.6L133.5 697.8L131.8 698.6L122.8 701.3L112.1 706L108.6 708.1L101.4 714.4L99 717.6L96.3 727.2L94.5 736.7L90.7 744.8L89.7 746.2L81 755.8L80 757.1L73.5 765.3L71.1 774.8L71.4 784.4L76.7 793.9ZM229.8 793.9L237.1 793.9L234.5 784.4L238.5 774.8L240.5 772L251.2 767.5L261.9 774.8L261.9 774.8L262.7 784.4L263.8 793.9L272.6 793.9L283.3 793.9L283.3 791L278 784.4L283.3 780.6L283.3 774.8L283.3 766.5L279.2 765.3L276.4 755.8L283.3 753L283.3 746.2L283.3 742.4L272.6 737.4L272.2 736.7L272.6 736.2L276.5 727.2L280.3 717.6L283 708.1L283.3 707.2L283.3 698.6L283.3 689L283.3 679.5L283.3 670L283.3 660.4L283.3 660.4L272.6 657.6L261.9 653.7L253.7 650.9L251.2 650.1L240.5 647.7L229.8 646.8L219.1 646.6L208.4 647.2L199.1 650.9L197.7 651.7L190.7 660.4L187.9 670L189.7 679.5L197.7 683.8L208.4 686.5L214.6 689L219.1 691L226.3 698.6L229.8 706.7L230.2 708.1L232.2 717.6L234.1 727.2L236.3 736.7L239.1 746.2L239.9 755.8L234.6 765.3L229.8 772.4L228.7 774.8L226.1 784.4L226.7 793.9ZM244 727.2L240.5 717.6L240.5 717.6L239.2 708.1L237.3 698.6L233.1 689L229.8 685L221.9 679.5L219.1 677.3L208.4 670.7L207.6 670L208.4 667.1L211.4 660.4L219.1 658L229.8 656.7L240.5 657.4L251.2 660.3L251.6 660.4L261.9 665.9L270.3 670L272.6 671.4L280.1 679.5L280.5 689L278.8 698.6L277 708.1L274.3 717.6L272.6 720.9L265.4 727.2L261.9 730.9L251.2 734.8ZM37.2 779.7L41.4 774.8L44 765.3L37.9 755.8L37.2 755.3L28.5 746.2L26.5 742.4L26.5 746.2L26.5 753L28.8 755.8L29 765.3L26.5 766.5L26.5 774.8L26.5 780.6ZM30.3 698.6L35.1 689L37.2 685.8L45.6 679.5L47.9 677.4L58.6 672.5L69.3 670.6L76 670L80 669.7L90.7 668.4L101.4 666.2L112.1 663L117.3 660.4L122.8 657L133.5 651.7L135.3 650.9L144.2 646.4L152.3 641.4L154.9 638.9L163.6 631.8L165.6 629.2L172.3 622.3L175.2 612.8L172.3 603.2L165.6 599.4L154.9 594.9L153.2 593.7L144.2 588.2L140.5 584.2L135.2 574.6L133.5 565.1L133.5 565.1L122.8 565.1L122.1 565.1L122.8 568.2L123.7 574.6L125.4 584.2L130.7 593.7L133.5 596.2L141.9 603.2L144.2 605.1L152.9 612.8L154.9 622.3L154.9 622.3L154.9 622.3L148.7 631.8L144.2 636.2L139 641.4L133.5 644.3L122.8 649.5L120.6 650.9L112.1 655.6L101.6 660.4L101.4 660.5L90.7 661.8L80 661.6L72.1 660.4L69.3 659.1L63 650.9L64.7 641.4L66.9 631.8L69.3 625.8L71.2 622.3L78.1 612.8L80 609.6L83.9 603.2L90.7 594L91.1 593.7L96.9 584.2L92.7 574.6L90.7 573.9L80.8 565.1L80 565.1L71.9 565.1L73.7 574.6L74.7 584.2L72.2 593.7L69.3 600.9L68.2 603.2L61.2 612.8L58.6 616.7L55.5 622.3L52.5 631.8L48.7 641.4L47.9 642.8L40.9 650.9L37.2 654.5L26.5 660.4L26.5 660.4L26.5 670L26.5 679.5L26.5 689L26.5 698.6L26.5 707.2ZM229.8 598.1L240.5 600.1L251.2 599.5L261.9 596.8L268 593.7L272.6 589.8L276.1 584.2L278.9 574.6L281.8 565.1L274.2 565.1L272.6 569.2L269.4 574.6L261.9 584.2L261.9 584.2L251.2 589.1L240.5 589.6L229.8 584.2L229.8 584.2L223.2 574.6L219.1 565.1L219.1 565.1L210 565.1L210.4 574.6L213.2 584.2L219.1 591.4L221.5 593.7Z"/>
<path fill="#8fff70" d="M37.2 793.9L46.1 793.9L47.9 788.1L49.9 784.4L57.1 774.8L56 765.3L47.9 758.1L46.2 755.8L37.2 750L33.5 746.2L28.2 736.7L27.5 727.2L31.6 717.6L37.1 708.1L37.2 707.8L42.2 698.6L47.9 693.4L55 689L58.6 687L69.3 681.2L72.8 679.5L80 677.8L90.7 675.3L101.4 672.1L107.6 670L112.1 668.6L122.8 664.1L129.6 660.4L133.5 658.4L144.2 655.1L154.8 650.9L154.9 650.8L165.6 647.2L176.3 650.4L176.4 650.9L176.3 651.4L173.6 660.4L168 670L165.6 672.8L158.3 679.5L154.9 682.4L144.2 687.4L140.5 689L133.5 690.7L122.8 695.5L117.6 698.6L112.1 701L101.4 707.4L100.4 708.1L93.8 717.6L92.6 727.2L91 736.7L90.7 737.4L84.7 746.2L80 751.4L74.7 755.8L69.3 763.5L64.1 765.3L59.9 774.8L62.1 784.4L66.9 793.9L69.3 793.9L76.7 793.9L71.4 784.4L71.1 774.8L73.5 765.3L80 757.1L81 755.8L89.7 746.2L90.7 744.8L94.5 736.7L96.3 727.2L99 717.6L101.4 714.4L108.6 708.1L112.1 706L122.8 701.3L131.8 698.6L133.5 697.8L139.7 698.6L144.2 699.4L153.4 708.1L154.9 709.2L164.7 717.6L165.6 718.5L170.7 727.2L171 736.7L165.6 745.9L165.3 746.2L154.9 751.2L144.2 753.5L137.4 755.8L133.5 757.8L127 765.3L123.7 774.8L122.8 781.9L122.5 784.4L122.1 793.9L122.8 793.9L126.1 793.9L125.8 784.4L127 774.8L130.6 765.3L133.5 762L144.2 756.2L146.5 755.8L154.9 754.3L165.6 751L171.1 746.2L175.1 736.7L175.9 727.2L176.3 717.6L176.3 717.6L180.6 708.1L187 702.1L193.5 698.6L197.7 697.3L208.4 697.9L209.9 698.6L219.1 706L220.2 708.1L223.5 717.6L226.1 727.2L228 736.7L229.2 746.2L228.6 755.8L225.1 765.3L221.3 774.8L219.1 783.5L218.8 784.4L218.1 793.9L219.1 793.9L226.7 793.9L226.1 784.4L228.7 774.8L229.8 772.4L234.6 765.3L239.9 755.8L239.1 746.2L236.3 736.7L234.1 727.2L232.2 717.6L230.2 708.1L229.8 706.7L226.3 698.6L219.1 691L214.6 689L208.4 686.5L197.7 683.8L189.7 679.5L187.9 670L190.7 660.4L197.7 651.7L199.1 650.9L208.4 647.2L219.1 646.6L229.8 646.8L240.5 647.7L251.2 650.1L253.7 650.9L261.9 653.7L272.6 657.6L283.3 660.4L283.3 650.9L283.3 641.4L283.3 641.4L283.3 641.4L272.6 642.5L261.9 641.4L261.9 641.4L251.2 638.7L240.5 636.7L229.8 634.9L219.1 632.1L218.6 631.8L215.8 622.3L219.1 618L229.8 613.3L234.7 612.8L240.5 612.5L251.2 612L261.9 611.5L272.6 611.4L282.3 612.8L283.3 613L283.3 612.8L283.3 603.2L283.3 593.7L283.3 584.2L283.3 574.6L283.3 565.1L281.8 565.1L278.9 574.6L276.1 584.2L272.6 589.8L268 593.7L261.9 596.8L251.2 599.5L240.5 600.1L229.8 598.1L221.5 593.7L219.1 591.4L213.2 584.2L210.4 574.6L210 565.1L208.4 565.1L199.8 565.1L197.7 569.3L188.2 574.6L187 575.4L176.3 579.3L165.6 582.5L154.9 582.2L144.6 574.6L144.2 574.2L139.8 565.1L133.5 565.1L135.2 574.6L140.5 584.2L144.2 588.2L153.2 593.7L154.9 594.9L165.6 599.4L172.3 603.2L175.2 612.8L172.3 622.3L165.6 629.2L163.6 631.8L154.9 638.9L152.3 641.4L144.2 646.4L135.3 650.9L133.5 651.7L122.8 657L117.3 660.4L112.1 663L101.4 666.2L90.7 668.4L80 669.7L76 670L69.3 670.6L58.6 672.5L47.9 677.4L45.6 679.5L37.2 685.8L35.1 689L30.3 698.6L26.5 707.2L26.5 708.1L26.5 717.6L26.5 727.2L26.5 736.7L26.5 742.4L28.5 746.2L37.2 755.3L37.9 755.8L44 765.3L41.4 774.8L37.2 779.7L26.5 780.6L26.5 784.4L26.5 791L28.3 793.9ZM283.3 791L283.3 784.4L283.3 780.6L278 784.4ZM272.6 737.4L283.3 742.4L283.3 736.7L283.3 727.2L283.3 717.6L283.3 708.1L283.3 707.2L283 708.1L280.3 717.6L276.5 727.2L272.6 736.2L272.2 736.7ZM37.2 654.5L40.9 650.9L47.9 642.8L48.7 641.4L52.5 631.8L55.5 622.3L58.6 616.7L61.2 612.8L68.2 603.2L69.3 600.9L72.2 593.7L74.7 584.2L73.7 574.6L71.9 565.1L69.3 565.1L58.6 565.1L47.9 565.1L37.2 565.1L26.5 565.1L26.5 574.6L26.5 584.2L26.5 593.7L26.5 603.2L26.5 612.8L26.5 613L37.2 617.8L38.3 622.3L37.2 626.5L35.1 631.8L26.5 641.4L26.5 641.4L26.5 650.9L26.5 660.4Z"/>
<path fill="#cfff30" d="M47.9 793.9L58.6 793.9L66.9 793.9L62.1 784.4L59.9 774.8L64.1 765.3L69.3 763.5L74.7 755.8L80 751.4L84.7 746.2L90.7 737.4L91 736.7L92.6 727.2L93.8 717.6L100.4 708.1L101.4 707.4L112.1 701L117.6 698.6L122.8 695.5L133.5 690.7L140.5 689L144.2 687.4L154.9 682.4L158.3 679.5L165.6 672.8L168 670L173.6 660.4L176.3 651.4L176.4 650.9L176.3 650.4L165.6 647.2L154.9 650.8L154.8 650.9L144.2 655.1L133.5 658.4L129.6 660.4L122.8 664.1L112.1 668.6L107.6 670L101.4 672.1L90.7 675.3L80 677.8L72.8 679.5L69.3 681.2L58.6 687L55 689L47.9 693.4L42.2 698.6L37.2 707.8L37.1 708.1L31.6 717.6L27.5 727.2L28.2 736.7L33.5 746.2L37.2 750L46.2 755.8L47.9 758.1L56 765.3L57.1 774.8L49.9 784.4L47.9 788.1L46.1 793.9ZM58.3 755.8L47.9 751.7L39.4 746.2L37.2 744.4L32.4 736.7L33.2 727.2L37.2 721.4L43.6 717.6L47.9 713.5L58.6 708.5L59.9 708.1L69.3 703.2L75.1 698.6L80 693L82.9 689L90.7 684.7L98.1 679.5L101.4 678.4L112.1 675.3L122.8 672.2L129 670L133.5 668.6L139.1 670L135.5 679.5L133.5 680.6L122.8 688.8L122.6 689L112.1 694.4L104.2 698.6L101.4 699.9L90.7 708.1L90.7 708.1L86.7 717.6L87.5 727.2L86 736.7L80 745.8L79.6 746.2L69.3 754.5L59.8 755.8L58.6 756.1ZM129.1 784.4L130.2 774.8L133.5 766.8L134.6 765.3L144.2 759.5L154.9 758.7L165.6 756.2L166.3 755.8L176.3 747.6L177.1 746.2L181.2 736.7L184.6 727.2L187 722.5L193.9 717.6L197.7 714.7L208.4 715.2L210.4 717.6L217.6 727.2L219.1 730.4L220.6 736.7L221.3 746.2L220 755.8L219.1 758.3L216.9 765.3L213.1 774.8L209.4 784.4L208.5 793.9L218.1 793.9L218.8 784.4L219.1 783.5L221.3 774.8L225.1 765.3L228.6 755.8L229.2 746.2L228 736.7L226.1 727.2L223.5 717.6L220.2 708.1L219.1 706L209.9 698.6L208.4 697.9L197.7 697.3L193.5 698.6L187 702.1L180.6 708.1L176.3 717.6L176.3 717.6L175.9 727.2L175.1 736.7L171.1 746.2L165.6 751L154.9 754.3L146.5 755.8L144.2 756.2L133.5 762L130.6 765.3L127 774.8L125.8 784.4L126.1 793.9L130 793.9ZM26.5 641.4L35.1 631.8L37.2 626.5L38.3 622.3L37.2 617.8L26.5 613L26.5 622.3L26.5 631.8L26.5 641.4L26.5 641.4ZM272.6 642.5L283.3 641.4L283.3 641.4L283.3 631.8L283.3 622.3L283.3 613L282.3 612.8L272.6 611.4L261.9 611.5L251.2 612L240.5 612.5L234.7 612.8L229.8 613.3L219.1 618L215.8 622.3L218.6 631.8L219.1 632.1L229.8 634.9L240.5 636.7L251.2 638.7L261.9 641.4L261.9 641.4ZM154.9 582.2L165.6 582.5L176.3 579.3L187 575.4L188.2 574.6L197.7 569.3L199.8 565.1L197.7 565.1L187 565.1L178.8 565.1L176.3 566.3L165.6 572.2L154.9 572.8L146.7 565.1L144.2 565.1L139.8 565.1L144.2 574.2L144.6 574.6Z"/>
<path fill="#ffef00" d="M133.5 793.9L134.8 793.9L133.5 791.6L132.5 784.4L133.4 774.8L133.5 774.6L140.1 765.3L144.2 762.9L154.9 764.5L163.2 765.3L165.6 767L169.7 765.3L176.3 764L180.8 755.8L184.8 746.2L187 740.5L191 736.7L197.7 731.9L208.4 735L209.4 736.7L212.1 746.2L211.7 755.8L208.8 765.3L208.4 766.3L201.9 774.8L197.7 781.3L194.3 784.4L192.9 793.9L197.7 793.9L208.4 793.9L208.5 793.9L209.4 784.4L213.1 774.8L216.9 765.3L219.1 758.3L220 755.8L221.3 746.2L220.6 736.7L219.1 730.4L217.6 727.2L210.4 717.6L208.4 715.2L197.7 714.7L193.9 717.6L187 722.5L184.6 727.2L181.2 736.7L177.1 746.2L176.3 747.6L166.3 755.8L165.6 756.2L154.9 758.7L144.2 759.5L134.6 765.3L133.5 766.8L130.2 774.8L129.1 784.4L130 793.9ZM58.6 756.1L59.8 755.8L69.3 754.5L79.6 746.2L80 745.8L86 736.7L87.5 727.2L86.7 717.6L90.7 708.1L90.7 708.1L101.4 699.9L104.2 698.6L112.1 694.4L122.6 689L122.8 688.8L133.5 680.6L135.5 679.5L139.1 670L133.5 668.6L129 670L122.8 672.2L112.1 675.3L101.4 678.4L98.1 679.5L90.7 684.7L82.9 689L80 693L75.1 698.6L69.3 703.2L59.9 708.1L58.6 708.5L47.9 713.5L43.6 717.6L37.2 721.4L33.2 727.2L32.4 736.7L37.2 744.4L39.4 746.2L47.9 751.7L58.3 755.8ZM47.2 746.2L37.2 737.6L36.6 736.7L37.2 733.7L40.3 727.2L47.9 722.3L58.6 719.5L69.3 718.6L80 724L81.1 727.2L80.7 736.7L80 737.8L71.4 746.2L69.3 747.9L58.6 749.9L47.9 746.7ZM154.9 572.8L165.6 572.2L176.3 566.3L178.8 565.1L176.3 565.1L165.6 565.1L154.9 565.1L154.9 565.1L154.9 565.1L146.7 565.1Z"/>
<path fill="#ffbf00" d="M133.5 791.6L134.8 793.9L144.2 793.9L154.9 793.9L165.6 793.9L176.3 793.9L187 793.9L192.9 793.9L194.3 784.4L197.7 781.3L201.9 774.8L208.4 766.3L208.8 765.3L211.7 755.8L212.1 746.2L209.4 736.7L208.4 735L197.7 731.9L191 736.7L187 740.5L184.8 746.2L180.8 755.8L176.3 764L169.7 765.3L165.6 767L163.2 765.3L154.9 764.5L144.2 762.9L140.1 765.3L133.5 774.6L133.4 774.8L132.5 784.4ZM139.4 774.8L144.2 767.7L150.4 774.8L144.2 783.7ZM196.6 755.8L197.7 753.6L198.5 755.8L197.7 757.7ZM47.9 746.7L58.6 749.9L69.3 747.9L71.4 746.2L80 737.8L80.7 736.7L81.1 727.2L80 724L69.3 718.6L58.6 719.5L47.9 722.3L40.3 727.2L37.2 733.7L36.6 736.7L37.2 737.6L47.2 746.2ZM44.5 736.7L47.9 731.1L57.1 727.2L58.6 726.8L61.1 727.2L69.3 731.2L71.3 736.7L69.3 738.7L58.6 742.8L47.9 739.6ZM154.9 565.1L154.9 565.1L154.9 565.1L154.9 565.1Z"/>
<path fill="#ff8000" d="M144.2 783.7L150.4 774.8L144.2 767.7L139.4 774.8ZM197.7 757.7L198.5 755.8L197.7 753.6L196.6 755.8ZM47.9 739.6L58.6 742.8L69.3 738.7L71.3 736.7L69.3 731.2L61.1 727.2L58.6 726.8L57.1 727.2L47.9 731.1L44.5 736.7Z"/>
<path fill="none" stroke="#000" stroke-width="0.75" stroke-linejoin="round" d="M101.4 784.5L101.2 784.4L95.9 774.8L101.4 768.1L104.4 774.8L101.5 784.4L101.4 784.5M122.8 743.2L114.2 736.7L120.9 727.2L122.8 726.1L133.5 726.5L135.6 727.2L144.2 734L146 736.7L144.2 737.5L133.5 739.9ZM90.7 785.4L89.6 784.4L88.2 774.8L90.7 768.7L93.8 765.3L101.4 757.6L106.7 755.8L108.3 746.2L109 736.7L111.9 727.2L112.1 726.8L122.8 720.8L133.5 721.6L144.2 725.2L147.7 727.2L154.1 736.7L144.2 741.4L133.5 744.5L129.5 746.2L122.8 749.2L113.5 755.8L112.1 765.3L112.1 766L111.4 774.8L108.7 784.4L101.4 789.3L90.7 785.4M100.8 793.9L90.7 789.6L85.1 784.4L84 774.8L87.8 765.3L90.7 761.5L96.6 755.8L101.4 747.9L102.4 746.2L105.1 736.7L107.9 727.2L112.1 720.7L118 717.6L122.8 715.8L133.5 716.5L135.7 717.6L144.2 720.9L154.9 726.8L155.3 727.2L158.7 736.7L154.9 740.5L144.2 745.2L141.1 746.2L133.5 748.1L122.8 754.1L120.4 755.8L115.9 765.3L114.8 774.8L113.6 784.4L112.1 789.2L102.5 793.9M90.7 793.9L80.6 784.4L80 776.9L79.8 774.8L80 774.3L83.3 765.3L90.7 755.8L90.7 755.8L98 746.2L101.3 736.7L101.4 736.2L103.9 727.2L109.5 717.6L112.1 715.3L122.8 711.1L133.5 710.9L144.2 716.1L146.3 717.6L154.9 722.2L160.4 727.2L162.9 736.7L154.9 744.8L151.5 746.2L144.2 748.2L133.5 751.2L126 755.8L122.8 760L119.7 765.3L117.7 774.8L116.6 784.4L114.1 793.9M102.1 565.1L101.4 565.6L90.7 565.1L90.7 565.1M261.9 565.1L261.9 565.1L254.1 574.6L251.2 576.6L240.5 576.3L238.5 574.6L235.2 565.1M261.9 717.6L261.9 717.6L251.2 710.1L250.7 708.1L250.5 698.6L251.2 691.1L252.3 689L261.9 685.4L265.5 689L268.6 698.6L267.6 708.1L261.9 717.6L261.9 717.6M90.7 651.9L87.1 650.9L80.4 641.4L84.9 631.8L90.7 625.2L93.7 622.3L101.4 613.4L104 612.8L112.1 611.4L116.5 612.8L122.8 615.2L130.4 622.3L131.3 631.8L122.8 637.8L116.2 641.4L112.1 643.1L101.4 650.6L100.3 650.9ZM84 793.9L80 790L76 784.4L75.4 774.8L78.7 765.3L80 763.6L85.9 755.8L90.7 750.5L93.9 746.2L97.9 736.7L100 727.2L101.4 723.2L104.2 717.6L112.1 710.7L118.6 708.1L122.8 706.3L133.5 704.7L141 708.1L144.2 709.5L154.9 717.6L154.9 717.6L165.5 727.2L165.6 727.9L167 736.7L165.6 739.1L159 746.2L154.9 748.2L144.2 750.8L133.5 754.2L131 755.8L123.4 765.3L122.8 767.1L120.7 774.8L119.5 784.4L118.1 793.9M237.1 793.9L234.5 784.4L238.5 774.8L240.5 772L251.2 767.5L261.9 774.8L261.9 774.8L262.7 784.4L263.8 793.9M283.3 766.5L279.2 765.3L276.4 755.8L283.3 753M26.5 753L28.8 755.8L29 765.3L26.5 766.5M122.1 565.1L122.8 568.2L123.7 574.6L125.4 584.2L130.7 593.7L133.5 596.2L141.9 603.2L144.2 605.1L152.9 612.8L154.9 622.3L154.9 622.3L154.9 622.3L148.7 631.8L144.2 636.2L139 641.4L133.5 644.3L122.8 649.5L120.6 650.9L112.1 655.6L101.6 660.4L101.4 660.5L90.7 661.8L80 661.6L72.1 660.4L69.3 659.1L63 650.9L64.7 641.4L66.9 631.8L69.3 625.8L71.2 622.3L78.1 612.8L80 609.6L83.9 603.2L90.7 594L91.1 593.7L96.9 584.2L92.7 574.6L90.7 573.9L80.8 565.1M274.2 565.1L272.6 569.2L269.4 574.6L261.9 584.2L261.9 584.2L251.2 589.1L240.5 589.6L229.8 584.2L229.8 584.2L223.2 574.6L219.1 565.1L219.1 565.1M251.2 734.8L244 727.2L240.5 717.6L240.5 717.6L239.2 708.1L237.3 698.6L233.1 689L229.8 685L221.9 679.5L219.1 677.3L208.4 670.7L207.6 670L208.4 667.1L211.4 660.4L219.1 658L229.8 656.7L240.5 657.4L251.2 660.3L251.6 660.4L261.9 665.9L270.3 670L272.6 671.4L280.1 679.5L280.5 689L278.8 698.6L277 708.1L274.3 717.6L272.6 720.9L265.4 727.2L261.9 730.9ZM26.5 791L28.3 793.9M76.7 793.9L71.4 784.4L71.1 774.8L73.5 765.3L80 757.1L81 755.8L89.7 746.2L90.7 744.8L94.5 736.7L96.3 727.2L99 717.6L101.4 714.4L108.6 708.1L112.1 706L122.8 701.3L131.8 698.6L133.5 697.8L139.7 698.6L144.2 699.4L153.4 708.1L154.9 709.2L164.7 717.6L165.6 718.5L170.7 727.2L171 736.7L165.6 745.9L165.3 746.2L154.9 751.2L144.2 753.5L137.4 755.8L133.5 757.8L127 765.3L123.7 774.8L122.8 781.9L122.5 784.4L122.1 793.9M226.7 793.9L226.1 784.4L228.7 774.8L229.8 772.4L234.6 765.3L239.9 755.8L239.1 746.2L236.3 736.7L234.1 727.2L232.2 717.6L230.2 708.1L229.8 706.7L226.3 698.6L219.1 691L214.6 689L208.4 686.5L197.7 683.8L189.7 679.5L187.9 670L190.7 660.4L197.7 651.7L199.1 650.9L208.4 647.2L219.1 646.6L229.8 646.8L240.5 647.7L251.2 650.1L253.7 650.9L261.9 653.7L272.6 657.6L283.3 660.4M283.3 780.6L278 784.4L283.3 791M26.5 742.4L28.5 746.2L37.2 755.3L37.9 755.8L44 765.3L41.4 774.8L37.2 779.7L26.5 780.6M283.3 707.2L283 708.1L280.3 717.6L276.5 727.2L272.6 736.2L272.2 736.7L272.6 737.4L283.3 742.4M26.5 660.4L37.2 654.5L40.9 650.9L47.9 642.8L48.7 641.4L52.5 631.8L55.5 622.3L58.6 616.7L61.2 612.8L68.2 603.2L69.3 600.9L72.2 593.7L74.7 584.2L73.7 574.6L71.9 565.1M133.5 565.1L135.2 574.6L140.5 584.2L144.2 588.2L153.2 593.7L154.9 594.9L165.6 599.4L172.3 603.2L175.2 612.8L172.3 622.3L165.6 629.2L163.6 631.8L154.9 638.9L152.3 641.4L144.2 646.4L135.3 650.9L133.5 651.7L122.8 657L117.3 660.4L112.1 663L101.4 666.2L90.7 668.4L80 669.7L76 670L69.3 670.6L58.6 672.5L47.9 677.4L45.6 679.5L37.2 685.8L35.1 689L30.3 698.6L26.5 707.2M281.8 565.1L278.9 574.6L276.1 584.2L272.6 589.8L268 593.7L261.9 596.8L251.2 599.5L240.5 600.1L229.8 598.1L221.5 593.7L219.1 591.4L213.2 584.2L210.4 574.6L210 565.1M66.9 793.9L62.1 784.4L59.9 774.8L64.1 765.3L69.3 763.5L74.7 755.8L80 751.4L84.7 746.2L90.7 737.4L91 736.7L92.6 727.2L93.8 717.6L100.4 708.1L101.4 707.4L112.1 701L117.6 698.6L122.8 695.5L133.5 690.7L140.5 689L144.2 687.4L154.9 682.4L158.3 679.5L165.6 672.8L168 670L173.6 660.4L176.3 651.4L176.4 650.9L176.3 650.4L165.6 647.2L154.9 650.8L154.8 650.9L144.2 655.1L133.5 658.4L129.6 660.4L122.8 664.1L112.1 668.6L107.6 670L101.4 672.1L90.7 675.3L80 677.8L72.8 679.5L69.3 681.2L58.6 687L55 689L47.9 693.4L42.2 698.6L37.2 707.8L37.1 708.1L31.6 717.6L27.5 727.2L28.2 736.7L33.5 746.2L37.2 750L46.2 755.8L47.9 758.1L56 765.3L57.1 774.8L49.9 784.4L47.9 788.1L46.1 793.9M218.1 793.9L218.8 784.4L219.1 783.5L221.3 774.8L225.1 765.3L228.6 755.8L229.2 746.2L228 736.7L226.1 727.2L223.5 717.6L220.2 708.1L219.1 706L209.9 698.6L208.4 697.9L197.7 697.3L193.5 698.6L187 702.1L180.6 708.1L176.3 717.6L176.3 717.6L175.9 727.2L175.1 736.7L171.1 746.2L165.6 751L154.9 754.3L146.5 755.8L144.2 756.2L133.5 762L130.6 765.3L127 774.8L125.8 784.4L126.1 793.9M26.5 641.4L26.5 641.4L35.1 631.8L37.2 626.5L38.3 622.3L37.2 617.8L26.5 613M283.3 613L282.3 612.8L272.6 611.4L261.9 611.5L251.2 612L240.5 612.5L234.7 612.8L229.8 613.3L219.1 618L215.8 622.3L218.6 631.8L219.1 632.1L229.8 634.9L240.5 636.7L251.2 638.7L261.9 641.4L261.9 641.4L272.6 642.5L283.3 641.4L283.3 641.4M139.8 565.1L144.2 574.2L144.6 574.6L154.9 582.2L165.6 582.5L176.3 579.3L187 575.4L188.2 574.6L197.7 569.3L199.8 565.1M208.5 793.9L209.4 784.4L213.1 774.8L216.9 765.3L219.1 758.3L220 755.8L221.3 746.2L220.6 736.7L219.1 730.4L217.6 727.2L210.4 717.6L208.4 715.2L197.7 714.7L193.9 717.6L187 722.5L184.6 727.2L181.2 736.7L177.1 746.2L176.3 747.6L166.3 755.8L165.6 756.2L154.9 758.7L144.2 759.5L134.6 765.3L133.5 766.8L130.2 774.8L129.1 784.4L130 793.9M146.7 565.1L154.9 572.8L165.6 572.2L176.3 566.3L178.8 565.1M58.6 756.1L59.8 755.8L69.3 754.5L79.6 746.2L80 745.8L86 736.7L87.5 727.2L86.7 717.6L90.7 708.1L90.7 708.1L101.4 699.9L104.2 698.6L112.1 694.4L122.6 689L122.8 688.8L133.5 680.6L135.5 679.5L139.1 670L133.5 668.6L129 670L122.8 672.2L112.1 675.3L101.4 678.4L98.1 679.5L90.7 684.7L82.9 689L80 693L75.1 698.6L69.3 703.2L59.9 708.1L58.6 708.5L47.9 713.5L43.6 717.6L37.2 721.4L33.2 727.2L32.4 736.7L37.2 744.4L39.4 746.2L47.9 751.7L58.3 755.8ZM192.9 793.9L194.3 784.4L197.7 781.3L201.9 774.8L208.4 766.3L208.8 765.3L211.7 755.8L212.1 746.2L209.4 736.7L208.4 735L197.7 731.9L191 736.7L187 740.5L184.8 746.2L180.8 755.8L176.3 764L169.7 765.3L165.6 767L163.2 765.3L154.9 764.5L144.2 762.9L140.1 765.3L133.5 774.6L133.4 774.8L132.5 784.4L133.5 791.6L134.8 793.9M154.9 565.1L154.9 565.1L154.9 565.1M47.9 746.7L58.6 749.9L69.3 747.9L71.4 746.2L80 737.8L80.7 736.7L81.1 727.2L80 724L69.3 718.6L58.6 719.5L47.9 722.3L40.3 727.2L37.2 733.7L36.6 736.7L37.2 737.6L47.2 746.2ZM144.2 783.7L150.4 774.8L144.2 767.7L139.4 774.8ZM197.7 757.7L198.5 755.8L197.7 753.6L196.6 755.8ZM47.9 739.6L58.6 742.8L69.3 738.7L71.3 736.7L69.3 731.2L61.1 727.2L58.6 726.8L57.1 727.2L47.9 731.1L44.5 736.7Z"/>
</g>
<path fill="none" stroke="#000" stroke-width="0.8" d="M26.5 565.1v2.5M26.5 793.9v-2.5M26.5 793.9h2.5M283.3 793.9h-2.5M47.9 565.1v2.5M47.9 793.9v-2.5M26.5 774.8h2.5M283.3 774.8h-2.5M69.3 565.1v2.5M69.3 793.9v-2.5M26.5 755.8h2.5M283.3 755.8h-2.5M90.7 565.1v2.5M90.7 793.9v-2.5M26.5 736.7h2.5M283.3 736.7h-2.5M112.1 565.1v2.5M112.1 793.9v-2.5M26.5 717.6h2.5M283.3 717.6h-2.5M133.5 565.1v2.5M133.5 793.9v-2.5M26.5 698.6h2.5M283.3 698.6h-2.5M154.9 565.1v2.5M154.9 793.9v-2.5M26.5 679.5h2.5M283.3 679.5h-2.5M176.3 565.1v2.5M176.3 793.9v-2.5M26.5 660.4h2.5M283.3 660.4h-2.5M197.7 565.1v2.5M197.7 793.9v-2.5M26.5 641.4h2.5M283.3 641.4h-2.5M219.1 565.1v2.5M219.1 793.9v-2.5M26.5 622.3h2.5M283.3 622.3h-2.5M240.5 565.1v2.5M240.5 793.9v-2.5M26.5 603.2h2.5M283.3 603.2h-2.5M261.9 565.1v2.5M261.9 793.9v-2.5M26.5 584.2h2.5M283.3 584.2h-2.5M283.3 565.1v2.5M283.3 793.9v-2.5M26.5 565.1h2.5M283.3 565.1h-2.5"/>
<rect x="26.5" y="565.1" width="256.8" height="228.8" fill="none" stroke="#222" stroke-width="1"/>
<g font-family="Liberation Sans, sans-serif" font-size="9.75" fill="#000"><text transform="translate(24.3 798) scale(0.95 1)" text-anchor="end">0</text><text transform="translate(24.3 778.9) scale(0.95 1)" text-anchor="end">2</text><text transform="translate(24.3 759.9) scale(0.95 1)" text-anchor="end">4</text><text transform="translate(24.3 740.8) scale(0.95 1)" text-anchor="end">6</text><text transform="translate(24.3 721.7) scale(0.95 1)" text-anchor="end">8</text><text transform="translate(24.3 702.7) scale(0.95 1)" text-anchor="end">10</text><text transform="translate(24.3 683.6) scale(0.95 1)" text-anchor="end">12</text><text transform="translate(24.3 664.5) scale(0.95 1)" text-anchor="end">14</text><text transform="translate(24.3 645.5) scale(0.95 1)" text-anchor="end">16</text><text transform="translate(24.3 626.4) scale(0.95 1)" text-anchor="end">18</text><text transform="translate(24.3 607.3) scale(0.95 1)" text-anchor="end">20</text><text transform="translate(24.3 588.3) scale(0.95 1)" text-anchor="end">22</text><text transform="translate(24.3 569.2) scale(0.95 1)" text-anchor="end">24</text><text transform="translate(23.8 805.4) scale(0.95 1)" text-anchor="middle">−180</text><text transform="translate(45.2 805.4) scale(0.95 1)" text-anchor="middle">−150</text><text transform="translate(66.6 805.4) scale(0.95 1)" text-anchor="middle">−120</text><text transform="translate(88 805.4) scale(0.95 1)" text-anchor="middle">−90</text><text transform="translate(109.4 805.4) scale(0.95 1)" text-anchor="middle">−60</text><text transform="translate(130.8 805.4) scale(0.95 1)" text-anchor="middle">−30</text><text transform="translate(154.9 805.4) scale(0.95 1)" text-anchor="middle">0</text><text transform="translate(176.3 805.4) scale(0.95 1)" text-anchor="middle">30</text><text transform="translate(197.7 805.4) scale(0.95 1)" text-anchor="middle">60</text><text transform="translate(219.1 805.4) scale(0.95 1)" text-anchor="middle">90</text><text transform="translate(240.5 805.4) scale(0.95 1)" text-anchor="middle">120</text><text transform="translate(261.9 805.4) scale(0.95 1)" text-anchor="middle">150</text><text transform="translate(283.3 805.4) scale(0.95 1)" text-anchor="middle">180</text></g>
<text font-family="Liberation Sans, sans-serif" font-size="9.75" fill="#000" x="102.7" y="815.1" textLength="104.4" lengthAdjust="spacingAndGlyphs">Geographic longitude [°]</text>
<text font-family="Liberation Sans, sans-serif" font-size="10" fill="#000" transform="translate(9.1 675.1) rotate(-90)" text-anchor="middle">Magnetic local Time [h]</text>
<g font-family="Liberation Sans, sans-serif" font-size="9.7" fill="#000"><text x="35.7" y="557.8" textLength="57.7" lengthAdjust="spacingAndGlyphs">Migrating tide</text><text x="98.5" y="557.8" textLength="22.5" lengthAdjust="spacingAndGlyphs">Vx+y</text><text x="126" y="557.8" textLength="41" lengthAdjust="spacingAndGlyphs">total wind</text><text x="173.3" y="557.8" textLength="13.3" lengthAdjust="spacingAndGlyphs">NH</text><text x="192.9" y="557.8" textLength="12.6" lengthAdjust="spacingAndGlyphs">[40</text><text x="216" y="557.8" textLength="27.8" lengthAdjust="spacingAndGlyphs">°~60°]</text><text x="245.8" y="557.8" textLength="28.6" lengthAdjust="spacingAndGlyphs">400km</text></g>
<rect x="292.9" y="565.1" width="12.7" height="228.8" fill="url(#jetg)"/>
<path fill="none" stroke="#000" stroke-width="0.8" d="M292.9 793.9h2M305.6 793.9h-2M292.9 771h2M305.6 771h-2M292.9 748.1h2M305.6 748.1h-2M292.9 725.3h2M305.6 725.3h-2M292.9 702.4h2M305.6 702.4h-2M292.9 679.5h2M305.6 679.5h-2M292.9 656.6h2M305.6 656.6h-2M292.9 633.7h2M305.6 633.7h-2M292.9 610.9h2M305.6 610.9h-2M292.9 588h2M305.6 588h-2M292.9 565.1h2M305.6 565.1h-2"/>
<rect x="292.9" y="565.1" width="12.7" height="228.8" fill="none" stroke="#222" stroke-width="1"/>
<g font-family="Liberation Sans, sans-serif" font-size="9.75" fill="#000"><text transform="translate(308.2 797.3) scale(0.95 1)">−5</text><text transform="translate(308.2 774.4) scale(0.95 1)">−4</text><text transform="translate(308.2 751.5) scale(0.95 1)">−3</text><text transform="translate(308.2 728.7) scale(0.95 1)">−2</text><text transform="translate(308.2 705.8) scale(0.95 1)">−1</text><text transform="translate(308.2 682.9) scale(0.95 1)">0</text><text transform="translate(308.2 660) scale(0.95 1)">1</text><text transform="translate(308.2 637.1) scale(0.95 1)">2</text><text transform="translate(308.2 614.3) scale(0.95 1)">3</text><text transform="translate(308.2 591.4) scale(0.95 1)">4</text><text transform="translate(308.2 568.5) scale(0.95 1)">5</text></g>
<text font-family="Liberation Sans, sans-serif" font-size="10" fill="#000" transform="translate(329.3 683.6) rotate(-90)" text-anchor="middle">Δ Vx+y [ m/s ]</text>
<clipPath id="cp5"><rect x="379.3" y="565.1" width="256.8" height="228.8"/></clipPath>
<g clip-path="url(#cp5)">
<rect x="379.3" y="565.1" width="256.8" height="228.8" fill="#40ffbf"/>
<path fill="#00008f" d="M422.1 738.8L432.8 739.3L439.7 736.7L443.5 732.4L446 727.2L443.5 721.9L432.8 720.7L422.1 725.8L420.4 727.2L418 736.7Z"/>
<path fill="#00009f" d="M432.8 746.4L434.3 746.2L443.5 744.2L452.5 736.7L454.2 732.5L455.7 727.2L454.6 717.6L454.2 717.2L443.5 712.1L432.8 713.2L422.1 717.6L422.1 717.6L411.4 726.1L410.2 727.2L406.4 736.7L411.4 741.6L422.1 745.9L428 746.2ZM418 736.7L420.4 727.2L422.1 725.8L432.8 720.7L443.5 721.9L446 727.2L443.5 732.4L439.7 736.7L432.8 739.3L422.1 738.8Z"/>
<path fill="#0000df" d="M411.4 749.3L422.1 751.4L432.8 752.6L443.5 753.1L454.2 750.7L459.1 746.2L462.5 736.7L463.9 727.2L464 717.6L459 708.1L454.2 705.5L443.5 705.2L432.8 707L429.7 708.1L422.1 711L411.9 717.6L411.4 718L401.6 727.2L400.7 729.1L396.3 736.7L400.7 743.5L403.3 746.2ZM428 746.2L422.1 745.9L411.4 741.6L406.4 736.7L410.2 727.2L411.4 726.1L422.1 717.6L422.1 717.6L432.8 713.2L443.5 712.1L454.2 717.2L454.6 717.6L455.7 727.2L454.2 732.5L452.5 736.7L443.5 744.2L434.3 746.2L432.8 746.4Z"/>
<path fill="#0040ff" d="M464.9 793.9L464.9 793.9L464.9 793.9L464.9 793.9ZM497 793.9L500.9 793.9L502.6 784.4L497 778.7L489.3 784.4L492.1 793.9ZM422.1 757.6L432.8 761.2L443.5 764.9L454.2 763.8L464.9 760L470.4 755.8L472.4 746.2L472.5 736.7L473.3 727.2L474.4 717.6L475.6 708.5L475.7 708.1L476.9 698.6L476.4 689L475.6 687.6L464.9 682.1L456.9 689L454.2 690.9L443.5 698.6L443.5 698.6L432.8 700.7L422.1 703.8L414.1 708.1L411.4 709.7L401.7 717.6L400.7 718.6L390.8 727.2L390 728.5L379.3 734.3L379.3 736.7L379.3 741.9L382.1 746.2L390 750.1L400.7 753.9L411.4 755.6L412.9 755.8ZM403.3 746.2L400.7 743.5L396.3 736.7L400.7 729.1L401.6 727.2L411.4 718L411.9 717.6L422.1 711L429.7 708.1L432.8 707L443.5 705.2L454.2 705.5L459 708.1L464 717.6L463.9 727.2L462.5 736.7L459.1 746.2L454.2 750.7L443.5 753.1L432.8 752.6L422.1 751.4L411.4 749.3ZM636.1 741.9L636.1 736.7L636.1 734.3L635.3 736.7ZM432.8 577.5L443.5 579.6L449.8 574.6L443.5 570.2L432.8 572.6L428 574.6ZM464.9 565.1L464.9 565.1L464.9 565.1L464.9 565.1Z"/>
<path fill="#00cfff" d="M390 793.9L400.7 793.9L390 791.8L385.7 784.4L385.5 774.8L390 769.4L400.7 765.4L402.4 765.3L411.4 765.1L412.3 765.3L422.1 771.5L424.4 774.8L422.1 781.6L420.8 784.4L411.4 791L400.7 793.9L411.4 793.9L422.1 793.9L432.8 793.9L443.5 793.9L454.2 793.9L464.9 793.9L464.9 793.9L464.9 793.9L475.6 793.9L486.3 793.9L492.1 793.9L489.3 784.4L497 778.7L502.6 784.4L500.9 793.9L507.7 793.9L518.4 793.9L523.2 793.9L518.4 784.6L518.3 784.4L518.4 780.6L518.6 774.8L518.4 772.7L516.7 765.3L507.7 761.5L497 758.8L491.1 755.8L486.3 751.1L484.4 746.2L483.1 736.7L484.3 727.2L486.3 721.2L488 717.6L493.5 708.1L497 701.5L499.1 698.6L507.7 690.2L508.8 689L514.8 679.5L517.3 670L515.8 660.4L507.7 652.9L499.3 650.9L497 650.5L495.5 650.9L486.3 654.8L480.7 660.4L475.6 663.7L464.9 668.2L461.6 670L454.2 673.7L446 679.5L443.5 682.8L437.2 689L432.8 691.3L422.1 695.2L414.6 698.6L411.4 699.9L400.7 706.7L398.5 708.1L390 714.4L379.3 714.9L379.3 717.6L379.3 727.2L379.3 734.3L390 728.5L390.8 727.2L400.7 718.6L401.7 717.6L411.4 709.7L414.1 708.1L422.1 703.8L432.8 700.7L443.5 698.6L443.5 698.6L454.2 690.9L456.9 689L464.9 682.1L475.6 687.6L476.4 689L476.9 698.6L475.7 708.1L475.6 708.5L474.4 717.6L473.3 727.2L472.5 736.7L472.4 746.2L470.4 755.8L464.9 760L454.2 763.8L443.5 764.9L432.8 761.2L422.1 757.6L412.9 755.8L411.4 755.6L400.7 753.9L390 750.1L382.1 746.2L379.3 741.9L379.3 746.2L379.3 755.8L379.3 765.3L379.3 774.8L379.3 784.4L379.3 793.9ZM462.4 784.4L464.9 774.8L466.3 784.4L464.9 784.8ZM604 793.9L614.7 793.9L625.4 793.9L636.1 793.9L636.1 784.4L636.1 774.8L636.1 765.3L636.1 755.8L636.1 746.2L636.1 741.9L635.3 736.7L636.1 734.3L636.1 727.2L636.1 717.6L636.1 714.9L633.7 717.6L628.7 727.2L627 736.7L625.4 746.2L625.4 746.3L623.4 755.8L621.5 765.3L614.7 774.8L614.7 774.8L604 782L602.1 784.4L602.6 793.9ZM571.9 661.7L582.6 666.7L593.3 668.2L604 663.6L607.7 660.4L614.7 654.4L618.5 650.9L625.4 644.5L628.1 641.4L633.1 631.8L636.1 624.7L636.1 622.3L636.1 612.8L636.1 603.2L636.1 593.7L636.1 584.2L636.1 574.6L636.1 565.1L625.4 565.1L614.7 565.1L604 565.1L599 565.1L603.1 574.6L598.8 584.2L593.3 589L588.4 593.7L582.6 603.2L582.6 603.3L574.7 612.8L582.6 621L588 622.3L583 631.8L582.6 632.2L575.1 641.4L571.9 647.1L569.5 650.9L570.1 660.4ZM380.6 622.3L385.7 612.8L389.8 603.2L390 603L400.7 595.3L407.2 593.7L411.4 593L422.1 593.1L426.1 593.7L432.8 594.6L443.5 595.1L450.7 593.7L454.2 592.6L463.5 584.2L464.9 582.9L475.6 576.9L480.8 574.6L486.3 573.1L497 569.2L501.9 565.1L497 565.1L486.3 565.1L475.6 565.1L464.9 565.1L464.9 565.1L464.9 565.1L454.2 565.1L443.5 565.1L432.8 565.1L422.1 565.1L411.4 565.1L400.7 565.1L390 565.1L379.3 565.1L379.3 574.6L379.3 584.2L379.3 593.7L379.3 603.2L379.3 612.8L379.3 622.3L379.3 624.7ZM428 574.6L432.8 572.6L443.5 570.2L449.8 574.6L443.5 579.6L432.8 577.5Z"/>
<path fill="#40ffbf" d="M390 791.8L400.7 793.9L400.7 793.9L400.7 793.9L411.4 791L420.8 784.4L422.1 781.6L424.4 774.8L422.1 771.5L412.3 765.3L411.4 765.1L402.4 765.3L400.7 765.4L390 769.4L385.5 774.8L385.7 784.4ZM464.9 784.8L466.3 784.4L464.9 774.8L462.4 784.4ZM518.4 784.6L523.2 793.9L529.1 793.9L531.9 793.9L529.2 784.4L529.9 774.8L530.1 765.3L529.1 763.3L522.2 755.8L518.4 754L507.7 750.7L499.1 746.2L497 743.2L494.1 736.7L496.6 727.2L497 726.5L503.5 717.6L507.7 712.8L511.5 708.1L518.4 701.3L521.5 698.6L529.1 690.2L530.3 689L537.3 679.5L539.8 676.5L550.5 674.6L561.2 676.7L569.5 679.5L571.9 680.2L582.6 684.8L590.8 689L593.3 690.5L602.3 698.6L604 700.3L609.7 708.1L614.7 717.6L614.7 717.6L617.1 727.2L616.8 736.7L614.7 744.6L614.2 746.2L609.9 755.8L604 763.6L602.4 765.3L593.3 773.5L592.2 774.8L588.1 784.4L587.1 793.9L593.3 793.9L602.6 793.9L602.1 784.4L604 782L614.7 774.8L614.7 774.8L621.5 765.3L623.4 755.8L625.4 746.3L625.4 746.2L627 736.7L628.7 727.2L633.7 717.6L636.1 714.9L636.1 708.1L636.1 698.6L636.1 689L636.1 679.5L636.1 670L636.1 660.4L636.1 650.9L636.1 641.4L636.1 631.8L636.1 624.7L633.1 631.8L628.1 641.4L625.4 644.5L618.5 650.9L614.7 654.4L607.7 660.4L604 663.6L593.3 668.2L582.6 666.7L571.9 661.7L570.1 660.4L569.5 650.9L571.9 647.1L575.1 641.4L582.6 632.2L583 631.8L588 622.3L582.6 621L574.7 612.8L582.6 603.3L582.6 603.2L588.4 593.7L593.3 589L598.8 584.2L603.1 574.6L599 565.1L593.3 565.1L583.6 565.1L582.6 570.9L581.9 574.6L575.5 584.2L571.9 588.8L568.3 593.7L561.2 600.8L557.4 603.2L550.5 607.9L540.2 612.8L539.8 613L529.1 616.3L518.4 617.9L507.7 622.3L507.7 622.3L497 631.4L496 631.8L486.3 634.4L475.6 639.2L473.1 641.4L466.9 650.9L464.9 652.9L456.5 660.4L454.2 661.6L443.5 667.3L438.6 670L432.8 673.6L423.6 679.5L422.1 680.5L411.4 684.4L400.7 685.5L396.9 679.5L400.7 675.1L405.3 670L411.4 662.2L412.6 660.4L417.4 650.9L422.1 645.6L429.1 641.4L432.8 634.3L433.7 631.8L433.4 622.3L443.5 614.2L454.2 617.6L464.9 619L472 612.8L475.6 609.9L483.1 603.2L486.3 600L492.9 593.7L497 590.2L500.7 584.2L507.7 575.7L508.2 574.6L513.9 565.1L507.7 565.1L501.9 565.1L497 569.2L486.3 573.1L480.8 574.6L475.6 576.9L464.9 582.9L463.5 584.2L454.2 592.6L450.7 593.7L443.5 595.1L432.8 594.6L426.1 593.7L422.1 593.1L411.4 593L407.2 593.7L400.7 595.3L390 603L389.8 603.2L385.7 612.8L380.6 622.3L379.3 624.7L379.3 631.8L379.3 641.4L379.3 650.9L379.3 660.4L379.3 670L379.3 679.5L379.3 689L379.3 698.6L379.3 708.1L379.3 714.9L390 714.4L398.5 708.1L400.7 706.7L411.4 699.9L414.6 698.6L422.1 695.2L432.8 691.3L437.2 689L443.5 682.8L446 679.5L454.2 673.7L461.6 670L464.9 668.2L475.6 663.7L480.7 660.4L486.3 654.8L495.5 650.9L497 650.5L499.3 650.9L507.7 652.9L515.8 660.4L517.3 670L514.8 679.5L508.8 689L507.7 690.2L499.1 698.6L497 701.5L493.5 708.1L488 717.6L486.3 721.2L484.3 727.2L483.1 736.7L484.4 746.2L486.3 751.1L491.1 755.8L497 758.8L507.7 761.5L516.7 765.3L518.4 772.7L518.6 774.8L518.4 780.6L518.3 784.4ZM454.2 645.8L460.2 641.4L454.2 636.1L447.8 641.4Z"/>
<path fill="#bfff40" d="M536.4 784.4L537.4 774.8L537.5 765.3L533.1 755.8L529.1 752.8L518.4 747.7L514.9 746.2L507.7 740.4L504.6 736.7L507.2 727.2L507.7 726.5L514.2 717.6L518.4 713L523.3 708.1L529.1 703L535.2 698.6L539.8 694.3L550.5 689.7L561.2 690.1L571.9 694.5L578.8 698.6L582.6 701L592.5 708.1L593.3 708.8L600.5 717.6L604 726.3L604.3 727.2L605 736.7L604 741.2L602.9 746.2L597.3 755.8L593.3 759.8L587.1 765.3L582.6 771.9L581.3 774.8L579 784.4L576.6 793.9L582.6 793.9L587.1 793.9L588.1 784.4L592.2 774.8L593.3 773.5L602.4 765.3L604 763.6L609.9 755.8L614.2 746.2L614.7 744.6L616.8 736.7L617.1 727.2L614.7 717.6L614.7 717.6L609.7 708.1L604 700.3L602.3 698.6L593.3 690.5L590.8 689L582.6 684.8L571.9 680.2L569.5 679.5L561.2 676.7L550.5 674.6L539.8 676.5L537.3 679.5L530.3 689L529.1 690.2L521.5 698.6L518.4 701.3L511.5 708.1L507.7 712.8L503.5 717.6L497 726.5L496.6 727.2L494.1 736.7L497 743.2L499.1 746.2L507.7 750.7L518.4 754L522.2 755.8L529.1 763.3L530.1 765.3L529.9 774.8L529.2 784.4L531.9 793.9L537.5 793.9ZM400.7 685.5L411.4 684.4L422.1 680.5L423.6 679.5L432.8 673.6L438.6 670L443.5 667.3L454.2 661.6L456.5 660.4L464.9 652.9L466.9 650.9L473.1 641.4L475.6 639.2L486.3 634.4L496 631.8L497 631.4L507.7 622.3L507.7 622.3L518.4 617.9L529.1 616.3L539.8 613L540.2 612.8L550.5 607.9L557.4 603.2L561.2 600.8L568.3 593.7L571.9 588.8L575.5 584.2L581.9 574.6L582.6 570.9L583.6 565.1L582.6 565.1L572.9 565.1L571.9 567.3L568.6 574.6L562.1 584.2L561.2 585.3L551.3 593.7L550.5 594.3L539.8 600.7L532.3 603.2L529.1 604.3L521.7 603.2L518.4 602.2L513.2 593.7L513.9 584.2L517.1 574.6L518.4 572.5L522.2 565.1L518.4 565.1L513.9 565.1L508.2 574.6L507.7 575.7L500.7 584.2L497 590.2L492.9 593.7L486.3 600L483.1 603.2L475.6 609.9L472 612.8L464.9 619L454.2 617.6L443.5 614.2L433.4 622.3L433.7 631.8L432.8 634.3L429.1 641.4L422.1 645.6L417.4 650.9L412.6 660.4L411.4 662.2L405.3 670L400.7 675.1L396.9 679.5ZM447.8 641.4L454.2 636.1L460.2 641.4L454.2 645.8Z"/>
<path fill="#ffbf00" d="M539.8 793.9L544.1 793.9L544.7 784.4L546.3 774.8L546 765.3L541.5 755.8L539.8 754.4L529.1 746.7L528.1 746.2L518.4 740.2L514.2 736.7L515.5 727.2L518.4 723.4L522.7 717.6L529.1 711.4L533 708.1L539.8 703L550.5 698.9L561.2 700.1L571.9 706.6L574.1 708.1L582.6 715L585.6 717.6L591.9 727.2L593.3 736.7L590.6 746.2L582.6 754.2L580.1 755.8L571.9 765L571.7 765.3L570.3 774.8L569.9 784.4L567.4 793.9L571.9 793.9L576.6 793.9L579 784.4L581.3 774.8L582.6 771.9L587.1 765.3L593.3 759.8L597.3 755.8L602.9 746.2L604 741.2L605 736.7L604.3 727.2L604 726.3L600.5 717.6L593.3 708.8L592.5 708.1L582.6 701L578.8 698.6L571.9 694.5L561.2 690.1L550.5 689.7L539.8 694.3L535.2 698.6L529.1 703L523.3 708.1L518.4 713L514.2 717.6L507.7 726.5L507.2 727.2L504.6 736.7L507.7 740.4L514.9 746.2L518.4 747.7L529.1 752.8L533.1 755.8L537.5 765.3L537.4 774.8L536.4 784.4L537.5 793.9ZM529.1 604.3L532.3 603.2L539.8 600.7L550.5 594.3L551.3 593.7L561.2 585.3L562.1 584.2L568.6 574.6L571.9 567.3L572.9 565.1L571.9 565.1L564 565.1L561.2 570.5L558.5 574.6L550.5 583.5L549.4 584.2L539.8 589.5L529.1 590.4L525.4 584.2L525.9 574.6L529.1 567.2L530.2 565.1L529.1 565.1L522.2 565.1L518.4 572.5L517.1 574.6L513.9 584.2L513.2 593.7L518.4 602.2L521.7 603.2Z"/>
<path fill="#ff5000" d="M550.5 793.9L561.2 793.9L567.4 793.9L569.9 784.4L570.3 774.8L571.7 765.3L571.9 765L580.1 755.8L582.6 754.2L590.6 746.2L593.3 736.7L591.9 727.2L585.6 717.6L582.6 715L574.1 708.1L571.9 706.6L561.2 700.1L550.5 698.9L539.8 703L533 708.1L529.1 711.4L522.7 717.6L518.4 723.4L515.5 727.2L514.2 736.7L518.4 740.2L528.1 746.2L529.1 746.7L539.8 754.4L541.5 755.8L546 765.3L546.3 774.8L544.7 784.4L544.1 793.9ZM539.4 746.2L529.1 740.1L524 736.7L523.7 727.2L529.1 719.9L530.9 717.6L539.8 710.2L544.6 708.1L550.5 705.8L559.9 708.1L561.2 708.5L571.9 717.6L571.9 717.6L580.3 727.2L582.6 736.1L582.7 736.7L582.6 737L576 746.2L571.9 749.1L561.2 755L550.5 754.6L539.8 746.5ZM529.1 590.4L539.8 589.5L549.4 584.2L550.5 583.5L558.5 574.6L561.2 570.5L564 565.1L561.2 565.1L551.9 565.1L550.5 567.6L545.1 565.1L539.8 565.1L530.2 565.1L529.1 567.2L525.9 574.6L525.4 584.2Z"/>
<path fill="#cf0000" d="M539.8 746.5L550.5 754.6L561.2 755L571.9 749.1L576 746.2L582.6 737L582.7 736.7L582.6 736.1L580.3 727.2L571.9 717.6L571.9 717.6L561.2 708.5L559.9 708.1L550.5 705.8L544.6 708.1L539.8 710.2L530.9 717.6L529.1 719.9L523.7 727.2L524 736.7L529.1 740.1L539.4 746.2ZM536.8 736.7L533.3 727.2L539.8 717.8L540 717.6L550.5 713.5L560.8 717.6L561.2 718L568.2 727.2L569.8 736.7L561.2 742.3L550.5 742.6L539.8 738.3ZM550.5 567.6L551.9 565.1L550.5 565.1L545.1 565.1Z"/>
<path fill="#800000" d="M539.8 738.3L550.5 742.6L561.2 742.3L569.8 736.7L568.2 727.2L561.2 718L560.8 717.6L550.5 713.5L540 717.6L539.8 717.8L533.3 727.2L536.8 736.7Z"/>
<path fill="none" stroke="#000" stroke-width="0.75" stroke-linejoin="round" d="M422.1 738.8L418 736.7L420.4 727.2L422.1 725.8L432.8 720.7L443.5 721.9L446 727.2L443.5 732.4L439.7 736.7L432.8 739.3L422.1 738.8M432.8 746.4L428 746.2L422.1 745.9L411.4 741.6L406.4 736.7L410.2 727.2L411.4 726.1L422.1 717.6L422.1 717.6L432.8 713.2L443.5 712.1L454.2 717.2L454.6 717.6L455.7 727.2L454.2 732.5L452.5 736.7L443.5 744.2L434.3 746.2L432.8 746.4M411.4 749.3L403.3 746.2L400.7 743.5L396.3 736.7L400.7 729.1L401.6 727.2L411.4 718L411.9 717.6L422.1 711L429.7 708.1L432.8 707L443.5 705.2L454.2 705.5L459 708.1L464 717.6L463.9 727.2L462.5 736.7L459.1 746.2L454.2 750.7L443.5 753.1L432.8 752.6L422.1 751.4ZM464.9 793.9L464.9 793.9L464.9 793.9M492.1 793.9L489.3 784.4L497 778.7L502.6 784.4L500.9 793.9M636.1 741.9L635.3 736.7L636.1 734.3M379.3 734.3L390 728.5L390.8 727.2L400.7 718.6L401.7 717.6L411.4 709.7L414.1 708.1L422.1 703.8L432.8 700.7L443.5 698.6L443.5 698.6L454.2 690.9L456.9 689L464.9 682.1L475.6 687.6L476.4 689L476.9 698.6L475.7 708.1L475.6 708.5L474.4 717.6L473.3 727.2L472.5 736.7L472.4 746.2L470.4 755.8L464.9 760L454.2 763.8L443.5 764.9L432.8 761.2L422.1 757.6L412.9 755.8L411.4 755.6L400.7 753.9L390 750.1L382.1 746.2L379.3 741.9M464.9 565.1L464.9 565.1L464.9 565.1M432.8 577.5L428 574.6L432.8 572.6L443.5 570.2L449.8 574.6L443.5 579.6L432.8 577.5M400.7 793.9L411.4 791L420.8 784.4L422.1 781.6L424.4 774.8L422.1 771.5L412.3 765.3L411.4 765.1L402.4 765.3L400.7 765.4L390 769.4L385.5 774.8L385.7 784.4L390 791.8ZM602.6 793.9L602.1 784.4L604 782L614.7 774.8L614.7 774.8L621.5 765.3L623.4 755.8L625.4 746.3L625.4 746.2L627 736.7L628.7 727.2L633.7 717.6L636.1 714.9M379.3 714.9L390 714.4L398.5 708.1L400.7 706.7L411.4 699.9L414.6 698.6L422.1 695.2L432.8 691.3L437.2 689L443.5 682.8L446 679.5L454.2 673.7L461.6 670L464.9 668.2L475.6 663.7L480.7 660.4L486.3 654.8L495.5 650.9L497 650.5L499.3 650.9L507.7 652.9L515.8 660.4L517.3 670L514.8 679.5L508.8 689L507.7 690.2L499.1 698.6L497 701.5L493.5 708.1L488 717.6L486.3 721.2L484.3 727.2L483.1 736.7L484.4 746.2L486.3 751.1L491.1 755.8L497 758.8L507.7 761.5L516.7 765.3L518.4 772.7L518.6 774.8L518.4 780.6L518.3 784.4L518.4 784.6L523.2 793.9M636.1 624.7L633.1 631.8L628.1 641.4L625.4 644.5L618.5 650.9L614.7 654.4L607.7 660.4L604 663.6L593.3 668.2L582.6 666.7L571.9 661.7L570.1 660.4L569.5 650.9L571.9 647.1L575.1 641.4L582.6 632.2L583 631.8L588 622.3L582.6 621L574.7 612.8L582.6 603.3L582.6 603.2L588.4 593.7L593.3 589L598.8 584.2L603.1 574.6L599 565.1M501.9 565.1L497 569.2L486.3 573.1L480.8 574.6L475.6 576.9L464.9 582.9L463.5 584.2L454.2 592.6L450.7 593.7L443.5 595.1L432.8 594.6L426.1 593.7L422.1 593.1L411.4 593L407.2 593.7L400.7 595.3L390 603L389.8 603.2L385.7 612.8L380.6 622.3L379.3 624.7M464.9 784.8L466.3 784.4L464.9 774.8L462.4 784.4ZM587.1 793.9L588.1 784.4L592.2 774.8L593.3 773.5L602.4 765.3L604 763.6L609.9 755.8L614.2 746.2L614.7 744.6L616.8 736.7L617.1 727.2L614.7 717.6L614.7 717.6L609.7 708.1L604 700.3L602.3 698.6L593.3 690.5L590.8 689L582.6 684.8L571.9 680.2L569.5 679.5L561.2 676.7L550.5 674.6L539.8 676.5L537.3 679.5L530.3 689L529.1 690.2L521.5 698.6L518.4 701.3L511.5 708.1L507.7 712.8L503.5 717.6L497 726.5L496.6 727.2L494.1 736.7L497 743.2L499.1 746.2L507.7 750.7L518.4 754L522.2 755.8L529.1 763.3L530.1 765.3L529.9 774.8L529.2 784.4L531.9 793.9M513.9 565.1L508.2 574.6L507.7 575.7L500.7 584.2L497 590.2L492.9 593.7L486.3 600L483.1 603.2L475.6 609.9L472 612.8L464.9 619L454.2 617.6L443.5 614.2L433.4 622.3L433.7 631.8L432.8 634.3L429.1 641.4L422.1 645.6L417.4 650.9L412.6 660.4L411.4 662.2L405.3 670L400.7 675.1L396.9 679.5L400.7 685.5L411.4 684.4L422.1 680.5L423.6 679.5L432.8 673.6L438.6 670L443.5 667.3L454.2 661.6L456.5 660.4L464.9 652.9L466.9 650.9L473.1 641.4L475.6 639.2L486.3 634.4L496 631.8L497 631.4L507.7 622.3L507.7 622.3L518.4 617.9L529.1 616.3L539.8 613L540.2 612.8L550.5 607.9L557.4 603.2L561.2 600.8L568.3 593.7L571.9 588.8L575.5 584.2L581.9 574.6L582.6 570.9L583.6 565.1M454.2 645.8L447.8 641.4L454.2 636.1L460.2 641.4ZM576.6 793.9L579 784.4L581.3 774.8L582.6 771.9L587.1 765.3L593.3 759.8L597.3 755.8L602.9 746.2L604 741.2L605 736.7L604.3 727.2L604 726.3L600.5 717.6L593.3 708.8L592.5 708.1L582.6 701L578.8 698.6L571.9 694.5L561.2 690.1L550.5 689.7L539.8 694.3L535.2 698.6L529.1 703L523.3 708.1L518.4 713L514.2 717.6L507.7 726.5L507.2 727.2L504.6 736.7L507.7 740.4L514.9 746.2L518.4 747.7L529.1 752.8L533.1 755.8L537.5 765.3L537.4 774.8L536.4 784.4L537.5 793.9M522.2 565.1L518.4 572.5L517.1 574.6L513.9 584.2L513.2 593.7L518.4 602.2L521.7 603.2L529.1 604.3L532.3 603.2L539.8 600.7L550.5 594.3L551.3 593.7L561.2 585.3L562.1 584.2L568.6 574.6L571.9 567.3L572.9 565.1M567.4 793.9L569.9 784.4L570.3 774.8L571.7 765.3L571.9 765L580.1 755.8L582.6 754.2L590.6 746.2L593.3 736.7L591.9 727.2L585.6 717.6L582.6 715L574.1 708.1L571.9 706.6L561.2 700.1L550.5 698.9L539.8 703L533 708.1L529.1 711.4L522.7 717.6L518.4 723.4L515.5 727.2L514.2 736.7L518.4 740.2L528.1 746.2L529.1 746.7L539.8 754.4L541.5 755.8L546 765.3L546.3 774.8L544.7 784.4L544.1 793.9M530.2 565.1L529.1 567.2L525.9 574.6L525.4 584.2L529.1 590.4L539.8 589.5L549.4 584.2L550.5 583.5L558.5 574.6L561.2 570.5L564 565.1M545.1 565.1L550.5 567.6L551.9 565.1M539.8 746.5L550.5 754.6L561.2 755L571.9 749.1L576 746.2L582.6 737L582.7 736.7L582.6 736.1L580.3 727.2L571.9 717.6L571.9 717.6L561.2 708.5L559.9 708.1L550.5 705.8L544.6 708.1L539.8 710.2L530.9 717.6L529.1 719.9L523.7 727.2L524 736.7L529.1 740.1L539.4 746.2ZM539.8 738.3L550.5 742.6L561.2 742.3L569.8 736.7L568.2 727.2L561.2 718L560.8 717.6L550.5 713.5L540 717.6L539.8 717.8L533.3 727.2L536.8 736.7Z"/>
</g>
<path fill="none" stroke="#000" stroke-width="0.8" d="M379.3 565.1v2.5M379.3 793.9v-2.5M379.3 793.9h2.5M636.1 793.9h-2.5M400.7 565.1v2.5M400.7 793.9v-2.5M379.3 774.8h2.5M636.1 774.8h-2.5M422.1 565.1v2.5M422.1 793.9v-2.5M379.3 755.8h2.5M636.1 755.8h-2.5M443.5 565.1v2.5M443.5 793.9v-2.5M379.3 736.7h2.5M636.1 736.7h-2.5M464.9 565.1v2.5M464.9 793.9v-2.5M379.3 717.6h2.5M636.1 717.6h-2.5M486.3 565.1v2.5M486.3 793.9v-2.5M379.3 698.6h2.5M636.1 698.6h-2.5M507.7 565.1v2.5M507.7 793.9v-2.5M379.3 679.5h2.5M636.1 679.5h-2.5M529.1 565.1v2.5M529.1 793.9v-2.5M379.3 660.4h2.5M636.1 660.4h-2.5M550.5 565.1v2.5M550.5 793.9v-2.5M379.3 641.4h2.5M636.1 641.4h-2.5M571.9 565.1v2.5M571.9 793.9v-2.5M379.3 622.3h2.5M636.1 622.3h-2.5M593.3 565.1v2.5M593.3 793.9v-2.5M379.3 603.2h2.5M636.1 603.2h-2.5M614.7 565.1v2.5M614.7 793.9v-2.5M379.3 584.2h2.5M636.1 584.2h-2.5M636.1 565.1v2.5M636.1 793.9v-2.5M379.3 565.1h2.5M636.1 565.1h-2.5"/>
<rect x="379.3" y="565.1" width="256.8" height="228.8" fill="none" stroke="#222" stroke-width="1"/>
<g font-family="Liberation Sans, sans-serif" font-size="9.75" fill="#000"><text transform="translate(377.1 798) scale(0.95 1)" text-anchor="end">0</text><text transform="translate(377.1 778.9) scale(0.95 1)" text-anchor="end">2</text><text transform="translate(377.1 759.9) scale(0.95 1)" text-anchor="end">4</text><text transform="translate(377.1 740.8) scale(0.95 1)" text-anchor="end">6</text><text transform="translate(377.1 721.7) scale(0.95 1)" text-anchor="end">8</text><text transform="translate(377.1 702.7) scale(0.95 1)" text-anchor="end">10</text><text transform="translate(377.1 683.6) scale(0.95 1)" text-anchor="end">12</text><text transform="translate(377.1 664.5) scale(0.95 1)" text-anchor="end">14</text><text transform="translate(377.1 645.5) scale(0.95 1)" text-anchor="end">16</text><text transform="translate(377.1 626.4) scale(0.95 1)" text-anchor="end">18</text><text transform="translate(377.1 607.3) scale(0.95 1)" text-anchor="end">20</text><text transform="translate(377.1 588.3) scale(0.95 1)" text-anchor="end">22</text><text transform="translate(377.1 569.2) scale(0.95 1)" text-anchor="end">24</text><text transform="translate(376.6 805.4) scale(0.95 1)" text-anchor="middle">−180</text><text transform="translate(398 805.4) scale(0.95 1)" text-anchor="middle">−150</text><text transform="translate(419.4 805.4) scale(0.95 1)" text-anchor="middle">−120</text><text transform="translate(440.8 805.4) scale(0.95 1)" text-anchor="middle">−90</text><text transform="translate(462.2 805.4) scale(0.95 1)" text-anchor="middle">−60</text><text transform="translate(483.6 805.4) scale(0.95 1)" text-anchor="middle">−30</text><text transform="translate(507.7 805.4) scale(0.95 1)" text-anchor="middle">0</text><text transform="translate(529.1 805.4) scale(0.95 1)" text-anchor="middle">30</text><text transform="translate(550.5 805.4) scale(0.95 1)" text-anchor="middle">60</text><text transform="translate(571.9 805.4) scale(0.95 1)" text-anchor="middle">90</text><text transform="translate(593.3 805.4) scale(0.95 1)" text-anchor="middle">120</text><text transform="translate(614.7 805.4) scale(0.95 1)" text-anchor="middle">150</text><text transform="translate(636.1 805.4) scale(0.95 1)" text-anchor="middle">180</text></g>
<text font-family="Liberation Sans, sans-serif" font-size="9.75" fill="#000" x="455.5" y="815.1" textLength="104.4" lengthAdjust="spacingAndGlyphs">Geographic longitude [°]</text>
<text font-family="Liberation Sans, sans-serif" font-size="10" fill="#000" transform="translate(361.9 675.1) rotate(-90)" text-anchor="middle">Magnetic local Time [h]</text>
<g font-family="Liberation Sans, sans-serif" font-size="9.7" fill="#000"><text x="381.6" y="557.8" textLength="57.7" lengthAdjust="spacingAndGlyphs">Migrating tide</text><text x="445" y="557.8" textLength="20.8" lengthAdjust="spacingAndGlyphs">Vx+y</text><text x="472" y="557.8" textLength="40.8" lengthAdjust="spacingAndGlyphs">total wind</text><text x="519" y="557.8" textLength="12.5" lengthAdjust="spacingAndGlyphs">SH</text><text x="534.5" y="557.8" textLength="19.3" lengthAdjust="spacingAndGlyphs">[−40</text><text x="569.5" y="557.8" textLength="32.5" lengthAdjust="spacingAndGlyphs">°~−60°]</text><text x="604.6" y="557.8" textLength="29.3" lengthAdjust="spacingAndGlyphs">400km</text></g>
<rect x="645.7" y="565.1" width="12.7" height="228.8" fill="url(#jetg)"/>
<path fill="none" stroke="#000" stroke-width="0.8" d="M645.7 793.9h2M658.4 793.9h-2M645.7 771h2M658.4 771h-2M645.7 748.1h2M658.4 748.1h-2M645.7 725.3h2M658.4 725.3h-2M645.7 702.4h2M658.4 702.4h-2M645.7 679.5h2M658.4 679.5h-2M645.7 656.6h2M658.4 656.6h-2M645.7 633.7h2M658.4 633.7h-2M645.7 610.9h2M658.4 610.9h-2M645.7 588h2M658.4 588h-2M645.7 565.1h2M658.4 565.1h-2"/>
<rect x="645.7" y="565.1" width="12.7" height="228.8" fill="none" stroke="#222" stroke-width="1"/>
<g font-family="Liberation Sans, sans-serif" font-size="9.75" fill="#000"><text transform="translate(661 797.3) scale(0.95 1)">−5</text><text transform="translate(661 774.4) scale(0.95 1)">−4</text><text transform="translate(661 751.5) scale(0.95 1)">−3</text><text transform="translate(661 728.7) scale(0.95 1)">−2</text><text transform="translate(661 705.8) scale(0.95 1)">−1</text><text transform="translate(661 682.9) scale(0.95 1)">0</text><text transform="translate(661 660) scale(0.95 1)">1</text><text transform="translate(661 637.1) scale(0.95 1)">2</text><text transform="translate(661 614.3) scale(0.95 1)">3</text><text transform="translate(661 591.4) scale(0.95 1)">4</text><text transform="translate(661 568.5) scale(0.95 1)">5</text></g>
<text font-family="Liberation Sans, sans-serif" font-size="10" fill="#000" transform="translate(682.1 683.6) rotate(-90)" text-anchor="middle">Δ Vx+y [ m/s ]</text>
</svg></body></html>
